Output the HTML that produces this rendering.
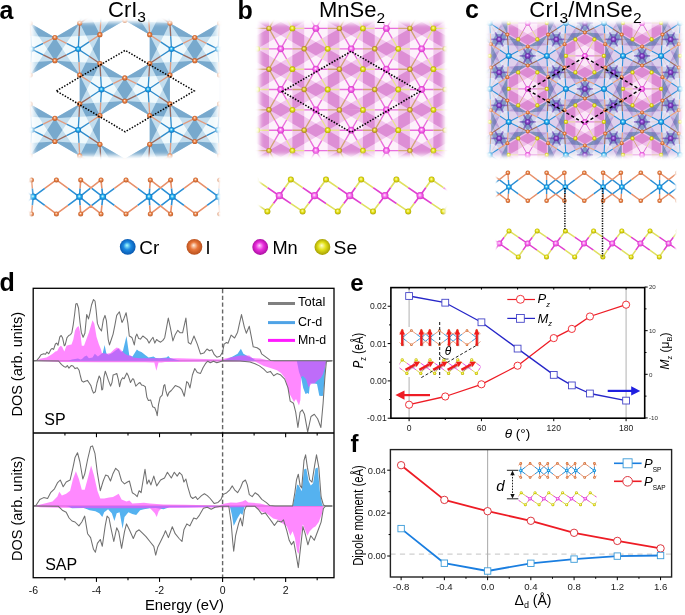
<!DOCTYPE html>
<html><head><meta charset="utf-8"><style>
html,body{margin:0;padding:0;background:#fff;}
svg{display:block;font-family:"Liberation Sans", sans-serif;will-change:transform;}
</style></head><body>
<svg width="685" height="615" viewBox="0 0 685 615">
<defs><radialGradient id="gCr" cx="50%" cy="50%" r="55%" fx="45%" fy="40%"><stop offset="0" stop-color="#e8ffff"/><stop offset="0.45" stop-color="#22b0f0"/><stop offset="1" stop-color="#0a68b8"/></radialGradient><radialGradient id="gI" cx="50%" cy="50%" r="55%" fx="45%" fy="40%"><stop offset="0" stop-color="#fff2e0"/><stop offset="0.45" stop-color="#e9824a"/><stop offset="1" stop-color="#b8561f"/></radialGradient><radialGradient id="gMn" cx="50%" cy="50%" r="55%" fx="45%" fy="40%"><stop offset="0" stop-color="#fff0ff"/><stop offset="0.45" stop-color="#f86cec"/><stop offset="1" stop-color="#d02ac4"/></radialGradient><radialGradient id="gSe" cx="50%" cy="50%" r="55%" fx="45%" fy="40%"><stop offset="0" stop-color="#ffffc0"/><stop offset="0.45" stop-color="#e6e21a"/><stop offset="1" stop-color="#a8a000"/></radialGradient><radialGradient id="gSe2" cx="50%" cy="50%" r="55%" fx="45%" fy="40%"><stop offset="0" stop-color="#ffffa0"/><stop offset="0.45" stop-color="#dcc434"/><stop offset="1" stop-color="#a07018"/></radialGradient><radialGradient id="gCrL" cx="50%" cy="50%" r="55%" fx="45%" fy="40%"><stop offset="0" stop-color="#a8ffff"/><stop offset="0.45" stop-color="#1a88e0"/><stop offset="1" stop-color="#0650a8"/></radialGradient><radialGradient id="gIL" cx="50%" cy="50%" r="55%" fx="45%" fy="40%"><stop offset="0" stop-color="#fff0e0"/><stop offset="0.45" stop-color="#e8763a"/><stop offset="1" stop-color="#b04a18"/></radialGradient><radialGradient id="gMnL" cx="50%" cy="50%" r="55%" fx="45%" fy="40%"><stop offset="0" stop-color="#ffd0ff"/><stop offset="0.45" stop-color="#ea30dc"/><stop offset="1" stop-color="#a00898"/></radialGradient><radialGradient id="gSeL" cx="50%" cy="50%" r="55%" fx="45%" fy="40%"><stop offset="0" stop-color="#ffffd0"/><stop offset="0.45" stop-color="#e2e018"/><stop offset="1" stop-color="#9a9400"/></radialGradient><radialGradient id="gMnP" cx="50%" cy="50%" r="55%" fx="45%" fy="40%"><stop offset="0" stop-color="#e0c0ff"/><stop offset="0.45" stop-color="#8a48d0"/><stop offset="1" stop-color="#5a2090"/></radialGradient><filter id="mAf" x="-20%" y="-20%" width="140%" height="140%"><feGaussianBlur stdDeviation="1.9"/></filter><mask id="mA" maskUnits="userSpaceOnUse" x="0" y="0" width="685" height="615"><rect x="33.6" y="22.6" width="182.9" height="132.6" fill="#fff" filter="url(#mAf)"/></mask><filter id="mAsf" x="-20%" y="-20%" width="140%" height="140%"><feGaussianBlur stdDeviation="1.5"/></filter><mask id="mAs" maskUnits="userSpaceOnUse" x="0" y="0" width="685" height="615"><rect x="31" y="172" width="187" height="46" fill="#fff" filter="url(#mAsf)"/></mask><filter id="mBf" x="-20%" y="-20%" width="140%" height="140%"><feGaussianBlur stdDeviation="2.0"/></filter><mask id="mB" maskUnits="userSpaceOnUse" x="0" y="0" width="685" height="615"><rect x="259.8" y="23.8" width="183.5" height="131" fill="#fff" filter="url(#mBf)"/></mask><filter id="mBsf" x="-20%" y="-20%" width="140%" height="140%"><feGaussianBlur stdDeviation="1.5"/></filter><mask id="mBs" maskUnits="userSpaceOnUse" x="0" y="0" width="685" height="615"><rect x="260.5" y="172" width="184" height="45" fill="#fff" filter="url(#mBsf)"/></mask><filter id="mCf" x="-20%" y="-20%" width="140%" height="140%"><feGaussianBlur stdDeviation="2.0"/></filter><mask id="mC" maskUnits="userSpaceOnUse" x="0" y="0" width="685" height="615"><rect x="490" y="24" width="189.5" height="131.5" fill="#fff" filter="url(#mCf)"/></mask><filter id="mCsf" x="-20%" y="-20%" width="140%" height="140%"><feGaussianBlur stdDeviation="1.2"/></filter><mask id="mCs" maskUnits="userSpaceOnUse" x="0" y="0" width="685" height="615"><rect x="497" y="168" width="178" height="37" fill="#fff" filter="url(#mCsf)"/></mask><filter id="mCs2f" x="-20%" y="-20%" width="140%" height="140%"><feGaussianBlur stdDeviation="1.2"/></filter><mask id="mCs2" maskUnits="userSpaceOnUse" x="0" y="0" width="685" height="615"><rect x="497" y="226" width="178" height="35" fill="#fff" filter="url(#mCs2f)"/></mask></defs>
<rect width="685" height="615" fill="#fff"/>
<line x1="34" y1="360.8" x2="333" y2="360.8" stroke="#9a9a9a" stroke-width="1"/>
<polygon points="68,360.8 68,360.8 72,359.5 75,359 78,358.5 80.4,359.5 82,359 84.5,356.5 86.7,355.6 88.9,358.3 92.5,357.4 94.8,353.8 97.9,356.5 101.5,353.8 102.8,353 104.6,344.9 106.4,353.5 108.6,354.7 112.2,352.9 115.8,350.2 118.5,348.5 121.1,352 122.9,351.1 126.5,336 128,346.7 129.3,355.6 132.5,356.5 134.7,352.9 136.9,349.4 138.7,351.1 141.4,352 143.7,353.8 145.9,355.6 148.6,357.4 151.3,357 153.5,356.5 155.7,357.9 159.3,358.3 166.5,357.4 168.3,356.1 170,357.9 172.7,358.7 180,360.8 222,360.8 225.9,359.5 232.7,356.6 237.6,353.7 240.9,348.8 243.4,353.7 248.3,356.6 252.2,358.1 256,360.8 256,360.8" fill="#55b2f0" fill-opacity="1.0"/>
<polygon points="296.8,360.8 296.8,360.8 299,372 301.2,378 303.2,388 305.5,393.9 307.7,393 308.9,393.9 310,383.5 314.3,383.5 317,384 319.3,395.8 321.5,396 323.1,395.8 324.5,380 325.3,365.9 326.4,360.8 326.4,360.8" fill="#55b2f0" fill-opacity="1.0"/>
<polygon points="34,360.8 34,360.8 36.6,360.5 40.2,358.7 46.4,357.4 50,355.6 52.7,353.8 55.4,351.6 57.2,351.1 59,347.6 60.7,345.8 62.1,346.7 64.3,351.6 66.5,345.8 68.8,344.9 71.5,344.4 73.3,339.5 75,330.6 76.8,327.4 78.6,326.1 80.4,333.3 81.8,345.8 84,345.8 86.3,339.5 88.9,332.4 92.5,320.3 94.3,323.4 96.5,336.8 98.8,344 101,349.4 101.9,352.9 106.8,353.8 110.4,352.9 114,349.4 116.7,347.6 119.4,348.5 122,351.1 124.7,353.8 128,355.5 130.7,355.6 133,357.5 140,358.3 178,358.3 222,359.5 224.9,358.5 232.7,357 240.5,355.6 249.3,355.6 252.2,358.1 260,358.5 270,360.8 270,360.8" fill="#ff40ff" fill-opacity="0.62"/>
<polygon points="34,360.8 34,360.8 60,362 100,362.3 145,362.3 152,362.4 154.3,362.6 156.4,370.8 158.5,362.6 161.6,362.4 165,362 222,361.5 255,361.5 259.4,363.7 263.8,365.9 270.4,368.1 277,370.3 281,373 285,378 289,393 291.8,398 294,402 296,399 299,405.5 300.4,400 301.2,377 303,376 306,379 308.5,387.3 311.7,383.5 314.6,383.5 317.4,380.6 320.9,378 323.1,374 326.4,361.5 327,360.8 327,360.8" fill="#ff40ff" fill-opacity="0.62"/>
<polyline points="34,360.8 36.6,360.5 39.3,357.4 41,354.7 43.7,353.8 45.5,354.3 46.9,352 48.7,353.8 50.9,349.4 52.2,348.5 53.6,349.4 55.4,344 56.7,343.1 58,345.3 59.8,336.8 61.2,335.5 62.5,337.7 64.3,345.8 65.2,344.9 67,337.7 68.8,335.5 70.6,334.6 71.9,332.4 73.3,324.3 74.6,314.5 75.8,304 77,303.5 78.5,308 80,322.5 81.3,332.4 83.1,337.3 84.9,333.3 86.7,314.5 88.5,318.9 89.8,313.6 91.5,305 93.5,299.5 95,301 96.1,310 97.4,323.4 99.2,327.9 101.5,331 103.3,319.8 105,315.4 106.4,320.7 108.2,339.5 109.5,344.9 111.3,339.5 113.1,334.1 114.9,325.2 116.7,315.4 119.4,311.8 122,322.5 123.8,318.9 126.1,312.7 127.9,323.4 129.3,336 130.7,336.8 132,337.7 134.3,344.9 135.6,336.8 136.9,334.1 138.7,338.6 140.5,339.1 142.8,336 145,337.7 147.2,339.5 149,343.1 151.3,339.5 153,337.3 154.8,343.1 156.6,339.5 158.9,341.3 160.6,342.2 162.9,340.4 164.7,337.7 166.5,327.9 168.3,318 170.4,327.9 172.9,340.9 175.3,334.4 177.8,330.3 180.2,332.8 182.6,332.8 185.9,318.1 188.3,342.5 190.8,344.1 194,336 197.3,344.1 200.5,353.9 203.8,353.1 207,349 209.5,350.7 211.9,349.8 214.3,354.7 216.8,357.2 220,356.3 222.5,352.3 224.1,344.1 226.5,342.5 228,343.3 231.1,335.1 234.6,338 237.6,332.2 239.5,323.4 241.5,314.6 244.4,327.3 246.3,333.2 249.3,326.3 251.2,336.1 253.2,346.8 257.1,347.8 260,349.8 261.6,353.8 266,357.1 270.4,360.4 275,360.8 332,360.8" fill="none" stroke="#707070" stroke-width="1.05" stroke-linejoin="round" />
<polyline points="34,360.8 58.5,361 61.6,364.6 63.8,366.4 65.9,367.3 67.3,365.5 69,368.1 71.2,365.5 73,366 75.1,368.6 77.3,367.7 79.1,370.3 80.4,376 81.7,380.8 83.5,382.1 85.2,381.3 87.4,380.4 89.2,383 90.9,385.6 92.2,390 93.5,393.1 95.3,391.8 97,383 99.2,376 100.5,378.6 101.8,390 102.7,389.2 104,376.9 105.3,371.2 106.7,375.1 108.4,380.4 110.6,386.1 112,382.5 113.1,375.1 114.6,374.5 116.8,373.5 118.3,379.3 119.6,386.7 121,380.4 122.6,377.7 124.1,378.8 126.8,373 128.4,376.1 130.5,382.5 132.6,378.8 133.7,379.3 135.8,386.2 138.4,383.5 140,382.5 141.6,385.1 143.7,385.6 145.3,386.7 146.9,397.3 148.4,400.4 150.6,399.9 152.7,406.8 154.8,407.8 156.4,412 157.2,415.7 158.5,404.6 160.1,397.3 162.2,395.1 163.8,385.6 164.8,384.6 165.9,390.9 167.5,396.2 169,392.5 171.3,390.5 175.3,385.6 179.4,387.2 181.8,389.7 184.3,396.2 186.7,381.5 188.3,383.2 190,388 192.4,375 194.8,368.5 197.3,372.6 200.5,373.4 203,367.7 205.4,363.7 207.8,361.2 210.3,362.8 213.5,361.2 216.8,362.8 220,361.7 223.3,360.7 240,361 250,362 255,363.7 259.4,365.9 263.8,369.2 267.1,372.5 270.4,371.4 273.7,375.8 277,373.6 280.3,374.7 284.7,379.1 288,387.9 290.2,401.1 293.5,403.3 295.7,412.1 297.9,427.5 300.1,412.1 302.3,409.9 304.5,414.3 307.7,431.9 311,416.5 314.3,414.3 317.6,418.7 320.9,427.5 323.1,403.3 324.9,376.9 326.4,361.5 332,360.8" fill="none" stroke="#707070" stroke-width="1.05" stroke-linejoin="round" />
<line x1="34" y1="506.0" x2="333" y2="506.0" stroke="#9a9a9a" stroke-width="1"/>
<polygon points="292.8,506 292.8,506 295.6,492.4 297.2,484.4 298.8,485.6 301.7,491.3 304,469.6 306.3,468.5 308.6,481 310.8,485.6 313.1,483.3 315.4,468.5 317.7,467.4 320,492.4 322.2,505 323,506 323,506" fill="#55b2f0" fill-opacity="1.0"/>
<polygon points="66,506 66,506 68.1,506.5 72,508.3 83.7,507.9 89.6,510.2 95.4,511.2 99.3,513.2 102.3,517.1 104.2,512.2 108.1,509.3 108.9,510.2 111.8,513.2 114.4,521 116.7,513.2 119.6,512.2 122.6,528.8 124.5,517.1 128.4,512.2 132.3,514.1 136.2,515.1 140.1,510.2 144,509.3 149.9,508.3 155.7,507.9 163.5,509.3 169.4,507.3 185,507.3 200,507 220,506.5 229.8,506.4 231.7,514.1 233.7,525.9 235.6,522 237.6,518 240.5,513.2 242.4,515.1 244.4,507.3 246,506 246,506" fill="#55b2f0" fill-opacity="1.0"/>
<polygon points="34,506 34,506 44.7,503.4 52.5,501.5 57.4,496.6 59.3,491.7 61.9,495.6 66.2,493.7 70.1,490.7 73,479 75.9,471.2 78.9,479 81.8,489.8 84.7,489.8 87.6,479 91.1,465.4 93.9,475.1 97.4,490.7 100.3,498.5 104.2,498.5 109.1,497.6 113,497 115.7,495.6 118.7,493.7 121.6,499.5 126.5,501.5 129.4,500.5 132.3,503.4 144,502.8 149.9,503.4 163.5,504.4 185,504.8 219,505.4 224.9,503.4 230.7,502.4 236.6,502.8 242.4,501.5 245.4,500.1 248.3,502.4 260,503.4 266,505 270,506 270,506" fill="#ff40ff" fill-opacity="0.62"/>
<polygon points="34,506 34,506 40,507.2 60,507.8 100,508.2 145,508.2 149.9,508 154.8,513.2 156.7,517.1 158.7,511.2 161.6,508.3 165,508 222,507.5 255,507 257.3,508.4 261.8,511.8 267.5,514.1 273.2,518.6 277.8,519.8 282.4,523.2 286.9,526.6 290.3,535.7 292.6,531.2 294.9,538 297.2,551.7 298.8,554 300.6,535.7 302.9,524.3 305.1,530 307.4,535.7 309.7,531.2 313.1,527.7 315.4,526.6 318.8,522.1 322.2,512.9 323.4,506.1 324,506 324,506" fill="#ff40ff" fill-opacity="0.62"/>
<polyline points="34,506 35.9,505.5 39.8,499.5 43.7,497.6 47.6,498.5 50.6,492.7 54.5,488.8 57.4,482.9 60.3,480 63.2,486.8 66.2,482 70.1,480 73,467.3 75,457.6 77.5,452.7 79.8,461.5 82.8,479 84.7,474.1 87.6,459.5 90.6,446.8 92.5,445.9 95,453.7 97.4,473.2 100.3,490.7 103.2,481 105.6,475.1 108.1,476.1 110.5,481 112.8,474.1 115.7,468.3 118.7,471.2 121.6,481 124.5,483.9 127.4,482 129.4,481 132.3,492.7 135.2,494.6 137.2,496.6 139.1,490.7 141.1,492.7 143,481 145,469.3 147,483.9 148.9,480 150.9,484.9 153.8,476.1 156.7,485.9 160.6,480 164.5,478 167.4,472.2 171.3,478 174.3,472.2 177.2,476.1 179.5,472.5 182,475.1 183.9,482 185.9,479 187.8,486.8 190.7,496.6 192.7,498.5 195.6,496.6 197.6,499.5 201.5,495.6 204.4,493.7 207.3,495.6 210.2,498.5 214.1,503.4 218,502.4 221,499.5 222.9,494.6 226.8,492.7 229.8,489.8 232.3,485.9 234.6,489.8 237.6,492.7 240.5,487.8 242.8,482 245.4,480 247.3,484.9 249.3,494.6 252.2,496.6 255.1,492.7 258,494.7 261.8,499.3 266.4,502.7 269.8,505.6 275,506 292.6,506 294.9,492.4 296.5,479.9 298.3,474.2 300.1,485.6 301.7,487.9 304,460.5 305.6,454.8 307.4,467.4 309.7,479.9 312,482.2 314.7,465.1 316.5,454.8 318.8,467.4 321.1,497 323.4,505 325.7,506 332,506" fill="none" stroke="#707070" stroke-width="1.05" stroke-linejoin="round" />
<polyline points="34,506 58.4,506.3 62.3,510.2 66.2,512.2 69.1,518 72,521 75,522 78.9,525.9 81.8,522 84.7,516.1 87.6,533.7 90.6,537.6 93.5,549.3 95.4,552.2 97.4,543.4 100.3,539.5 102.3,546.3 105.2,525.9 107.1,516.1 109,518 110.9,527.8 113.8,541.5 116.7,527.8 118.7,531.7 121.6,548.3 124.5,531.7 126.5,523.9 129.4,529.8 133.3,538.5 136.2,531.7 139.1,529.8 143,533.7 146,536.6 149.9,541.5 153.8,546.3 155.7,555.1 157.7,547.3 160.6,541.5 163.5,535.6 165.5,530.7 168.4,537.6 172.3,526.8 175.2,533.7 179.1,538.5 182,541.5 183.9,529.8 186.8,523.9 189.8,525.9 193.7,518 196.6,519 199.5,515.1 203.4,508.3 207.3,507.3 211.2,509.3 215.1,507.3 221,506.3 228.8,506.3 231.1,522 232.7,541.5 233.7,551.2 235.6,535.6 238.5,523.9 240.5,518 242.4,525.9 244.4,510.2 246.3,506.3 255,506.3 258.4,509.5 261.8,514.1 265.3,512.9 268.7,517.5 272.1,522.1 274.4,525.5 277.8,520.9 281.2,522.1 283.5,519.8 286.9,531.2 289.2,540.3 291.5,544.8 293.7,541.4 296,554 298.3,567.6 300.6,547.1 302.9,526.6 305.1,533.4 307.9,544.8 310.8,535.7 314.3,540.3 317.7,531.2 321.1,522.1 323.4,508.4 325.7,506 332,506" fill="none" stroke="#707070" stroke-width="1.05" stroke-linejoin="round" />
<line x1="222.6" y1="289" x2="222.6" y2="577" stroke="#666" stroke-width="1.4" stroke-dasharray="4.2,2.6"/>
<rect x="33.2" y="288.3" width="300.8" height="289.4" fill="none" stroke="#000" stroke-width="1.3"/>
<line x1="33.2" y1="433" x2="334" y2="433" stroke="#000" stroke-width="1.3"/>
<line x1="64.93" y1="433" x2="64.93" y2="435.6" stroke="#000" stroke-width="1.1"/>
<line x1="64.93" y1="577.7" x2="64.93" y2="580.3" stroke="#000" stroke-width="1.1"/>
<line x1="96.46" y1="433" x2="96.46" y2="437.2" stroke="#000" stroke-width="1.1"/>
<line x1="96.46" y1="577.7" x2="96.46" y2="581.9" stroke="#000" stroke-width="1.1"/>
<line x1="127.99" y1="433" x2="127.99" y2="435.6" stroke="#000" stroke-width="1.1"/>
<line x1="127.99" y1="577.7" x2="127.99" y2="580.3" stroke="#000" stroke-width="1.1"/>
<line x1="159.52" y1="433" x2="159.52" y2="437.2" stroke="#000" stroke-width="1.1"/>
<line x1="159.52" y1="577.7" x2="159.52" y2="581.9" stroke="#000" stroke-width="1.1"/>
<line x1="191.05" y1="433" x2="191.05" y2="435.6" stroke="#000" stroke-width="1.1"/>
<line x1="191.05" y1="577.7" x2="191.05" y2="580.3" stroke="#000" stroke-width="1.1"/>
<line x1="222.58" y1="433" x2="222.58" y2="437.2" stroke="#000" stroke-width="1.1"/>
<line x1="222.58" y1="577.7" x2="222.58" y2="581.9" stroke="#000" stroke-width="1.1"/>
<line x1="254.11" y1="433" x2="254.11" y2="435.6" stroke="#000" stroke-width="1.1"/>
<line x1="254.11" y1="577.7" x2="254.11" y2="580.3" stroke="#000" stroke-width="1.1"/>
<line x1="285.64" y1="433" x2="285.64" y2="437.2" stroke="#000" stroke-width="1.1"/>
<line x1="285.64" y1="577.7" x2="285.64" y2="581.9" stroke="#000" stroke-width="1.1"/>
<line x1="317.17" y1="433" x2="317.17" y2="435.6" stroke="#000" stroke-width="1.1"/>
<line x1="317.17" y1="577.7" x2="317.17" y2="580.3" stroke="#000" stroke-width="1.1"/>
<text x="33.4" y="593.8" font-size="10.5" text-anchor="middle" font-weight="normal" font-style="normal" fill="#111" >-6</text>
<text x="96.46" y="593.8" font-size="10.5" text-anchor="middle" font-weight="normal" font-style="normal" fill="#111" >-4</text>
<text x="159.52" y="593.8" font-size="10.5" text-anchor="middle" font-weight="normal" font-style="normal" fill="#111" >-2</text>
<text x="222.58" y="593.8" font-size="10.5" text-anchor="middle" font-weight="normal" font-style="normal" fill="#111" >0</text>
<text x="285.64" y="593.8" font-size="10.5" text-anchor="middle" font-weight="normal" font-style="normal" fill="#111" >2</text>
<text x="184.4" y="609.7" font-size="14.3" text-anchor="middle" font-weight="normal" font-style="normal" fill="#000" textLength="79" lengthAdjust="spacingAndGlyphs">Energy (eV)</text>
<line x1="268" y1="303.5" x2="295" y2="303.5" stroke="#808080" stroke-width="3"/>
<line x1="268" y1="322.6" x2="295" y2="322.6" stroke="#4fa3e6" stroke-width="3"/>
<line x1="268" y1="340.4" x2="295" y2="340.4" stroke="#ff1aff" stroke-width="3"/>
<text x="298" y="305.6" font-size="12.2" text-anchor="start" font-weight="normal" font-style="normal" fill="#000" textLength="27.3" lengthAdjust="spacingAndGlyphs">Total</text>
<text x="298" y="326.2" font-size="12.2" text-anchor="start" font-weight="normal" font-style="normal" fill="#000" textLength="24.3" lengthAdjust="spacingAndGlyphs">Cr-d</text>
<text x="298" y="344.4" font-size="12.2" text-anchor="start" font-weight="normal" font-style="normal" fill="#000" textLength="28.2" lengthAdjust="spacingAndGlyphs">Mn-d</text>
<text x="44.3" y="425.2" font-size="16" text-anchor="start" font-weight="normal" font-style="normal" fill="#000" >SP</text>
<text x="45.2" y="569.5" font-size="16" text-anchor="start" font-weight="normal" font-style="normal" fill="#000" >SAP</text>
<text x="-0.5" y="290.5" font-size="25" text-anchor="start" font-weight="bold" font-style="normal" fill="#000" >d</text>
<text transform="translate(21.6,364.2) rotate(-90)" font-size="14.5" text-anchor="middle">DOS (arb. units)</text>
<text transform="translate(21.6,508.6) rotate(-90)" font-size="14.5" text-anchor="middle">DOS (arb. units)</text>
<line x1="409.1" y1="287.6" x2="409.1" y2="418.2" stroke="#b8b8b8" stroke-width="1.1"/>
<line x1="626.09" y1="287.6" x2="626.09" y2="418.2" stroke="#b8b8b8" stroke-width="1.1"/>
<polyline points="409.1,404.7 445.27,396.5 481.43,384.3 517.6,365.7 553.76,338.1 571.84,328.9 589.92,316.5 626.09,304.7" fill="none" stroke="#ee1c25" stroke-width="1.3" stroke-linejoin="round" />
<polyline points="409.1,296 445.27,302.7 481.43,322.3 517.6,348.6 553.76,374.9 571.84,385.4 589.92,393.5 626.09,400.6" fill="none" stroke="#2626c8" stroke-width="1.3" stroke-linejoin="round" />
<circle cx="409.1" cy="404.7" r="3.6" fill="#fff" stroke="#ee1c25" stroke-width="0.9"/>
<circle cx="445.27" cy="396.5" r="3.6" fill="#fff" stroke="#ee1c25" stroke-width="0.9"/>
<circle cx="481.43" cy="384.3" r="3.6" fill="#fff" stroke="#ee1c25" stroke-width="0.9"/>
<circle cx="517.6" cy="365.7" r="3.6" fill="#fff" stroke="#ee1c25" stroke-width="0.9"/>
<circle cx="553.76" cy="338.1" r="3.6" fill="#fff" stroke="#ee1c25" stroke-width="0.9"/>
<circle cx="571.84" cy="328.9" r="3.6" fill="#fff" stroke="#ee1c25" stroke-width="0.9"/>
<circle cx="589.92" cy="316.5" r="3.6" fill="#fff" stroke="#ee1c25" stroke-width="0.9"/>
<circle cx="626.09" cy="304.7" r="3.6" fill="#fff" stroke="#ee1c25" stroke-width="0.9"/>
<rect x="405.7" y="292.6" width="6.8" height="6.8" fill="#fff" stroke="#4545c8" stroke-width="0.9"/>
<rect x="441.87" y="299.3" width="6.8" height="6.8" fill="#fff" stroke="#4545c8" stroke-width="0.9"/>
<rect x="478.03" y="318.9" width="6.8" height="6.8" fill="#fff" stroke="#4545c8" stroke-width="0.9"/>
<rect x="514.2" y="345.2" width="6.8" height="6.8" fill="#fff" stroke="#4545c8" stroke-width="0.9"/>
<rect x="550.36" y="371.5" width="6.8" height="6.8" fill="#fff" stroke="#4545c8" stroke-width="0.9"/>
<rect x="568.44" y="382" width="6.8" height="6.8" fill="#fff" stroke="#4545c8" stroke-width="0.9"/>
<rect x="586.52" y="390.1" width="6.8" height="6.8" fill="#fff" stroke="#4545c8" stroke-width="0.9"/>
<rect x="622.69" y="397.2" width="6.8" height="6.8" fill="#fff" stroke="#4545c8" stroke-width="0.9"/>
<rect x="390.9" y="287.6" width="253.8" height="130.6" fill="none" stroke="#000" stroke-width="1.6"/>
<line x1="387.7" y1="306.24" x2="390.9" y2="306.24" stroke="#000" stroke-width="1"/>
<text x="386.7" y="309.24" font-size="8.6" text-anchor="end" font-weight="normal" font-style="normal" fill="#222" >0.02</text>
<line x1="387.7" y1="343.57" x2="390.9" y2="343.57" stroke="#000" stroke-width="1"/>
<text x="386.7" y="346.57" font-size="8.6" text-anchor="end" font-weight="normal" font-style="normal" fill="#222" >0.01</text>
<line x1="387.7" y1="380.9" x2="390.9" y2="380.9" stroke="#000" stroke-width="1"/>
<text x="386.7" y="383.9" font-size="8.6" text-anchor="end" font-weight="normal" font-style="normal" fill="#222" >0.00</text>
<line x1="387.7" y1="418.23" x2="390.9" y2="418.23" stroke="#000" stroke-width="1"/>
<text x="386.7" y="421.23" font-size="8.6" text-anchor="end" font-weight="normal" font-style="normal" fill="#222" >-0.01</text>
<line x1="389.09999999999997" y1="324.9" x2="390.9" y2="324.9" stroke="#000" stroke-width="1"/>
<line x1="389.09999999999997" y1="362.23" x2="390.9" y2="362.23" stroke="#000" stroke-width="1"/>
<line x1="389.09999999999997" y1="399.56" x2="390.9" y2="399.56" stroke="#000" stroke-width="1"/>
<line x1="644.7" y1="287.04" x2="647.7" y2="287.04" stroke="#000" stroke-width="1"/>
<text x="648.9" y="289.24" font-size="6.2" text-anchor="start" font-weight="normal" font-style="normal" fill="#333" >20</text>
<line x1="644.7" y1="330.67" x2="647.7" y2="330.67" stroke="#000" stroke-width="1"/>
<text x="648.9" y="332.87" font-size="6.2" text-anchor="start" font-weight="normal" font-style="normal" fill="#333" >10</text>
<line x1="644.7" y1="374.3" x2="647.7" y2="374.3" stroke="#000" stroke-width="1"/>
<text x="648.9" y="376.5" font-size="6.2" text-anchor="start" font-weight="normal" font-style="normal" fill="#333" >0</text>
<line x1="644.7" y1="417.93" x2="647.7" y2="417.93" stroke="#000" stroke-width="1"/>
<text x="648.9" y="420.13" font-size="6.2" text-anchor="start" font-weight="normal" font-style="normal" fill="#333" >-10</text>
<line x1="644.7" y1="308.86" x2="646.5" y2="308.86" stroke="#000" stroke-width="1"/>
<line x1="644.7" y1="352.49" x2="646.5" y2="352.49" stroke="#000" stroke-width="1"/>
<line x1="644.7" y1="396.12" x2="646.5" y2="396.12" stroke="#000" stroke-width="1"/>
<line x1="409.1" y1="418.2" x2="409.1" y2="421.2" stroke="#000" stroke-width="1"/>
<line x1="409.1" y1="287.6" x2="409.1" y2="289.6" stroke="#000" stroke-width="1"/>
<line x1="445.27" y1="418.2" x2="445.27" y2="420.0" stroke="#000" stroke-width="1"/>
<line x1="445.27" y1="287.6" x2="445.27" y2="289.6" stroke="#000" stroke-width="1"/>
<line x1="481.43" y1="418.2" x2="481.43" y2="421.2" stroke="#000" stroke-width="1"/>
<line x1="481.43" y1="287.6" x2="481.43" y2="289.6" stroke="#000" stroke-width="1"/>
<line x1="517.6" y1="418.2" x2="517.6" y2="420.0" stroke="#000" stroke-width="1"/>
<line x1="517.6" y1="287.6" x2="517.6" y2="289.6" stroke="#000" stroke-width="1"/>
<line x1="553.76" y1="418.2" x2="553.76" y2="421.2" stroke="#000" stroke-width="1"/>
<line x1="553.76" y1="287.6" x2="553.76" y2="289.6" stroke="#000" stroke-width="1"/>
<line x1="589.92" y1="418.2" x2="589.92" y2="420.0" stroke="#000" stroke-width="1"/>
<line x1="589.92" y1="287.6" x2="589.92" y2="289.6" stroke="#000" stroke-width="1"/>
<line x1="626.09" y1="418.2" x2="626.09" y2="421.2" stroke="#000" stroke-width="1"/>
<line x1="626.09" y1="287.6" x2="626.09" y2="289.6" stroke="#000" stroke-width="1"/>
<text x="409.1" y="430.8" font-size="8.6" text-anchor="middle" font-weight="normal" font-style="normal" fill="#222" >0</text>
<text x="481.43" y="430.8" font-size="8.6" text-anchor="middle" font-weight="normal" font-style="normal" fill="#222" >60</text>
<text x="553.76" y="430.8" font-size="8.6" text-anchor="middle" font-weight="normal" font-style="normal" fill="#222" >120</text>
<text x="626.09" y="430.8" font-size="8.6" text-anchor="middle" font-weight="normal" font-style="normal" fill="#222" >180</text>
<text x="517.5" y="438.3" font-size="13.5" text-anchor="middle" font-weight="normal" font-style="normal" fill="#000" ><tspan font-style="italic">θ</tspan> (°)</text>
<text transform="translate(363.3,350.5) rotate(-90) scale(0.8,1)" font-size="14" text-anchor="middle"><tspan font-style="italic">P</tspan><tspan font-size="9" dy="3">z</tspan><tspan dy="-3"> (eÅ)</tspan></text>
<text transform="translate(669,351) rotate(-90)" font-size="12" text-anchor="middle"><tspan font-style="italic">M</tspan><tspan font-size="7.5" dy="2.5">z</tspan><tspan dy="-2.5"> (μ</tspan><tspan font-size="7.5" dy="2.5">B</tspan><tspan dy="-2.5">)</tspan></text>
<line x1="507.3" y1="299.5" x2="535" y2="299.5" stroke="#ee1c25" stroke-width="1.2"/>
<circle cx="520.4" cy="299.3" r="4" fill="#fff" stroke="#ee1c25" stroke-width="0.9"/>
<line x1="507.3" y1="318.4" x2="535" y2="318.4" stroke="#2626c8" stroke-width="1.2"/>
<rect x="516.5" y="314.5" width="7.8" height="7.8" fill="#fff" stroke="#4545c8" stroke-width="0.9"/>
<text x="537.5" y="303" font-size="13" font-style="italic">P<tspan font-size="7.5" dy="3.6">z</tspan></text>
<text x="537.5" y="322.8" font-size="13" font-style="italic">M<tspan font-size="7.5" dy="3.2">z</tspan></text>
<line x1="430" y1="395.1" x2="402" y2="395.1" stroke="#ee1c25" stroke-width="2.2"/>
<polygon points="395.4,395.1 404.5,390.4 404.5,399.8" fill="#ee1c25"/>
<line x1="607.7" y1="390.9" x2="633" y2="390.9" stroke="#1f1fe0" stroke-width="2.2"/>
<polygon points="640.3,390.9 631.2,386.2 631.2,395.6" fill="#1f1fe0"/>
<text x="350.2" y="291.3" font-size="24" text-anchor="start" font-weight="bold" font-style="normal" fill="#000" >e</text>
<line x1="390.4" y1="554.1" x2="671.6" y2="554.1" stroke="#d0d0d0" stroke-width="1.3" stroke-dasharray="5.2,4.3"/>
<line x1="487.6" y1="449.6" x2="487.6" y2="577.0" stroke="#b0b0b0" stroke-width="1.1"/>
<polyline points="401.12,465.2 444.36,499.9 487.6,511.2 530.84,520.8 574.08,532.8 617.32,540.9 660.56,548.4" fill="none" stroke="#ee1c25" stroke-width="1.8" stroke-linejoin="round" />
<polyline points="401.12,528.6 444.36,563.2 487.6,571 530.84,563.3 574.08,559.1 617.32,556.1 660.56,555.5" fill="none" stroke="#1a7ee0" stroke-width="1.8" stroke-linejoin="round" />
<circle cx="401.12" cy="465.2" r="3.7" fill="#fff" stroke="#d8202a" stroke-width="0.9"/>
<circle cx="444.36" cy="499.9" r="3.7" fill="#fff" stroke="#d8202a" stroke-width="0.9"/>
<circle cx="487.6" cy="511.2" r="3.7" fill="#fff" stroke="#d8202a" stroke-width="0.9"/>
<circle cx="530.84" cy="520.8" r="3.7" fill="#fff" stroke="#d8202a" stroke-width="0.9"/>
<circle cx="574.08" cy="532.8" r="3.7" fill="#fff" stroke="#d8202a" stroke-width="0.9"/>
<circle cx="617.32" cy="540.9" r="3.7" fill="#fff" stroke="#d8202a" stroke-width="0.9"/>
<circle cx="660.56" cy="548.4" r="3.7" fill="#fff" stroke="#d8202a" stroke-width="0.9"/>
<rect x="397.92" y="525.4" width="6.4" height="6.4" fill="#fff" stroke="#3a9ad8" stroke-width="0.9"/>
<rect x="441.16" y="560" width="6.4" height="6.4" fill="#fff" stroke="#3a9ad8" stroke-width="0.9"/>
<rect x="484.4" y="567.8" width="6.4" height="6.4" fill="#fff" stroke="#3a9ad8" stroke-width="0.9"/>
<rect x="527.64" y="560.1" width="6.4" height="6.4" fill="#fff" stroke="#3a9ad8" stroke-width="0.9"/>
<rect x="570.88" y="555.9" width="6.4" height="6.4" fill="#fff" stroke="#3a9ad8" stroke-width="0.9"/>
<rect x="614.12" y="552.9" width="6.4" height="6.4" fill="#fff" stroke="#3a9ad8" stroke-width="0.9"/>
<rect x="657.36" y="552.3" width="6.4" height="6.4" fill="#fff" stroke="#3a9ad8" stroke-width="0.9"/>
<rect x="390.4" y="449.6" width="281.2" height="127.4" fill="none" stroke="#222" stroke-width="1.4"/>
<line x1="387.2" y1="470.2" x2="390.4" y2="470.2" stroke="#000" stroke-width="1"/>
<text x="385.9" y="473.5" font-size="9.3" text-anchor="end" font-weight="normal" font-style="normal" fill="#222" >0.04</text>
<line x1="387.2" y1="513.1" x2="390.4" y2="513.1" stroke="#000" stroke-width="1"/>
<text x="385.9" y="516.4" font-size="9.3" text-anchor="end" font-weight="normal" font-style="normal" fill="#222" >0.02</text>
<line x1="387.2" y1="556" x2="390.4" y2="556" stroke="#000" stroke-width="1"/>
<text x="385.9" y="559.3" font-size="9.3" text-anchor="end" font-weight="normal" font-style="normal" fill="#222" >0.00</text>
<line x1="388.59999999999997" y1="491.65" x2="390.4" y2="491.65" stroke="#000" stroke-width="1"/>
<line x1="388.59999999999997" y1="534.55" x2="390.4" y2="534.55" stroke="#000" stroke-width="1"/>
<line x1="401.12" y1="577.0" x2="401.12" y2="580.2" stroke="#000" stroke-width="1"/>
<line x1="422.74" y1="577.0" x2="422.74" y2="578.8" stroke="#000" stroke-width="1"/>
<line x1="444.36" y1="577.0" x2="444.36" y2="580.2" stroke="#000" stroke-width="1"/>
<line x1="465.98" y1="577.0" x2="465.98" y2="578.8" stroke="#000" stroke-width="1"/>
<line x1="487.6" y1="577.0" x2="487.6" y2="580.2" stroke="#000" stroke-width="1"/>
<line x1="509.22" y1="577.0" x2="509.22" y2="578.8" stroke="#000" stroke-width="1"/>
<line x1="530.84" y1="577.0" x2="530.84" y2="580.2" stroke="#000" stroke-width="1"/>
<line x1="552.46" y1="577.0" x2="552.46" y2="578.8" stroke="#000" stroke-width="1"/>
<line x1="574.08" y1="577.0" x2="574.08" y2="580.2" stroke="#000" stroke-width="1"/>
<line x1="595.7" y1="577.0" x2="595.7" y2="578.8" stroke="#000" stroke-width="1"/>
<line x1="617.32" y1="577.0" x2="617.32" y2="580.2" stroke="#000" stroke-width="1"/>
<line x1="638.94" y1="577.0" x2="638.94" y2="578.8" stroke="#000" stroke-width="1"/>
<line x1="660.56" y1="577.0" x2="660.56" y2="580.2" stroke="#000" stroke-width="1"/>
<text x="401.12" y="590.3" font-size="9.6" text-anchor="middle" font-weight="normal" font-style="normal" fill="#222" >-0.8</text>
<text x="444.36" y="590.3" font-size="9.6" text-anchor="middle" font-weight="normal" font-style="normal" fill="#222" >-0.4</text>
<text x="487.6" y="590.3" font-size="9.6" text-anchor="middle" font-weight="normal" font-style="normal" fill="#222" >0.0</text>
<text x="530.84" y="590.3" font-size="9.6" text-anchor="middle" font-weight="normal" font-style="normal" fill="#222" >0.4</text>
<text x="574.08" y="590.3" font-size="9.6" text-anchor="middle" font-weight="normal" font-style="normal" fill="#222" >0.8</text>
<text x="617.32" y="590.3" font-size="9.6" text-anchor="middle" font-weight="normal" font-style="normal" fill="#222" >1.2</text>
<text x="660.56" y="590.3" font-size="9.6" text-anchor="middle" font-weight="normal" font-style="normal" fill="#222" >1.6</text>
<text x="533" y="604.5" font-size="14" text-anchor="middle">Δ<tspan font-size="9" dy="3">d</tspan><tspan dy="-3"> (Å)</tspan></text>
<text transform="translate(363.4,515.5) rotate(-90) scale(0.755,1)" font-size="15" text-anchor="middle">Dipole moment (eÅ)</text>
<line x1="614" y1="463.3" x2="641.6" y2="463.3" stroke="#1a7ee0" stroke-width="1.6"/>
<rect x="623.1" y="458.8" width="9" height="9" fill="#fff" stroke="#3a9ad8" stroke-width="0.9"/>
<line x1="614" y1="481.3" x2="641.6" y2="481.3" stroke="#ee1c25" stroke-width="1.6"/>
<circle cx="627.6" cy="481.3" r="4.8" fill="#fff" stroke="#d8202a" stroke-width="0.9"/>
<text x="644" y="467.5" font-size="13" font-style="italic">P<tspan font-size="6.5" font-style="normal" dy="4">SP</tspan></text>
<text x="644" y="485.5" font-size="13" font-style="italic">P<tspan font-size="6.5" font-style="normal" dy="4">SAP</tspan></text>
<text x="350.5" y="451.5" font-size="24" text-anchor="start" font-weight="bold" font-style="normal" fill="#000" >f</text>
<g mask="url(#mA)">
<path d="M-15.1 158.7 9.8 144.3 30 155.9 30 184.7 9.8 196.3 -15.1 181.9ZM-15.1 77.9 9.8 63.5 30 75.1 30 103.9 9.8 115.5 -15.1 101.1ZM9.8 115.5 30 103.9 54.9 118.3 54.9 141.5 30 155.9 9.8 144.3ZM54.9 118.3 79.7 103.9 99.9 115.5 99.9 144.3 79.7 155.9 54.9 141.5ZM79.7 155.9 99.9 144.3 124.8 158.7 124.8 181.9 99.9 196.3 79.7 184.7ZM124.8 158.7 149.7 144.3 169.9 155.9 169.9 184.7 149.7 196.3 124.8 181.9ZM-15.1 -2.9 9.8 -17.3 30 -5.7 30 23.1 9.8 34.7 -15.1 20.3ZM9.8 34.7 30 23.1 54.9 37.5 54.9 60.7 30 75.1 9.8 63.5ZM54.9 37.5 79.7 23.1 99.9 34.7 99.9 63.5 79.7 75.1 54.9 60.7ZM79.7 75.1 99.9 63.5 124.8 77.9 124.8 101.1 99.9 115.5 79.7 103.9ZM124.8 77.9 149.7 63.5 169.9 75.1 169.9 103.9 149.7 115.5 124.8 101.1ZM149.7 115.5 169.9 103.9 194.8 118.3 194.8 141.5 169.9 155.9 149.7 144.3ZM194.8 118.3 219.7 103.9 239.9 115.5 239.9 144.3 219.7 155.9 194.8 141.5ZM219.7 155.9 239.9 144.3 264.8 158.7 264.8 181.9 239.9 196.3 219.7 184.7ZM79.7 -5.7 99.9 -17.3 124.8 -2.9 124.8 20.3 99.9 34.7 79.7 23.1ZM124.8 -2.9 149.7 -17.3 169.9 -5.7 169.9 23.1 149.7 34.7 124.8 20.3ZM149.7 34.7 169.9 23.1 194.8 37.5 194.8 60.7 169.9 75.1 149.7 63.5ZM194.8 37.5 219.7 23.1 239.9 34.7 239.9 63.5 219.7 75.1 194.8 60.7ZM219.7 75.1 239.9 63.5 264.8 77.9 264.8 101.1 239.9 115.5 219.7 103.9ZM219.7 -5.7 239.9 -17.3 264.8 -2.9 264.8 20.3 239.9 34.7 219.7 23.1Z" fill="#c2ddee"/>
<path d="M0.9 157.7 16 156.8 22.8 170.3 16 183.8 0.9 182.9 -7.4 170.3ZM0.9 76.9 16 76 22.8 89.5 16 103 0.9 102.1 -7.4 89.5ZM23.7 116.4 38.8 117.3 47.2 129.9 38.8 142.5 23.7 143.4 17 129.9ZM70.9 117.3 86 116.4 92.7 129.9 86 143.4 70.9 142.5 62.5 129.9ZM93.7 156.8 108.8 157.7 117.1 170.3 108.8 182.9 93.7 183.8 86.9 170.3ZM140.9 157.7 156 156.8 162.7 170.3 156 183.8 140.9 182.9 132.5 170.3ZM0.9 -3.9 16 -4.8 22.8 8.7 16 22.2 0.9 21.3 -7.4 8.7ZM23.7 35.6 38.8 36.5 47.2 49.1 38.8 61.7 23.7 62.6 17 49.1ZM70.9 36.5 86 35.6 92.7 49.1 86 62.6 70.9 61.7 62.5 49.1ZM93.7 76 108.8 76.9 117.1 89.5 108.8 102.1 93.7 103 86.9 89.5ZM140.9 76.9 156 76 162.7 89.5 156 103 140.9 102.1 132.5 89.5ZM163.7 116.4 178.8 117.3 187.1 129.9 178.8 142.5 163.7 143.4 156.9 129.9ZM210.8 117.3 225.9 116.4 232.7 129.9 225.9 143.4 210.8 142.5 202.5 129.9ZM233.6 156.8 248.7 157.7 257.1 170.3 248.7 182.9 233.6 183.8 226.9 170.3ZM93.7 -4.8 108.8 -3.9 117.1 8.7 108.8 21.3 93.7 22.2 86.9 8.7ZM140.9 -3.9 156 -4.8 162.7 8.7 156 22.2 140.9 21.3 132.5 8.7ZM163.7 35.6 178.8 36.5 187.1 49.1 178.8 61.7 163.7 62.6 156.9 49.1ZM210.8 36.5 225.9 35.6 232.7 49.1 225.9 62.6 210.8 61.7 202.5 49.1ZM233.6 76 248.7 76.9 257.1 89.5 248.7 102.1 233.6 103 226.9 89.5ZM233.6 -4.8 248.7 -3.9 257.1 8.7 248.7 21.3 233.6 22.2 226.9 8.7Z" fill="#f0f9fc"/>
<path d="M-15.1 158.7 9.8 144.3 0.9 157.7ZM9.8 144.3 30 155.9 16 156.8ZM30 155.9 30 184.7 22.8 170.3ZM30 184.7 9.8 196.3 16 183.8ZM9.8 196.3 -15.1 181.9 0.9 182.9ZM-15.1 181.9 -15.1 158.7 -7.4 170.3ZM-15.1 77.9 9.8 63.5 0.9 76.9ZM9.8 63.5 30 75.1 16 76ZM30 75.1 30 103.9 22.8 89.5ZM30 103.9 9.8 115.5 16 103ZM9.8 115.5 -15.1 101.1 0.9 102.1ZM-15.1 101.1 -15.1 77.9 -7.4 89.5ZM9.8 115.5 30 103.9 23.7 116.4ZM30 103.9 54.9 118.3 38.8 117.3ZM54.9 118.3 54.9 141.5 47.2 129.9ZM54.9 141.5 30 155.9 38.8 142.5ZM30 155.9 9.8 144.3 23.7 143.4ZM9.8 144.3 9.8 115.5 17 129.9ZM54.9 118.3 79.7 103.9 70.9 117.3ZM79.7 103.9 99.9 115.5 86 116.4ZM99.9 115.5 99.9 144.3 92.7 129.9ZM99.9 144.3 79.7 155.9 86 143.4ZM79.7 155.9 54.9 141.5 70.9 142.5ZM54.9 141.5 54.9 118.3 62.5 129.9ZM79.7 155.9 99.9 144.3 93.7 156.8ZM99.9 144.3 124.8 158.7 108.8 157.7ZM124.8 158.7 124.8 181.9 117.1 170.3ZM124.8 181.9 99.9 196.3 108.8 182.9ZM99.9 196.3 79.7 184.7 93.7 183.8ZM79.7 184.7 79.7 155.9 86.9 170.3ZM124.8 158.7 149.7 144.3 140.9 157.7ZM149.7 144.3 169.9 155.9 156 156.8ZM169.9 155.9 169.9 184.7 162.7 170.3ZM169.9 184.7 149.7 196.3 156 183.8ZM149.7 196.3 124.8 181.9 140.9 182.9ZM124.8 181.9 124.8 158.7 132.5 170.3ZM-15.1 -2.9 9.8 -17.3 0.9 -3.9ZM9.8 -17.3 30 -5.7 16 -4.8ZM30 -5.7 30 23.1 22.8 8.7ZM30 23.1 9.8 34.7 16 22.2ZM9.8 34.7 -15.1 20.3 0.9 21.3ZM-15.1 20.3 -15.1 -2.9 -7.4 8.7ZM9.8 34.7 30 23.1 23.7 35.6ZM30 23.1 54.9 37.5 38.8 36.5ZM54.9 37.5 54.9 60.7 47.2 49.1ZM54.9 60.7 30 75.1 38.8 61.7ZM30 75.1 9.8 63.5 23.7 62.6ZM9.8 63.5 9.8 34.7 17 49.1ZM54.9 37.5 79.7 23.1 70.9 36.5ZM79.7 23.1 99.9 34.7 86 35.6ZM99.9 34.7 99.9 63.5 92.7 49.1ZM99.9 63.5 79.7 75.1 86 62.6ZM79.7 75.1 54.9 60.7 70.9 61.7ZM54.9 60.7 54.9 37.5 62.5 49.1ZM79.7 75.1 99.9 63.5 93.7 76ZM99.9 63.5 124.8 77.9 108.8 76.9ZM124.8 77.9 124.8 101.1 117.1 89.5ZM124.8 101.1 99.9 115.5 108.8 102.1ZM99.9 115.5 79.7 103.9 93.7 103ZM79.7 103.9 79.7 75.1 86.9 89.5ZM124.8 77.9 149.7 63.5 140.9 76.9ZM149.7 63.5 169.9 75.1 156 76ZM169.9 75.1 169.9 103.9 162.7 89.5ZM169.9 103.9 149.7 115.5 156 103ZM149.7 115.5 124.8 101.1 140.9 102.1ZM124.8 101.1 124.8 77.9 132.5 89.5ZM149.7 115.5 169.9 103.9 163.7 116.4ZM169.9 103.9 194.8 118.3 178.8 117.3ZM194.8 118.3 194.8 141.5 187.1 129.9ZM194.8 141.5 169.9 155.9 178.8 142.5ZM169.9 155.9 149.7 144.3 163.7 143.4ZM149.7 144.3 149.7 115.5 156.9 129.9ZM194.8 118.3 219.7 103.9 210.8 117.3ZM219.7 103.9 239.9 115.5 225.9 116.4ZM239.9 115.5 239.9 144.3 232.7 129.9ZM239.9 144.3 219.7 155.9 225.9 143.4ZM219.7 155.9 194.8 141.5 210.8 142.5ZM194.8 141.5 194.8 118.3 202.5 129.9ZM219.7 155.9 239.9 144.3 233.6 156.8ZM239.9 144.3 264.8 158.7 248.7 157.7ZM264.8 158.7 264.8 181.9 257.1 170.3ZM264.8 181.9 239.9 196.3 248.7 182.9ZM239.9 196.3 219.7 184.7 233.6 183.8ZM219.7 184.7 219.7 155.9 226.9 170.3ZM79.7 -5.7 99.9 -17.3 93.7 -4.8ZM99.9 -17.3 124.8 -2.9 108.8 -3.9ZM124.8 -2.9 124.8 20.3 117.1 8.7ZM124.8 20.3 99.9 34.7 108.8 21.3ZM99.9 34.7 79.7 23.1 93.7 22.2ZM79.7 23.1 79.7 -5.7 86.9 8.7ZM124.8 -2.9 149.7 -17.3 140.9 -3.9ZM149.7 -17.3 169.9 -5.7 156 -4.8ZM169.9 -5.7 169.9 23.1 162.7 8.7ZM169.9 23.1 149.7 34.7 156 22.2ZM149.7 34.7 124.8 20.3 140.9 21.3ZM124.8 20.3 124.8 -2.9 132.5 8.7ZM149.7 34.7 169.9 23.1 163.7 35.6ZM169.9 23.1 194.8 37.5 178.8 36.5ZM194.8 37.5 194.8 60.7 187.1 49.1ZM194.8 60.7 169.9 75.1 178.8 61.7ZM169.9 75.1 149.7 63.5 163.7 62.6ZM149.7 63.5 149.7 34.7 156.9 49.1ZM194.8 37.5 219.7 23.1 210.8 36.5ZM219.7 23.1 239.9 34.7 225.9 35.6ZM239.9 34.7 239.9 63.5 232.7 49.1ZM239.9 63.5 219.7 75.1 225.9 62.6ZM219.7 75.1 194.8 60.7 210.8 61.7ZM194.8 60.7 194.8 37.5 202.5 49.1ZM219.7 75.1 239.9 63.5 233.6 76ZM239.9 63.5 264.8 77.9 248.7 76.9ZM264.8 77.9 264.8 101.1 257.1 89.5ZM264.8 101.1 239.9 115.5 248.7 102.1ZM239.9 115.5 219.7 103.9 233.6 103ZM219.7 103.9 219.7 75.1 226.9 89.5ZM219.7 -5.7 239.9 -17.3 233.6 -4.8ZM239.9 -17.3 264.8 -2.9 248.7 -3.9ZM264.8 -2.9 264.8 20.3 257.1 8.7ZM264.8 20.3 239.9 34.7 248.7 21.3ZM239.9 34.7 219.7 23.1 233.6 22.2ZM219.7 23.1 219.7 -5.7 226.9 8.7Z" fill="#78a9cd"/>
<path d="M8.2 170.3L9 157.3M8.2 170.3L19.1 177.5M8.2 170.3L-3.5 176.1M8.2 89.5L9 76.5M8.2 89.5L19.1 96.7M8.2 89.5L-3.5 95.3M31.5 129.9L30.7 116.9M31.5 129.9L43.2 135.7M31.5 129.9L20.6 137.1M78.2 129.9L79 116.9M78.2 129.9L89.1 137.1M78.2 129.9L66.5 135.7M101.5 170.3L100.7 157.3M101.5 170.3L113.2 176.1M101.5 170.3L90.6 177.5M148.1 170.3L148.9 157.3M148.1 170.3L159 177.5M148.1 170.3L136.5 176.1M8.2 8.7L9 -4.3M8.2 8.7L19.1 15.9M8.2 8.7L-3.5 14.5M31.5 49.1L30.7 36.1M31.5 49.1L43.2 54.9M31.5 49.1L20.6 56.3M78.2 49.1L79 36.1M78.2 49.1L89.1 56.3M78.2 49.1L66.5 54.9M101.5 89.5L100.7 76.5M101.5 89.5L113.2 95.3M101.5 89.5L90.6 96.7M148.1 89.5L148.9 76.5M148.1 89.5L159 96.7M148.1 89.5L136.5 95.3M171.5 129.9L170.7 116.9M171.5 129.9L183.1 135.7M171.5 129.9L160.6 137.1M218.1 129.9L218.9 116.9M218.1 129.9L229 137.1M218.1 129.9L206.5 135.7M241.4 170.3L240.7 157.3M241.4 170.3L253.1 176.1M241.4 170.3L230.6 177.5M101.5 8.7L100.7 -4.3M101.5 8.7L113.2 14.5M101.5 8.7L90.6 15.9M148.1 8.7L148.9 -4.3M148.1 8.7L159 15.9M148.1 8.7L136.5 14.5M171.5 49.1L170.7 36.1M171.5 49.1L183.1 54.9M171.5 49.1L160.6 56.3M218.1 49.1L218.9 36.1M218.1 49.1L229 56.3M218.1 49.1L206.5 54.9M241.4 89.5L240.7 76.5M241.4 89.5L253.1 95.3M241.4 89.5L230.6 96.7M241.4 8.7L240.7 -4.3M241.4 8.7L253.1 14.5M241.4 8.7L230.6 15.9" stroke="#2e8ccc" stroke-width="1.3" fill="none"/>
<path d="M9 157.3L9.8 144.3M19.1 177.5L30 184.7M-3.5 176.1L-15.1 181.9M9 76.5L9.8 63.5M19.1 96.7L30 103.9M-3.5 95.3L-15.1 101.1M30.7 116.9L30 103.9M43.2 135.7L54.9 141.5M20.6 137.1L9.8 144.3M79 116.9L79.7 103.9M89.1 137.1L99.9 144.3M66.5 135.7L54.9 141.5M100.7 157.3L99.9 144.3M113.2 176.1L124.8 181.9M90.6 177.5L79.7 184.7M148.9 157.3L149.7 144.3M159 177.5L169.9 184.7M136.5 176.1L124.8 181.9M9 -4.3L9.8 -17.3M19.1 15.9L30 23.1M-3.5 14.5L-15.1 20.3M30.7 36.1L30 23.1M43.2 54.9L54.9 60.7M20.6 56.3L9.8 63.5M79 36.1L79.7 23.1M89.1 56.3L99.9 63.5M66.5 54.9L54.9 60.7M100.7 76.5L99.9 63.5M113.2 95.3L124.8 101.1M90.6 96.7L79.7 103.9M148.9 76.5L149.7 63.5M159 96.7L169.9 103.9M136.5 95.3L124.8 101.1M170.7 116.9L169.9 103.9M183.1 135.7L194.8 141.5M160.6 137.1L149.7 144.3M218.9 116.9L219.7 103.9M229 137.1L239.9 144.3M206.5 135.7L194.8 141.5M240.7 157.3L239.9 144.3M253.1 176.1L264.8 181.9M230.6 177.5L219.7 184.7M100.7 -4.3L99.9 -17.3M113.2 14.5L124.8 20.3M90.6 15.9L79.7 23.1M148.9 -4.3L149.7 -17.3M159 15.9L169.9 23.1M136.5 14.5L124.8 20.3M170.7 36.1L169.9 23.1M183.1 54.9L194.8 60.7M160.6 56.3L149.7 63.5M218.9 36.1L219.7 23.1M229 56.3L239.9 63.5M206.5 54.9L194.8 60.7M240.7 76.5L239.9 63.5M253.1 95.3L264.8 101.1M230.6 96.7L219.7 103.9M240.7 -4.3L239.9 -17.3M253.1 14.5L264.8 20.3M230.6 15.9L219.7 23.1" stroke="#9a6a60" stroke-width="1.3" fill="none"/>
<path d="M8.2 170.3L-3.5 164.5M8.2 170.3L19.1 163.1M8.2 170.3L9 183.3M8.2 89.5L-3.5 83.7M8.2 89.5L19.1 82.3M8.2 89.5L9 102.5M31.5 129.9L20.6 122.7M31.5 129.9L43.2 124.1M31.5 129.9L30.7 142.9M78.2 129.9L66.5 124.1M78.2 129.9L89.1 122.7M78.2 129.9L79 142.9M101.5 170.3L90.6 163.1M101.5 170.3L113.2 164.5M101.5 170.3L100.7 183.3M148.1 170.3L136.5 164.5M148.1 170.3L159 163.1M148.1 170.3L148.9 183.3M8.2 8.7L-3.5 2.9M8.2 8.7L19.1 1.5M8.2 8.7L9 21.7M31.5 49.1L20.6 41.9M31.5 49.1L43.2 43.3M31.5 49.1L30.7 62.1M78.2 49.1L66.5 43.3M78.2 49.1L89.1 41.9M78.2 49.1L79 62.1M101.5 89.5L90.6 82.3M101.5 89.5L113.2 83.7M101.5 89.5L100.7 102.5M148.1 89.5L136.5 83.7M148.1 89.5L159 82.3M148.1 89.5L148.9 102.5M171.5 129.9L160.6 122.7M171.5 129.9L183.1 124.1M171.5 129.9L170.7 142.9M218.1 129.9L206.5 124.1M218.1 129.9L229 122.7M218.1 129.9L218.9 142.9M241.4 170.3L230.6 163.1M241.4 170.3L253.1 164.5M241.4 170.3L240.7 183.3M101.5 8.7L90.6 1.5M101.5 8.7L113.2 2.9M101.5 8.7L100.7 21.7M148.1 8.7L136.5 2.9M148.1 8.7L159 1.5M148.1 8.7L148.9 21.7M171.5 49.1L160.6 41.9M171.5 49.1L183.1 43.3M171.5 49.1L170.7 62.1M218.1 49.1L206.5 43.3M218.1 49.1L229 41.9M218.1 49.1L218.9 62.1M241.4 89.5L230.6 82.3M241.4 89.5L253.1 83.7M241.4 89.5L240.7 102.5M241.4 8.7L230.6 1.5M241.4 8.7L253.1 2.9M241.4 8.7L240.7 21.7" stroke="#2e8ccc" stroke-width="1.3" fill="none"/>
<path d="M-3.5 164.5L-15.1 158.7M19.1 163.1L30 155.9M9 183.3L9.8 196.3M-3.5 83.7L-15.1 77.9M19.1 82.3L30 75.1M9 102.5L9.8 115.5M20.6 122.7L9.8 115.5M43.2 124.1L54.9 118.3M30.7 142.9L30 155.9M66.5 124.1L54.9 118.3M89.1 122.7L99.9 115.5M79 142.9L79.7 155.9M90.6 163.1L79.7 155.9M113.2 164.5L124.8 158.7M100.7 183.3L99.9 196.3M136.5 164.5L124.8 158.7M159 163.1L169.9 155.9M148.9 183.3L149.7 196.3M-3.5 2.9L-15.1 -2.9M19.1 1.5L30 -5.7M9 21.7L9.8 34.7M20.6 41.9L9.8 34.7M43.2 43.3L54.9 37.5M30.7 62.1L30 75.1M66.5 43.3L54.9 37.5M89.1 41.9L99.9 34.7M79 62.1L79.7 75.1M90.6 82.3L79.7 75.1M113.2 83.7L124.8 77.9M100.7 102.5L99.9 115.5M136.5 83.7L124.8 77.9M159 82.3L169.9 75.1M148.9 102.5L149.7 115.5M160.6 122.7L149.7 115.5M183.1 124.1L194.8 118.3M170.7 142.9L169.9 155.9M206.5 124.1L194.8 118.3M229 122.7L239.9 115.5M218.9 142.9L219.7 155.9M230.6 163.1L219.7 155.9M253.1 164.5L264.8 158.7M240.7 183.3L239.9 196.3M90.6 1.5L79.7 -5.7M113.2 2.9L124.8 -2.9M100.7 21.7L99.9 34.7M136.5 2.9L124.8 -2.9M159 1.5L169.9 -5.7M148.9 21.7L149.7 34.7M160.6 41.9L149.7 34.7M183.1 43.3L194.8 37.5M170.7 62.1L169.9 75.1M206.5 43.3L194.8 37.5M229 41.9L239.9 34.7M218.9 62.1L219.7 75.1M230.6 82.3L219.7 75.1M253.1 83.7L264.8 77.9M240.7 102.5L239.9 115.5M230.6 1.5L219.7 -5.7M253.1 2.9L264.8 -2.9M240.7 21.7L239.9 34.7" stroke="#e09c80" stroke-width="1.3" fill="none"/>
<circle cx="30" cy="155.9" r="2.6" fill="url(#gI)"/>
<circle cx="30" cy="75.1" r="2.6" fill="url(#gI)"/>
<circle cx="30" cy="103.9" r="2.6" fill="url(#gI)"/>
<circle cx="54.9" cy="118.3" r="2.6" fill="url(#gI)"/>
<circle cx="54.9" cy="141.5" r="2.6" fill="url(#gI)"/>
<circle cx="79.7" cy="103.9" r="2.6" fill="url(#gI)"/>
<circle cx="99.9" cy="115.5" r="2.6" fill="url(#gI)"/>
<circle cx="99.9" cy="144.3" r="2.6" fill="url(#gI)"/>
<circle cx="79.7" cy="155.9" r="2.6" fill="url(#gI)"/>
<circle cx="149.7" cy="144.3" r="2.6" fill="url(#gI)"/>
<circle cx="169.9" cy="155.9" r="2.6" fill="url(#gI)"/>
<circle cx="30" cy="23.1" r="2.6" fill="url(#gI)"/>
<circle cx="54.9" cy="37.5" r="2.6" fill="url(#gI)"/>
<circle cx="54.9" cy="60.7" r="2.6" fill="url(#gI)"/>
<circle cx="79.7" cy="23.1" r="2.6" fill="url(#gI)"/>
<circle cx="99.9" cy="34.7" r="2.6" fill="url(#gI)"/>
<circle cx="99.9" cy="63.5" r="2.6" fill="url(#gI)"/>
<circle cx="79.7" cy="75.1" r="2.6" fill="url(#gI)"/>
<circle cx="124.8" cy="77.9" r="2.6" fill="url(#gI)"/>
<circle cx="124.8" cy="101.1" r="2.6" fill="url(#gI)"/>
<circle cx="149.7" cy="63.5" r="2.6" fill="url(#gI)"/>
<circle cx="169.9" cy="75.1" r="2.6" fill="url(#gI)"/>
<circle cx="169.9" cy="103.9" r="2.6" fill="url(#gI)"/>
<circle cx="149.7" cy="115.5" r="2.6" fill="url(#gI)"/>
<circle cx="194.8" cy="118.3" r="2.6" fill="url(#gI)"/>
<circle cx="194.8" cy="141.5" r="2.6" fill="url(#gI)"/>
<circle cx="219.7" cy="103.9" r="2.6" fill="url(#gI)"/>
<circle cx="219.7" cy="155.9" r="2.6" fill="url(#gI)"/>
<circle cx="124.8" cy="20.3" r="2.6" fill="url(#gI)"/>
<circle cx="169.9" cy="23.1" r="2.6" fill="url(#gI)"/>
<circle cx="149.7" cy="34.7" r="2.6" fill="url(#gI)"/>
<circle cx="194.8" cy="37.5" r="2.6" fill="url(#gI)"/>
<circle cx="194.8" cy="60.7" r="2.6" fill="url(#gI)"/>
<circle cx="219.7" cy="23.1" r="2.6" fill="url(#gI)"/>
<circle cx="219.7" cy="75.1" r="2.6" fill="url(#gI)"/>
<circle cx="31.5" cy="129.9" r="2.9" fill="url(#gCr)"/>
<circle cx="78.2" cy="129.9" r="2.9" fill="url(#gCr)"/>
<circle cx="31.5" cy="49.1" r="2.9" fill="url(#gCr)"/>
<circle cx="78.2" cy="49.1" r="2.9" fill="url(#gCr)"/>
<circle cx="101.5" cy="89.5" r="2.9" fill="url(#gCr)"/>
<circle cx="148.1" cy="89.5" r="2.9" fill="url(#gCr)"/>
<circle cx="171.5" cy="129.9" r="2.9" fill="url(#gCr)"/>
<circle cx="218.1" cy="129.9" r="2.9" fill="url(#gCr)"/>
<circle cx="171.5" cy="49.1" r="2.9" fill="url(#gCr)"/>
<circle cx="218.1" cy="49.1" r="2.9" fill="url(#gCr)"/>
</g>
<polygon points="56.4,90.9 125.2,50.3 194.2,90.9 125.2,131.8" fill="none" stroke="#000" stroke-width="1.5" stroke-dasharray="1.5,1.5"/>
<text x="108" y="17" font-size="22" text-anchor="start" font-weight="normal" font-style="normal" fill="#000" >CrI<tspan font-size="15.5" dy="5.3">3</tspan></text>
<text x="-0.6" y="19.2" font-size="25" text-anchor="start" font-weight="bold" font-style="normal" fill="#000" >a</text>
<g mask="url(#mAs)">
<path d="M9.9 196.8L10.5 188.4M9.9 196.8L10.5 205.4M9.9 196.8L20.7 188.4M9.9 196.8L20.7 205.4M33.2 196.8L22.2 188.4M33.2 196.8L22.2 205.4M33.2 196.8L32.3 188.4M33.2 196.8L32.3 205.4M33.2 196.8L44.8 188.4M33.2 196.8L44.8 205.4M79.5 196.8L68 188.4M79.5 196.8L68 205.4M79.5 196.8L80.1 188.4M79.5 196.8L80.1 205.4M79.5 196.8L90.2 188.4M79.5 196.8L90.2 205.4M102.8 196.8L91.8 188.4M102.8 196.8L91.8 205.4M102.8 196.8L101.9 188.4M102.8 196.8L101.9 205.4M102.8 196.8L114.4 188.4M102.8 196.8L114.4 205.4M149.1 196.8L137.6 188.4M149.1 196.8L137.6 205.4M149.1 196.8L149.7 188.4M149.1 196.8L149.7 205.4M149.1 196.8L159.8 188.4M149.1 196.8L159.8 205.4M172.4 196.8L161.3 188.4M172.4 196.8L161.3 205.4M172.4 196.8L171.5 188.4M172.4 196.8L171.5 205.4M172.4 196.8L184 188.4M172.4 196.8L184 205.4M218.7 196.8L207.1 188.4M218.7 196.8L207.1 205.4M218.7 196.8L219.3 188.4M218.7 196.8L219.3 205.4M218.7 196.8L229.4 188.4M218.7 196.8L229.4 205.4M242 196.8L230.9 188.4M242 196.8L230.9 205.4M242 196.8L241.1 188.4M242 196.8L241.1 205.4" stroke="#2a8fd6" stroke-width="1.6" fill="none"/>
<path d="M10.5 188.4L11.1 179.9M10.5 205.4L11.1 213.9M20.7 188.4L31.4 179.9M20.7 205.4L31.4 213.9M22.2 188.4L11.1 179.9M22.2 205.4L11.1 213.9M32.3 188.4L31.4 179.9M32.3 205.4L31.4 213.9M44.8 188.4L56.4 179.9M44.8 205.4L56.4 213.9M68 188.4L56.4 179.9M68 205.4L56.4 213.9M80.1 188.4L80.7 179.9M80.1 205.4L80.7 213.9M90.2 188.4L101 179.9M90.2 205.4L101 213.9M91.8 188.4L80.7 179.9M91.8 205.4L80.7 213.9M101.9 188.4L101 179.9M101.9 205.4L101 213.9M114.4 188.4L126 179.9M114.4 205.4L126 213.9M137.6 188.4L126 179.9M137.6 205.4L126 213.9M149.7 188.4L150.3 179.9M149.7 205.4L150.3 213.9M159.8 188.4L170.6 179.9M159.8 205.4L170.6 213.9M161.3 188.4L150.3 179.9M161.3 205.4L150.3 213.9M171.5 188.4L170.6 179.9M171.5 205.4L170.6 213.9M184 188.4L195.6 179.9M184 205.4L195.6 213.9M207.1 188.4L195.6 179.9M207.1 205.4L195.6 213.9M219.3 188.4L219.9 179.9M219.3 205.4L219.9 213.9M229.4 188.4L240.2 179.9M229.4 205.4L240.2 213.9M230.9 188.4L219.9 179.9M230.9 205.4L219.9 213.9M241.1 188.4L240.2 179.9M241.1 205.4L240.2 213.9" stroke="#e8906a" stroke-width="1.6" fill="none"/>
<circle cx="11.1" cy="179.9" r="2.5" fill="url(#gI)"/>
<circle cx="31.4" cy="179.9" r="2.5" fill="url(#gI)"/>
<circle cx="56.4" cy="179.9" r="2.5" fill="url(#gI)"/>
<circle cx="80.7" cy="179.9" r="2.5" fill="url(#gI)"/>
<circle cx="101" cy="179.9" r="2.5" fill="url(#gI)"/>
<circle cx="126" cy="179.9" r="2.5" fill="url(#gI)"/>
<circle cx="150.3" cy="179.9" r="2.5" fill="url(#gI)"/>
<circle cx="170.6" cy="179.9" r="2.5" fill="url(#gI)"/>
<circle cx="195.6" cy="179.9" r="2.5" fill="url(#gI)"/>
<circle cx="219.9" cy="179.9" r="2.5" fill="url(#gI)"/>
<circle cx="240.2" cy="179.9" r="2.5" fill="url(#gI)"/>
<circle cx="11.1" cy="213.9" r="2.5" fill="url(#gI)"/>
<circle cx="31.4" cy="213.9" r="2.5" fill="url(#gI)"/>
<circle cx="56.4" cy="213.9" r="2.5" fill="url(#gI)"/>
<circle cx="80.7" cy="213.9" r="2.5" fill="url(#gI)"/>
<circle cx="101" cy="213.9" r="2.5" fill="url(#gI)"/>
<circle cx="126" cy="213.9" r="2.5" fill="url(#gI)"/>
<circle cx="150.3" cy="213.9" r="2.5" fill="url(#gI)"/>
<circle cx="170.6" cy="213.9" r="2.5" fill="url(#gI)"/>
<circle cx="195.6" cy="213.9" r="2.5" fill="url(#gI)"/>
<circle cx="219.9" cy="213.9" r="2.5" fill="url(#gI)"/>
<circle cx="240.2" cy="213.9" r="2.5" fill="url(#gI)"/>
<circle cx="9.9" cy="196.8" r="3.3" fill="url(#gCr)"/>
<circle cx="33.2" cy="196.8" r="3.3" fill="url(#gCr)"/>
<circle cx="79.5" cy="196.8" r="3.3" fill="url(#gCr)"/>
<circle cx="102.8" cy="196.8" r="3.3" fill="url(#gCr)"/>
<circle cx="149.1" cy="196.8" r="3.3" fill="url(#gCr)"/>
<circle cx="172.4" cy="196.8" r="3.3" fill="url(#gCr)"/>
<circle cx="218.7" cy="196.8" r="3.3" fill="url(#gCr)"/>
<circle cx="242" cy="196.8" r="3.3" fill="url(#gCr)"/>
</g>
<circle cx="127.7" cy="246.8" r="7.9" fill="url(#gCrL)"/>
<text x="139.3" y="253.9" font-size="18" text-anchor="start" font-weight="normal" font-style="normal" fill="#000" textLength="20" lengthAdjust="spacingAndGlyphs">Cr</text>
<circle cx="194.4" cy="246.8" r="7.9" fill="url(#gIL)"/>
<text x="205.6" y="253.9" font-size="18" text-anchor="start" font-weight="normal" font-style="normal" fill="#000" >I</text>
<circle cx="260.2" cy="247" r="7.9" fill="url(#gMnL)"/>
<text x="272.4" y="254.1" font-size="18" text-anchor="start" font-weight="normal" font-style="normal" fill="#000" textLength="25.3" lengthAdjust="spacingAndGlyphs">Mn</text>
<circle cx="322.4" cy="247" r="7.9" fill="url(#gSeL)"/>
<text x="333.6" y="254.1" font-size="18" text-anchor="start" font-weight="normal" font-style="normal" fill="#000" textLength="23.6" lengthAdjust="spacingAndGlyphs">Se</text>
<g mask="url(#mB)">
<path d="M269 150.6 257.2 170.9 233.7 170.9 222 150.6 233.7 130.2 257.2 130.2ZM304.2 170.9 292.4 191.2 269 191.2 257.2 170.9 269 150.6 292.4 150.6ZM269 109.8 257.2 130.2 233.7 130.2 222 109.8 233.7 89.5 257.2 89.5ZM304.2 130.2 292.4 150.5 269 150.5 257.2 130.2 269 109.8 292.4 109.8ZM339.4 150.6 327.7 170.9 304.2 170.9 292.4 150.6 304.2 130.2 327.7 130.2ZM374.7 170.9 362.9 191.2 339.4 191.2 327.7 170.9 339.4 150.6 362.9 150.6ZM269 69.2 257.2 89.5 233.7 89.5 222 69.2 233.7 48.8 257.2 48.8ZM304.2 89.5 292.4 109.8 269 109.9 257.2 89.5 269 69.2 292.4 69.2ZM339.4 109.9 327.7 130.2 304.2 130.2 292.4 109.9 304.2 89.5 327.7 89.5ZM374.7 130.2 362.9 150.6 339.4 150.6 327.7 130.2 339.4 109.9 362.9 109.9ZM409.9 150.6 398.2 170.9 374.7 170.9 362.9 150.6 374.7 130.2 398.2 130.2ZM445.2 170.9 433.4 191.2 409.9 191.2 398.2 170.9 409.9 150.6 433.4 150.6ZM269 28.4 257.2 48.8 233.7 48.8 222 28.4 233.7 8.1 257.2 8.1ZM304.2 48.8 292.4 69.2 269 69.2 257.2 48.8 269 28.4 292.4 28.4ZM339.4 69.2 327.7 89.5 304.2 89.5 292.4 69.2 304.2 48.8 327.7 48.8ZM374.7 89.5 362.9 109.8 339.4 109.9 327.7 89.5 339.4 69.2 362.9 69.2ZM409.9 109.8 398.2 130.2 374.7 130.2 362.9 109.8 374.7 89.5 398.2 89.5ZM445.2 130.2 433.4 150.5 409.9 150.5 398.2 130.2 409.9 109.8 433.4 109.8ZM480.4 150.6 468.7 170.9 445.2 170.9 433.4 150.6 445.2 130.2 468.7 130.2ZM304.2 8.1 292.4 28.4 269 28.4 257.2 8.1 269 -12.3 292.4 -12.3ZM339.4 28.4 327.7 48.8 304.2 48.8 292.4 28.4 304.2 8.1 327.7 8.1ZM374.7 48.8 362.9 69.2 339.4 69.2 327.7 48.8 339.4 28.4 362.9 28.4ZM409.9 69.2 398.2 89.5 374.7 89.5 362.9 69.2 374.7 48.8 398.2 48.8ZM445.2 89.5 433.4 109.8 409.9 109.9 398.2 89.5 409.9 69.2 433.4 69.2ZM480.4 109.8 468.7 130.2 445.2 130.2 433.4 109.8 445.2 89.5 468.7 89.5ZM374.7 8.1 362.9 28.4 339.4 28.4 327.7 8.1 339.4 -12.3 362.9 -12.3ZM409.9 28.4 398.2 48.8 374.7 48.8 362.9 28.4 374.7 8.1 398.2 8.1ZM445.2 48.8 433.4 69.2 409.9 69.2 398.2 48.8 409.9 28.4 433.4 28.4ZM480.4 69.2 468.7 89.5 445.2 89.5 433.4 69.2 445.2 48.8 468.7 48.8ZM445.2 8.1 433.4 28.4 409.9 28.4 398.2 8.1 409.9 -12.3 433.4 -12.3ZM480.4 28.4 468.7 48.8 445.2 48.8 433.4 28.4 445.2 8.1 468.7 8.1Z" fill="#f2c6ee"/>
<path d="M257.2 157.3 245.5 164.1 233.7 157.3 233.7 143.8 245.5 137 257.2 143.8ZM292.4 177.7 280.7 184.5 269 177.7 269 164.1 280.7 157.3 292.4 164.1ZM257.2 116.6 245.5 123.4 233.7 116.6 233.7 103.1 245.5 96.3 257.2 103.1ZM292.4 137 280.7 143.8 269 137 269 123.4 280.7 116.6 292.4 123.4ZM327.7 157.3 315.9 164.1 304.2 157.3 304.2 143.8 315.9 137 327.7 143.8ZM362.9 177.7 351.2 184.5 339.4 177.7 339.4 164.1 351.2 157.3 362.9 164.1ZM257.2 75.9 245.5 82.7 233.7 75.9 233.7 62.4 245.5 55.6 257.2 62.4ZM292.4 96.3 280.7 103.1 269 96.3 269 82.7 280.7 75.9 292.4 82.7ZM327.7 116.6 315.9 123.4 304.2 116.6 304.2 103.1 315.9 96.3 327.7 103.1ZM362.9 137 351.2 143.8 339.4 137 339.4 123.4 351.2 116.6 362.9 123.4ZM398.2 157.3 386.4 164.1 374.7 157.3 374.7 143.8 386.4 137 398.2 143.8ZM433.4 177.7 421.7 184.5 409.9 177.7 409.9 164.1 421.7 157.3 433.4 164.1ZM257.2 35.2 245.5 42 233.7 35.2 233.7 21.7 245.5 14.9 257.2 21.7ZM292.4 55.6 280.7 62.4 269 55.6 269 42 280.7 35.2 292.4 42ZM327.7 75.9 315.9 82.7 304.2 75.9 304.2 62.4 315.9 55.6 327.7 62.4ZM362.9 96.3 351.2 103.1 339.4 96.3 339.4 82.7 351.2 75.9 362.9 82.7ZM398.2 116.6 386.4 123.4 374.7 116.6 374.7 103.1 386.4 96.3 398.2 103.1ZM433.4 137 421.7 143.8 409.9 137 409.9 123.4 421.7 116.6 433.4 123.4ZM468.7 157.3 456.9 164.1 445.2 157.3 445.2 143.8 456.9 137 468.7 143.8ZM292.4 14.9 280.7 21.7 269 14.9 269 1.3 280.7 -5.5 292.4 1.3ZM327.7 35.2 315.9 42 304.2 35.2 304.2 21.7 315.9 14.9 327.7 21.7ZM362.9 55.6 351.2 62.4 339.4 55.6 339.4 42 351.2 35.2 362.9 42ZM398.2 75.9 386.4 82.7 374.7 75.9 374.7 62.4 386.4 55.6 398.2 62.4ZM433.4 96.3 421.7 103.1 409.9 96.3 409.9 82.7 421.7 75.9 433.4 82.7ZM468.7 116.6 456.9 123.4 445.2 116.6 445.2 103.1 456.9 96.3 468.7 103.1ZM362.9 14.9 351.2 21.7 339.4 14.9 339.4 1.3 351.2 -5.5 362.9 1.3ZM398.2 35.2 386.4 42 374.7 35.2 374.7 21.7 386.4 14.9 398.2 21.7ZM433.4 55.6 421.7 62.4 409.9 55.6 409.9 42 421.7 35.2 433.4 42ZM468.7 75.9 456.9 82.7 445.2 75.9 445.2 62.4 456.9 55.6 468.7 62.4ZM433.4 14.9 421.7 21.7 409.9 14.9 409.9 1.3 421.7 -5.5 433.4 1.3ZM468.7 35.2 456.9 42 445.2 35.2 445.2 21.7 456.9 14.9 468.7 21.7Z" fill="#fdf1fb"/>
<path d="M269 150.6 257.2 170.9 257.2 157.3ZM257.2 170.9 233.7 170.9 245.5 164.1ZM233.7 170.9 222 150.6 233.7 157.3ZM222 150.6 233.7 130.2 233.7 143.8ZM233.7 130.2 257.2 130.2 245.5 137ZM257.2 130.2 269 150.6 257.2 143.8ZM304.2 170.9 292.4 191.2 292.4 177.7ZM292.4 191.2 269 191.2 280.7 184.5ZM269 191.2 257.2 170.9 269 177.7ZM257.2 170.9 269 150.6 269 164.1ZM269 150.6 292.4 150.6 280.7 157.3ZM292.4 150.6 304.2 170.9 292.4 164.1ZM269 109.8 257.2 130.2 257.2 116.6ZM257.2 130.2 233.7 130.2 245.5 123.4ZM233.7 130.2 222 109.8 233.7 116.6ZM222 109.8 233.7 89.5 233.7 103.1ZM233.7 89.5 257.2 89.5 245.5 96.3ZM257.2 89.5 269 109.8 257.2 103.1ZM304.2 130.2 292.4 150.5 292.4 137ZM292.4 150.5 269 150.5 280.7 143.8ZM269 150.5 257.2 130.2 269 137ZM257.2 130.2 269 109.8 269 123.4ZM269 109.8 292.4 109.8 280.7 116.6ZM292.4 109.8 304.2 130.2 292.4 123.4ZM339.4 150.6 327.7 170.9 327.7 157.3ZM327.7 170.9 304.2 170.9 315.9 164.1ZM304.2 170.9 292.4 150.6 304.2 157.3ZM292.4 150.6 304.2 130.2 304.2 143.8ZM304.2 130.2 327.7 130.2 315.9 137ZM327.7 130.2 339.4 150.6 327.7 143.8ZM374.7 170.9 362.9 191.2 362.9 177.7ZM362.9 191.2 339.4 191.2 351.2 184.5ZM339.4 191.2 327.7 170.9 339.4 177.7ZM327.7 170.9 339.4 150.6 339.4 164.1ZM339.4 150.6 362.9 150.6 351.2 157.3ZM362.9 150.6 374.7 170.9 362.9 164.1ZM269 69.2 257.2 89.5 257.2 75.9ZM257.2 89.5 233.7 89.5 245.5 82.7ZM233.7 89.5 222 69.2 233.7 75.9ZM222 69.2 233.7 48.8 233.7 62.4ZM233.7 48.8 257.2 48.8 245.5 55.6ZM257.2 48.8 269 69.2 257.2 62.4ZM304.2 89.5 292.4 109.8 292.4 96.3ZM292.4 109.8 269 109.9 280.7 103.1ZM269 109.9 257.2 89.5 269 96.3ZM257.2 89.5 269 69.2 269 82.7ZM269 69.2 292.4 69.2 280.7 75.9ZM292.4 69.2 304.2 89.5 292.4 82.7ZM339.4 109.9 327.7 130.2 327.7 116.6ZM327.7 130.2 304.2 130.2 315.9 123.4ZM304.2 130.2 292.4 109.9 304.2 116.6ZM292.4 109.9 304.2 89.5 304.2 103.1ZM304.2 89.5 327.7 89.5 315.9 96.3ZM327.7 89.5 339.4 109.9 327.7 103.1ZM374.7 130.2 362.9 150.6 362.9 137ZM362.9 150.6 339.4 150.6 351.2 143.8ZM339.4 150.6 327.7 130.2 339.4 137ZM327.7 130.2 339.4 109.9 339.4 123.4ZM339.4 109.9 362.9 109.9 351.2 116.6ZM362.9 109.9 374.7 130.2 362.9 123.4ZM409.9 150.6 398.2 170.9 398.2 157.3ZM398.2 170.9 374.7 170.9 386.4 164.1ZM374.7 170.9 362.9 150.6 374.7 157.3ZM362.9 150.6 374.7 130.2 374.7 143.8ZM374.7 130.2 398.2 130.2 386.4 137ZM398.2 130.2 409.9 150.6 398.2 143.8ZM445.2 170.9 433.4 191.2 433.4 177.7ZM433.4 191.2 409.9 191.2 421.7 184.5ZM409.9 191.2 398.2 170.9 409.9 177.7ZM398.2 170.9 409.9 150.6 409.9 164.1ZM409.9 150.6 433.4 150.6 421.7 157.3ZM433.4 150.6 445.2 170.9 433.4 164.1ZM269 28.4 257.2 48.8 257.2 35.2ZM257.2 48.8 233.7 48.8 245.5 42ZM233.7 48.8 222 28.4 233.7 35.2ZM222 28.4 233.7 8.1 233.7 21.7ZM233.7 8.1 257.2 8.1 245.5 14.9ZM257.2 8.1 269 28.4 257.2 21.7ZM304.2 48.8 292.4 69.2 292.4 55.6ZM292.4 69.2 269 69.2 280.7 62.4ZM269 69.2 257.2 48.8 269 55.6ZM257.2 48.8 269 28.4 269 42ZM269 28.4 292.4 28.4 280.7 35.2ZM292.4 28.4 304.2 48.8 292.4 42ZM339.4 69.2 327.7 89.5 327.7 75.9ZM327.7 89.5 304.2 89.5 315.9 82.7ZM304.2 89.5 292.4 69.2 304.2 75.9ZM292.4 69.2 304.2 48.8 304.2 62.4ZM304.2 48.8 327.7 48.8 315.9 55.6ZM327.7 48.8 339.4 69.2 327.7 62.4ZM374.7 89.5 362.9 109.8 362.9 96.3ZM362.9 109.8 339.4 109.9 351.2 103.1ZM339.4 109.9 327.7 89.5 339.4 96.3ZM327.7 89.5 339.4 69.2 339.4 82.7ZM339.4 69.2 362.9 69.2 351.2 75.9ZM362.9 69.2 374.7 89.5 362.9 82.7ZM409.9 109.8 398.2 130.2 398.2 116.6ZM398.2 130.2 374.7 130.2 386.4 123.4ZM374.7 130.2 362.9 109.8 374.7 116.6ZM362.9 109.8 374.7 89.5 374.7 103.1ZM374.7 89.5 398.2 89.5 386.4 96.3ZM398.2 89.5 409.9 109.8 398.2 103.1ZM445.2 130.2 433.4 150.5 433.4 137ZM433.4 150.5 409.9 150.5 421.7 143.8ZM409.9 150.5 398.2 130.2 409.9 137ZM398.2 130.2 409.9 109.8 409.9 123.4ZM409.9 109.8 433.4 109.8 421.7 116.6ZM433.4 109.8 445.2 130.2 433.4 123.4ZM480.4 150.6 468.7 170.9 468.7 157.3ZM468.7 170.9 445.2 170.9 456.9 164.1ZM445.2 170.9 433.4 150.6 445.2 157.3ZM433.4 150.6 445.2 130.2 445.2 143.8ZM445.2 130.2 468.7 130.2 456.9 137ZM468.7 130.2 480.4 150.6 468.7 143.8ZM304.2 8.1 292.4 28.4 292.4 14.9ZM292.4 28.4 269 28.4 280.7 21.7ZM269 28.4 257.2 8.1 269 14.9ZM257.2 8.1 269 -12.3 269 1.3ZM269 -12.3 292.4 -12.3 280.7 -5.5ZM292.4 -12.3 304.2 8.1 292.4 1.3ZM339.4 28.4 327.7 48.8 327.7 35.2ZM327.7 48.8 304.2 48.8 315.9 42ZM304.2 48.8 292.4 28.4 304.2 35.2ZM292.4 28.4 304.2 8.1 304.2 21.7ZM304.2 8.1 327.7 8.1 315.9 14.9ZM327.7 8.1 339.4 28.4 327.7 21.7ZM374.7 48.8 362.9 69.2 362.9 55.6ZM362.9 69.2 339.4 69.2 351.2 62.4ZM339.4 69.2 327.7 48.8 339.4 55.6ZM327.7 48.8 339.4 28.4 339.4 42ZM339.4 28.4 362.9 28.4 351.2 35.2ZM362.9 28.4 374.7 48.8 362.9 42ZM409.9 69.2 398.2 89.5 398.2 75.9ZM398.2 89.5 374.7 89.5 386.4 82.7ZM374.7 89.5 362.9 69.2 374.7 75.9ZM362.9 69.2 374.7 48.8 374.7 62.4ZM374.7 48.8 398.2 48.8 386.4 55.6ZM398.2 48.8 409.9 69.2 398.2 62.4ZM445.2 89.5 433.4 109.8 433.4 96.3ZM433.4 109.8 409.9 109.9 421.7 103.1ZM409.9 109.9 398.2 89.5 409.9 96.3ZM398.2 89.5 409.9 69.2 409.9 82.7ZM409.9 69.2 433.4 69.2 421.7 75.9ZM433.4 69.2 445.2 89.5 433.4 82.7ZM480.4 109.8 468.7 130.2 468.7 116.6ZM468.7 130.2 445.2 130.2 456.9 123.4ZM445.2 130.2 433.4 109.8 445.2 116.6ZM433.4 109.8 445.2 89.5 445.2 103.1ZM445.2 89.5 468.7 89.5 456.9 96.3ZM468.7 89.5 480.4 109.8 468.7 103.1ZM374.7 8.1 362.9 28.4 362.9 14.9ZM362.9 28.4 339.4 28.4 351.2 21.7ZM339.4 28.4 327.7 8.1 339.4 14.9ZM327.7 8.1 339.4 -12.3 339.4 1.3ZM339.4 -12.3 362.9 -12.3 351.2 -5.5ZM362.9 -12.3 374.7 8.1 362.9 1.3ZM409.9 28.4 398.2 48.8 398.2 35.2ZM398.2 48.8 374.7 48.8 386.4 42ZM374.7 48.8 362.9 28.4 374.7 35.2ZM362.9 28.4 374.7 8.1 374.7 21.7ZM374.7 8.1 398.2 8.1 386.4 14.9ZM398.2 8.1 409.9 28.4 398.2 21.7ZM445.2 48.8 433.4 69.2 433.4 55.6ZM433.4 69.2 409.9 69.2 421.7 62.4ZM409.9 69.2 398.2 48.8 409.9 55.6ZM398.2 48.8 409.9 28.4 409.9 42ZM409.9 28.4 433.4 28.4 421.7 35.2ZM433.4 28.4 445.2 48.8 433.4 42ZM480.4 69.2 468.7 89.5 468.7 75.9ZM468.7 89.5 445.2 89.5 456.9 82.7ZM445.2 89.5 433.4 69.2 445.2 75.9ZM433.4 69.2 445.2 48.8 445.2 62.4ZM445.2 48.8 468.7 48.8 456.9 55.6ZM468.7 48.8 480.4 69.2 468.7 62.4ZM445.2 8.1 433.4 28.4 433.4 14.9ZM433.4 28.4 409.9 28.4 421.7 21.7ZM409.9 28.4 398.2 8.1 409.9 14.9ZM398.2 8.1 409.9 -12.3 409.9 1.3ZM409.9 -12.3 433.4 -12.3 421.7 -5.5ZM433.4 -12.3 445.2 8.1 433.4 1.3ZM480.4 28.4 468.7 48.8 468.7 35.2ZM468.7 48.8 445.2 48.8 456.9 42ZM445.2 48.8 433.4 28.4 445.2 35.2ZM433.4 28.4 445.2 8.1 445.2 21.7ZM445.2 8.1 468.7 8.1 456.9 14.9ZM468.7 8.1 480.4 28.4 468.7 21.7Z" fill="#dd8ed5"/>
<path d="M245.5 150.6L257.2 150.6M245.5 150.6L239.6 160.7M245.5 150.6L239.6 140.4M280.7 170.9L292.4 170.9M280.7 170.9L274.8 181.1M280.7 170.9L274.8 160.7M245.5 109.8L257.2 109.8M245.5 109.8L239.6 120M245.5 109.8L239.6 99.7M280.7 130.2L292.4 130.2M280.7 130.2L274.8 140.4M280.7 130.2L274.8 120M315.9 150.6L327.7 150.6M315.9 150.6L310.1 160.7M315.9 150.6L310.1 140.4M351.2 170.9L362.9 170.9M351.2 170.9L345.3 181.1M351.2 170.9L345.3 160.7M245.5 69.2L257.2 69.2M245.5 69.2L239.6 79.3M245.5 69.2L239.6 59M280.7 89.5L292.4 89.5M280.7 89.5L274.8 99.7M280.7 89.5L274.8 79.3M315.9 109.9L327.7 109.9M315.9 109.9L310.1 120M315.9 109.9L310.1 99.7M351.2 130.2L362.9 130.2M351.2 130.2L345.3 140.4M351.2 130.2L345.3 120M386.4 150.6L398.2 150.6M386.4 150.6L380.6 160.7M386.4 150.6L380.6 140.4M421.7 170.9L433.4 170.9M421.7 170.9L415.8 181.1M421.7 170.9L415.8 160.7M245.5 28.4L257.2 28.4M245.5 28.4L239.6 38.6M245.5 28.4L239.6 18.3M280.7 48.8L292.4 48.8M280.7 48.8L274.8 59M280.7 48.8L274.8 38.6M315.9 69.2L327.7 69.2M315.9 69.2L310.1 79.3M315.9 69.2L310.1 59M351.2 89.5L362.9 89.5M351.2 89.5L345.3 99.7M351.2 89.5L345.3 79.3M386.4 109.8L398.2 109.8M386.4 109.8L380.6 120M386.4 109.8L380.6 99.7M421.7 130.2L433.4 130.2M421.7 130.2L415.8 140.4M421.7 130.2L415.8 120M456.9 150.6L468.7 150.6M456.9 150.6L451.1 160.7M456.9 150.6L451.1 140.4M280.7 8.1L292.4 8.1M280.7 8.1L274.8 18.3M280.7 8.1L274.8 -2.1M315.9 28.4L327.7 28.4M315.9 28.4L310.1 38.6M315.9 28.4L310.1 18.3M351.2 48.8L362.9 48.8M351.2 48.8L345.3 59M351.2 48.8L345.3 38.6M386.4 69.2L398.2 69.2M386.4 69.2L380.6 79.3M386.4 69.2L380.6 59M421.7 89.5L433.4 89.5M421.7 89.5L415.8 99.7M421.7 89.5L415.8 79.3M456.9 109.8L468.7 109.8M456.9 109.8L451.1 120M456.9 109.8L451.1 99.7M351.2 8.1L362.9 8.1M351.2 8.1L345.3 18.3M351.2 8.1L345.3 -2.1M386.4 28.4L398.2 28.4M386.4 28.4L380.6 38.6M386.4 28.4L380.6 18.3M421.7 48.8L433.4 48.8M421.7 48.8L415.8 59M421.7 48.8L415.8 38.6M456.9 69.2L468.7 69.2M456.9 69.2L451.1 79.3M456.9 69.2L451.1 59M421.7 8.1L433.4 8.1M421.7 8.1L415.8 18.3M421.7 8.1L415.8 -2.1M456.9 28.4L468.7 28.4M456.9 28.4L451.1 38.6M456.9 28.4L451.1 18.3" stroke="#ea6cdc" stroke-width="1.35" fill="none"/>
<path d="M257.2 150.6L269 150.6M239.6 160.7L233.7 170.9M239.6 140.4L233.7 130.2M292.4 170.9L304.2 170.9M274.8 181.1L269 191.2M274.8 160.7L269 150.6M257.2 109.8L269 109.8M239.6 120L233.7 130.2M239.6 99.7L233.7 89.5M292.4 130.2L304.2 130.2M274.8 140.4L269 150.5M274.8 120L269 109.8M327.7 150.6L339.4 150.6M310.1 160.7L304.2 170.9M310.1 140.4L304.2 130.2M362.9 170.9L374.7 170.9M345.3 181.1L339.4 191.2M345.3 160.7L339.4 150.6M257.2 69.2L269 69.2M239.6 79.3L233.7 89.5M239.6 59L233.7 48.8M292.4 89.5L304.2 89.5M274.8 99.7L269 109.9M274.8 79.3L269 69.2M327.7 109.9L339.4 109.9M310.1 120L304.2 130.2M310.1 99.7L304.2 89.5M362.9 130.2L374.7 130.2M345.3 140.4L339.4 150.6M345.3 120L339.4 109.9M398.2 150.6L409.9 150.6M380.6 160.7L374.7 170.9M380.6 140.4L374.7 130.2M433.4 170.9L445.2 170.9M415.8 181.1L409.9 191.2M415.8 160.7L409.9 150.6M257.2 28.4L269 28.4M239.6 38.6L233.7 48.8M239.6 18.3L233.7 8.1M292.4 48.8L304.2 48.8M274.8 59L269 69.2M274.8 38.6L269 28.4M327.7 69.2L339.4 69.2M310.1 79.3L304.2 89.5M310.1 59L304.2 48.8M362.9 89.5L374.7 89.5M345.3 99.7L339.4 109.9M345.3 79.3L339.4 69.2M398.2 109.8L409.9 109.8M380.6 120L374.7 130.2M380.6 99.7L374.7 89.5M433.4 130.2L445.2 130.2M415.8 140.4L409.9 150.5M415.8 120L409.9 109.8M468.7 150.6L480.4 150.6M451.1 160.7L445.2 170.9M451.1 140.4L445.2 130.2M292.4 8.1L304.2 8.1M274.8 18.3L269 28.4M274.8 -2.1L269 -12.3M327.7 28.4L339.4 28.4M310.1 38.6L304.2 48.8M310.1 18.3L304.2 8.1M362.9 48.8L374.7 48.8M345.3 59L339.4 69.2M345.3 38.6L339.4 28.4M398.2 69.2L409.9 69.2M380.6 79.3L374.7 89.5M380.6 59L374.7 48.8M433.4 89.5L445.2 89.5M415.8 99.7L409.9 109.9M415.8 79.3L409.9 69.2M468.7 109.8L480.4 109.8M451.1 120L445.2 130.2M451.1 99.7L445.2 89.5M362.9 8.1L374.7 8.1M345.3 18.3L339.4 28.4M345.3 -2.1L339.4 -12.3M398.2 28.4L409.9 28.4M380.6 38.6L374.7 48.8M380.6 18.3L374.7 8.1M433.4 48.8L445.2 48.8M415.8 59L409.9 69.2M415.8 38.6L409.9 28.4M468.7 69.2L480.4 69.2M451.1 79.3L445.2 89.5M451.1 59L445.2 48.8M433.4 8.1L445.2 8.1M415.8 18.3L409.9 28.4M415.8 -2.1L409.9 -12.3M468.7 28.4L480.4 28.4M451.1 38.6L445.2 48.8M451.1 18.3L445.2 8.1" stroke="#d0a474" stroke-width="1.35" fill="none"/>
<path d="M245.5 150.6L251.3 160.7M245.5 150.6L233.7 150.6M245.5 150.6L251.3 140.4M280.7 170.9L286.6 181.1M280.7 170.9L269 170.9M280.7 170.9L286.6 160.7M245.5 109.8L251.3 120M245.5 109.8L233.7 109.8M245.5 109.8L251.3 99.7M280.7 130.2L286.6 140.4M280.7 130.2L269 130.2M280.7 130.2L286.6 120M315.9 150.6L321.8 160.7M315.9 150.6L304.2 150.6M315.9 150.6L321.8 140.4M351.2 170.9L357.1 181.1M351.2 170.9L339.4 170.9M351.2 170.9L357.1 160.7M245.5 69.2L251.3 79.3M245.5 69.2L233.7 69.2M245.5 69.2L251.3 59M280.7 89.5L286.6 99.7M280.7 89.5L269 89.5M280.7 89.5L286.6 79.3M315.9 109.9L321.8 120M315.9 109.9L304.2 109.9M315.9 109.9L321.8 99.7M351.2 130.2L357.1 140.4M351.2 130.2L339.4 130.2M351.2 130.2L357.1 120M386.4 150.6L392.3 160.7M386.4 150.6L374.7 150.6M386.4 150.6L392.3 140.4M421.7 170.9L427.6 181.1M421.7 170.9L409.9 170.9M421.7 170.9L427.6 160.7M245.5 28.4L251.3 38.6M245.5 28.4L233.7 28.4M245.5 28.4L251.3 18.3M280.7 48.8L286.6 59M280.7 48.8L269 48.8M280.7 48.8L286.6 38.6M315.9 69.2L321.8 79.3M315.9 69.2L304.2 69.2M315.9 69.2L321.8 59M351.2 89.5L357.1 99.7M351.2 89.5L339.4 89.5M351.2 89.5L357.1 79.3M386.4 109.8L392.3 120M386.4 109.8L374.7 109.8M386.4 109.8L392.3 99.7M421.7 130.2L427.6 140.4M421.7 130.2L409.9 130.2M421.7 130.2L427.6 120M456.9 150.6L462.8 160.7M456.9 150.6L445.2 150.6M456.9 150.6L462.8 140.4M280.7 8.1L286.6 18.3M280.7 8.1L269 8.1M280.7 8.1L286.6 -2.1M315.9 28.4L321.8 38.6M315.9 28.4L304.2 28.4M315.9 28.4L321.8 18.3M351.2 48.8L357.1 59M351.2 48.8L339.4 48.8M351.2 48.8L357.1 38.6M386.4 69.2L392.3 79.3M386.4 69.2L374.7 69.2M386.4 69.2L392.3 59M421.7 89.5L427.6 99.7M421.7 89.5L409.9 89.5M421.7 89.5L427.6 79.3M456.9 109.8L462.8 120M456.9 109.8L445.2 109.8M456.9 109.8L462.8 99.7M351.2 8.1L357.1 18.3M351.2 8.1L339.4 8.1M351.2 8.1L357.1 -2.1M386.4 28.4L392.3 38.6M386.4 28.4L374.7 28.4M386.4 28.4L392.3 18.3M421.7 48.8L427.6 59M421.7 48.8L409.9 48.8M421.7 48.8L427.6 38.6M456.9 69.2L462.8 79.3M456.9 69.2L445.2 69.2M456.9 69.2L462.8 59M421.7 8.1L427.6 18.3M421.7 8.1L409.9 8.1M421.7 8.1L427.6 -2.1M456.9 28.4L462.8 38.6M456.9 28.4L445.2 28.4M456.9 28.4L462.8 18.3" stroke="#ea6cdc" stroke-width="1.35" fill="none"/>
<path d="M251.3 160.7L257.2 170.9M233.7 150.6L222 150.6M251.3 140.4L257.2 130.2M286.6 181.1L292.4 191.2M269 170.9L257.2 170.9M286.6 160.7L292.4 150.6M251.3 120L257.2 130.2M233.7 109.8L222 109.8M251.3 99.7L257.2 89.5M286.6 140.4L292.4 150.5M269 130.2L257.2 130.2M286.6 120L292.4 109.8M321.8 160.7L327.7 170.9M304.2 150.6L292.4 150.6M321.8 140.4L327.7 130.2M357.1 181.1L362.9 191.2M339.4 170.9L327.7 170.9M357.1 160.7L362.9 150.6M251.3 79.3L257.2 89.5M233.7 69.2L222 69.2M251.3 59L257.2 48.8M286.6 99.7L292.4 109.8M269 89.5L257.2 89.5M286.6 79.3L292.4 69.2M321.8 120L327.7 130.2M304.2 109.9L292.4 109.9M321.8 99.7L327.7 89.5M357.1 140.4L362.9 150.6M339.4 130.2L327.7 130.2M357.1 120L362.9 109.9M392.3 160.7L398.2 170.9M374.7 150.6L362.9 150.6M392.3 140.4L398.2 130.2M427.6 181.1L433.4 191.2M409.9 170.9L398.2 170.9M427.6 160.7L433.4 150.6M251.3 38.6L257.2 48.8M233.7 28.4L222 28.4M251.3 18.3L257.2 8.1M286.6 59L292.4 69.2M269 48.8L257.2 48.8M286.6 38.6L292.4 28.4M321.8 79.3L327.7 89.5M304.2 69.2L292.4 69.2M321.8 59L327.7 48.8M357.1 99.7L362.9 109.8M339.4 89.5L327.7 89.5M357.1 79.3L362.9 69.2M392.3 120L398.2 130.2M374.7 109.8L362.9 109.8M392.3 99.7L398.2 89.5M427.6 140.4L433.4 150.5M409.9 130.2L398.2 130.2M427.6 120L433.4 109.8M462.8 160.7L468.7 170.9M445.2 150.6L433.4 150.6M462.8 140.4L468.7 130.2M286.6 18.3L292.4 28.4M269 8.1L257.2 8.1M286.6 -2.1L292.4 -12.3M321.8 38.6L327.7 48.8M304.2 28.4L292.4 28.4M321.8 18.3L327.7 8.1M357.1 59L362.9 69.2M339.4 48.8L327.7 48.8M357.1 38.6L362.9 28.4M392.3 79.3L398.2 89.5M374.7 69.2L362.9 69.2M392.3 59L398.2 48.8M427.6 99.7L433.4 109.8M409.9 89.5L398.2 89.5M427.6 79.3L433.4 69.2M462.8 120L468.7 130.2M445.2 109.8L433.4 109.8M462.8 99.7L468.7 89.5M357.1 18.3L362.9 28.4M339.4 8.1L327.7 8.1M357.1 -2.1L362.9 -12.3M392.3 38.6L398.2 48.8M374.7 28.4L362.9 28.4M392.3 18.3L398.2 8.1M427.6 59L433.4 69.2M409.9 48.8L398.2 48.8M427.6 38.6L433.4 28.4M462.8 79.3L468.7 89.5M445.2 69.2L433.4 69.2M462.8 59L468.7 48.8M427.6 18.3L433.4 28.4M409.9 8.1L398.2 8.1M427.6 -2.1L433.4 -12.3M462.8 38.6L468.7 48.8M445.2 28.4L433.4 28.4M462.8 18.3L468.7 8.1" stroke="#e8e290" stroke-width="1.35" fill="none"/>
<circle cx="269" cy="150.6" r="2.697" fill="url(#gSe2)"/>
<circle cx="269" cy="109.8" r="2.697" fill="url(#gSe2)"/>
<circle cx="304.2" cy="130.2" r="2.697" fill="url(#gSe2)"/>
<circle cx="339.4" cy="150.6" r="2.697" fill="url(#gSe2)"/>
<circle cx="269" cy="69.2" r="2.697" fill="url(#gSe2)"/>
<circle cx="304.2" cy="89.5" r="2.697" fill="url(#gSe2)"/>
<circle cx="339.4" cy="109.9" r="2.697" fill="url(#gSe2)"/>
<circle cx="374.7" cy="130.2" r="2.697" fill="url(#gSe2)"/>
<circle cx="409.9" cy="150.6" r="2.697" fill="url(#gSe2)"/>
<circle cx="269" cy="28.4" r="2.697" fill="url(#gSe2)"/>
<circle cx="304.2" cy="48.8" r="2.697" fill="url(#gSe2)"/>
<circle cx="339.4" cy="69.2" r="2.697" fill="url(#gSe2)"/>
<circle cx="374.7" cy="89.5" r="2.697" fill="url(#gSe2)"/>
<circle cx="409.9" cy="109.8" r="2.697" fill="url(#gSe2)"/>
<circle cx="445.2" cy="130.2" r="2.697" fill="url(#gSe2)"/>
<circle cx="339.4" cy="28.4" r="2.697" fill="url(#gSe2)"/>
<circle cx="374.7" cy="48.8" r="2.697" fill="url(#gSe2)"/>
<circle cx="409.9" cy="69.2" r="2.697" fill="url(#gSe2)"/>
<circle cx="445.2" cy="89.5" r="2.697" fill="url(#gSe2)"/>
<circle cx="409.9" cy="28.4" r="2.697" fill="url(#gSe2)"/>
<circle cx="445.2" cy="48.8" r="2.697" fill="url(#gSe2)"/>
<circle cx="257.2" cy="130.2" r="2.9" fill="url(#gSe)"/>
<circle cx="292.4" cy="150.6" r="2.9" fill="url(#gSe)"/>
<circle cx="257.2" cy="89.5" r="2.9" fill="url(#gSe)"/>
<circle cx="292.4" cy="109.8" r="2.9" fill="url(#gSe)"/>
<circle cx="327.7" cy="130.2" r="2.9" fill="url(#gSe)"/>
<circle cx="362.9" cy="150.6" r="2.9" fill="url(#gSe)"/>
<circle cx="257.2" cy="48.8" r="2.9" fill="url(#gSe)"/>
<circle cx="292.4" cy="69.2" r="2.9" fill="url(#gSe)"/>
<circle cx="327.7" cy="89.5" r="2.9" fill="url(#gSe)"/>
<circle cx="362.9" cy="109.9" r="2.9" fill="url(#gSe)"/>
<circle cx="398.2" cy="130.2" r="2.9" fill="url(#gSe)"/>
<circle cx="433.4" cy="150.6" r="2.9" fill="url(#gSe)"/>
<circle cx="292.4" cy="28.4" r="2.9" fill="url(#gSe)"/>
<circle cx="327.7" cy="48.8" r="2.9" fill="url(#gSe)"/>
<circle cx="362.9" cy="69.2" r="2.9" fill="url(#gSe)"/>
<circle cx="398.2" cy="89.5" r="2.9" fill="url(#gSe)"/>
<circle cx="433.4" cy="109.8" r="2.9" fill="url(#gSe)"/>
<circle cx="362.9" cy="28.4" r="2.9" fill="url(#gSe)"/>
<circle cx="398.2" cy="48.8" r="2.9" fill="url(#gSe)"/>
<circle cx="433.4" cy="69.2" r="2.9" fill="url(#gSe)"/>
<circle cx="433.4" cy="28.4" r="2.9" fill="url(#gSe)"/>
<circle cx="280.7" cy="130.2" r="3.4" fill="url(#gMn)"/>
<circle cx="315.9" cy="150.6" r="3.4" fill="url(#gMn)"/>
<circle cx="280.7" cy="89.5" r="3.4" fill="url(#gMn)"/>
<circle cx="315.9" cy="109.9" r="3.4" fill="url(#gMn)"/>
<circle cx="351.2" cy="130.2" r="3.4" fill="url(#gMn)"/>
<circle cx="386.4" cy="150.6" r="3.4" fill="url(#gMn)"/>
<circle cx="280.7" cy="48.8" r="3.4" fill="url(#gMn)"/>
<circle cx="315.9" cy="69.2" r="3.4" fill="url(#gMn)"/>
<circle cx="351.2" cy="89.5" r="3.4" fill="url(#gMn)"/>
<circle cx="386.4" cy="109.8" r="3.4" fill="url(#gMn)"/>
<circle cx="421.7" cy="130.2" r="3.4" fill="url(#gMn)"/>
<circle cx="315.9" cy="28.4" r="3.4" fill="url(#gMn)"/>
<circle cx="351.2" cy="48.8" r="3.4" fill="url(#gMn)"/>
<circle cx="386.4" cy="69.2" r="3.4" fill="url(#gMn)"/>
<circle cx="421.7" cy="89.5" r="3.4" fill="url(#gMn)"/>
<circle cx="386.4" cy="28.4" r="3.4" fill="url(#gMn)"/>
<circle cx="421.7" cy="48.8" r="3.4" fill="url(#gMn)"/>
</g>
<polygon points="282.3,91.5 351,51.4 419.9,91.5 351,132.3" fill="none" stroke="#000" stroke-width="1.6" stroke-dasharray="1.5,1.5"/>
<text x="319" y="17.2" font-size="22" text-anchor="start" font-weight="normal" font-style="normal" fill="#000" >MnSe<tspan font-size="15.5" dy="5.3">2</tspan></text>
<text x="237.6" y="19.4" font-size="25" text-anchor="start" font-weight="bold" font-style="normal" fill="#000" >b</text>
<g mask="url(#mBs)">
<path d="M244.1 195.7L249.9 187.6M244.1 195.7L232.3 187.6M244.1 195.7L238.2 203.6M244.1 195.7L255.8 203.6M279.3 195.7L285.1 187.6M279.3 195.7L267.5 187.6M279.3 195.7L273.4 203.6M279.3 195.7L291 203.6M314.5 195.7L320.2 187.6M314.5 195.7L302.6 187.6M314.5 195.7L308.6 203.6M314.5 195.7L326.1 203.6M349.7 195.7L355.5 187.6M349.7 195.7L337.9 187.6M349.7 195.7L343.8 203.6M349.7 195.7L361.4 203.6M384.9 195.7L390.7 187.6M384.9 195.7L373.1 187.6M384.9 195.7L379 203.6M384.9 195.7L396.6 203.6M420.1 195.7L425.9 187.6M420.1 195.7L408.2 187.6M420.1 195.7L414.2 203.6M420.1 195.7L431.8 203.6M455.3 195.7L461.1 187.6M455.3 195.7L443.5 187.6M455.3 195.7L449.4 203.6M455.3 195.7L467 203.6M490.5 195.7L496.2 187.6M490.5 195.7L478.6 187.6M490.5 195.7L484.6 203.6M490.5 195.7L502.1 203.6" stroke="#e040d0" stroke-width="1.7" fill="none"/>
<path d="M249.9 187.6L255.6 179.5M232.3 187.6L220.4 179.5M238.2 203.6L232.2 211.4M255.8 203.6L267.4 211.4M285.1 187.6L290.8 179.5M267.5 187.6L255.6 179.5M273.4 203.6L267.4 211.4M291 203.6L302.6 211.4M320.2 187.6L326 179.5M302.6 187.6L290.8 179.5M308.6 203.6L302.6 211.4M326.1 203.6L337.8 211.4M355.5 187.6L361.2 179.5M337.9 187.6L326 179.5M343.8 203.6L337.8 211.4M361.4 203.6L373 211.4M390.7 187.6L396.4 179.5M373.1 187.6L361.2 179.5M379 203.6L373 211.4M396.6 203.6L408.2 211.4M425.9 187.6L431.6 179.5M408.2 187.6L396.4 179.5M414.2 203.6L408.2 211.4M431.8 203.6L443.4 211.4M461.1 187.6L466.8 179.5M443.5 187.6L431.6 179.5M449.4 203.6L443.4 211.4M467 203.6L478.6 211.4M496.2 187.6L502 179.5M478.6 187.6L466.8 179.5M484.6 203.6L478.6 211.4M502.1 203.6L513.8 211.4" stroke="#e0e060" stroke-width="1.7" fill="none"/>
<circle cx="255.6" cy="179.5" r="3.0" fill="url(#gSe)"/>
<circle cx="290.8" cy="179.5" r="3.0" fill="url(#gSe)"/>
<circle cx="326" cy="179.5" r="3.0" fill="url(#gSe)"/>
<circle cx="361.2" cy="179.5" r="3.0" fill="url(#gSe)"/>
<circle cx="396.4" cy="179.5" r="3.0" fill="url(#gSe)"/>
<circle cx="431.6" cy="179.5" r="3.0" fill="url(#gSe)"/>
<circle cx="466.8" cy="179.5" r="3.0" fill="url(#gSe)"/>
<circle cx="502" cy="179.5" r="3.0" fill="url(#gSe)"/>
<circle cx="232.2" cy="211.4" r="3.0" fill="url(#gSe)"/>
<circle cx="267.4" cy="211.4" r="3.0" fill="url(#gSe)"/>
<circle cx="302.6" cy="211.4" r="3.0" fill="url(#gSe)"/>
<circle cx="337.8" cy="211.4" r="3.0" fill="url(#gSe)"/>
<circle cx="373" cy="211.4" r="3.0" fill="url(#gSe)"/>
<circle cx="408.2" cy="211.4" r="3.0" fill="url(#gSe)"/>
<circle cx="443.4" cy="211.4" r="3.0" fill="url(#gSe)"/>
<circle cx="478.6" cy="211.4" r="3.0" fill="url(#gSe)"/>
<circle cx="244.1" cy="195.7" r="3.6" fill="url(#gMn)"/>
<circle cx="279.3" cy="195.7" r="3.6" fill="url(#gMn)"/>
<circle cx="314.5" cy="195.7" r="3.6" fill="url(#gMn)"/>
<circle cx="349.7" cy="195.7" r="3.6" fill="url(#gMn)"/>
<circle cx="384.9" cy="195.7" r="3.6" fill="url(#gMn)"/>
<circle cx="420.1" cy="195.7" r="3.6" fill="url(#gMn)"/>
<circle cx="455.3" cy="195.7" r="3.6" fill="url(#gMn)"/>
<circle cx="490.5" cy="195.7" r="3.6" fill="url(#gMn)"/>
</g>
<g mask="url(#mC)">
<path d="M489.6 154.9 480.1 171.4 461.1 171.4 451.5 154.9 461.1 138.4 480.1 138.4ZM518.2 171.4 508.7 187.9 489.6 187.9 480.1 171.4 489.6 154.9 508.7 154.9ZM489.6 121.9 480.1 138.4 461.1 138.4 451.5 121.9 461.1 105.4 480.1 105.4ZM518.2 138.4 508.7 154.9 489.6 154.9 480.1 138.4 489.6 121.9 508.7 121.9ZM546.8 154.9 537.3 171.4 518.2 171.4 508.7 154.9 518.2 138.4 537.3 138.4ZM575.4 171.4 565.8 187.9 546.8 187.9 537.3 171.4 546.8 154.9 565.8 154.9ZM489.6 88.9 480.1 105.4 461.1 105.4 451.5 88.9 461.1 72.4 480.1 72.4ZM518.2 105.4 508.7 121.9 489.6 121.9 480.1 105.4 489.6 88.9 508.7 88.9ZM546.8 121.9 537.3 138.4 518.2 138.4 508.7 121.9 518.2 105.4 537.3 105.4ZM575.4 138.4 565.8 154.9 546.8 154.9 537.3 138.4 546.8 121.9 565.8 121.9ZM604 154.9 594.4 171.4 575.4 171.4 565.8 154.9 575.4 138.4 594.4 138.4ZM632.5 171.4 623 187.9 604 187.9 594.4 171.4 604 154.9 623 154.9ZM489.6 55.9 480.1 72.4 461.1 72.4 451.5 55.9 461.1 39.4 480.1 39.4ZM518.2 72.4 508.7 88.9 489.6 88.9 480.1 72.4 489.6 55.9 508.7 55.9ZM546.8 88.9 537.3 105.4 518.2 105.4 508.7 88.9 518.2 72.4 537.3 72.4ZM575.4 105.4 565.8 121.9 546.8 121.9 537.3 105.4 546.8 88.9 565.8 88.9ZM604 121.9 594.4 138.4 575.4 138.4 565.8 121.9 575.4 105.4 594.4 105.4ZM632.5 138.4 623 154.9 604 154.9 594.4 138.4 604 121.9 623 121.9ZM661.1 154.9 651.6 171.4 632.5 171.4 623 154.9 632.5 138.4 651.6 138.4ZM689.7 171.4 680.2 187.9 661.1 187.9 651.6 171.4 661.1 154.9 680.2 154.9ZM489.6 22.9 480.1 39.4 461.1 39.4 451.5 22.9 461.1 6.4 480.1 6.4ZM518.2 39.4 508.7 55.9 489.6 55.9 480.1 39.4 489.6 22.9 508.7 22.9ZM546.8 55.9 537.3 72.4 518.2 72.4 508.7 55.9 518.2 39.4 537.3 39.4ZM575.4 72.4 565.8 88.9 546.8 88.9 537.3 72.4 546.8 55.9 565.8 55.9ZM604 88.9 594.4 105.4 575.4 105.4 565.8 88.9 575.4 72.4 594.4 72.4ZM632.5 105.4 623 121.9 604 121.9 594.4 105.4 604 88.9 623 88.9ZM661.1 121.9 651.6 138.4 632.5 138.4 623 121.9 632.5 105.4 651.6 105.4ZM689.7 138.4 680.2 154.9 661.1 154.9 651.6 138.4 661.1 121.9 680.2 121.9ZM518.2 6.4 508.7 22.9 489.6 22.9 480.1 6.4 489.6 -10.1 508.7 -10.1ZM546.8 22.9 537.3 39.4 518.2 39.4 508.7 22.9 518.2 6.4 537.3 6.4ZM575.4 39.4 565.8 55.9 546.8 55.9 537.3 39.4 546.8 22.9 565.8 22.9ZM604 55.9 594.4 72.4 575.4 72.4 565.8 55.9 575.4 39.4 594.4 39.4ZM632.5 72.4 623 88.9 604 88.9 594.4 72.4 604 55.9 623 55.9ZM661.1 88.9 651.6 105.4 632.5 105.4 623 88.9 632.5 72.4 651.6 72.4ZM689.7 105.4 680.2 121.9 661.1 121.9 651.6 105.4 661.1 88.9 680.2 88.9ZM575.4 6.4 565.8 22.9 546.8 22.9 537.3 6.4 546.8 -10.1 565.8 -10.1ZM604 22.9 594.4 39.4 575.4 39.4 565.8 22.9 575.4 6.4 594.4 6.4ZM632.5 39.4 623 55.9 604 55.9 594.4 39.4 604 22.9 623 22.9ZM661.1 55.9 651.6 72.4 632.5 72.4 623 55.9 632.5 39.4 651.6 39.4ZM689.7 72.4 680.2 88.9 661.1 88.9 651.6 72.4 661.1 55.9 680.2 55.9ZM632.5 6.4 623 22.9 604 22.9 594.4 6.4 604 -10.1 623 -10.1ZM661.1 22.9 651.6 39.4 632.5 39.4 623 22.9 632.5 6.4 651.6 6.4ZM689.7 39.4 680.2 55.9 661.1 55.9 651.6 39.4 661.1 22.9 680.2 22.9ZM689.7 6.4 680.2 22.9 661.1 22.9 651.6 6.4 661.1 -10.1 680.2 -10.1Z" fill="#f0c0ea"/>
<path d="M480.1 160.4 470.6 165.9 461.1 160.4 461.1 149.4 470.6 143.9 480.1 149.4ZM508.7 176.9 499.2 182.4 489.6 176.9 489.6 165.9 499.2 160.4 508.7 165.9ZM480.1 127.4 470.6 132.9 461.1 127.4 461.1 116.4 470.6 110.9 480.1 116.4ZM508.7 143.9 499.2 149.4 489.6 143.9 489.6 132.9 499.2 127.4 508.7 132.9ZM537.3 160.4 527.7 165.9 518.2 160.4 518.2 149.4 527.7 143.9 537.3 149.4ZM565.8 176.9 556.3 182.4 546.8 176.9 546.8 165.9 556.3 160.4 565.8 165.9ZM480.1 94.4 470.6 99.9 461.1 94.4 461.1 83.4 470.6 77.9 480.1 83.4ZM508.7 110.9 499.2 116.4 489.6 110.9 489.6 99.9 499.2 94.4 508.7 99.9ZM537.3 127.4 527.7 132.9 518.2 127.4 518.2 116.4 527.7 110.9 537.3 116.4ZM565.8 143.9 556.3 149.4 546.8 143.9 546.8 132.9 556.3 127.4 565.8 132.9ZM594.4 160.4 584.9 165.9 575.4 160.4 575.4 149.4 584.9 143.9 594.4 149.4ZM623 176.9 613.5 182.4 604 176.9 604 165.9 613.5 160.4 623 165.9ZM480.1 61.4 470.6 66.9 461.1 61.4 461.1 50.4 470.6 44.9 480.1 50.4ZM508.7 77.9 499.2 83.4 489.6 77.9 489.6 66.9 499.2 61.4 508.7 66.9ZM537.3 94.4 527.7 99.9 518.2 94.4 518.2 83.4 527.7 77.9 537.3 83.4ZM565.8 110.9 556.3 116.4 546.8 110.9 546.8 99.9 556.3 94.4 565.8 99.9ZM594.4 127.4 584.9 132.9 575.4 127.4 575.4 116.4 584.9 110.9 594.4 116.4ZM623 143.9 613.5 149.4 604 143.9 604 132.9 613.5 127.4 623 132.9ZM651.6 160.4 642.1 165.9 632.5 160.4 632.5 149.4 642.1 143.9 651.6 149.4ZM680.2 176.9 670.6 182.4 661.1 176.9 661.1 165.9 670.6 160.4 680.2 165.9ZM480.1 28.4 470.6 33.9 461.1 28.4 461.1 17.4 470.6 11.9 480.1 17.4ZM508.7 44.9 499.2 50.4 489.6 44.9 489.6 33.9 499.2 28.4 508.7 33.9ZM537.3 61.4 527.7 66.9 518.2 61.4 518.2 50.4 527.7 44.9 537.3 50.4ZM565.8 77.9 556.3 83.4 546.8 77.9 546.8 66.9 556.3 61.4 565.8 66.9ZM594.4 94.4 584.9 99.9 575.4 94.4 575.4 83.4 584.9 77.9 594.4 83.4ZM623 110.9 613.5 116.4 604 110.9 604 99.9 613.5 94.4 623 99.9ZM651.6 127.4 642.1 132.9 632.5 127.4 632.5 116.4 642.1 110.9 651.6 116.4ZM680.2 143.9 670.6 149.4 661.1 143.9 661.1 132.9 670.6 127.4 680.2 132.9ZM508.7 11.9 499.2 17.4 489.6 11.9 489.6 0.9 499.2 -4.6 508.7 0.9ZM537.3 28.4 527.7 33.9 518.2 28.4 518.2 17.4 527.7 11.9 537.3 17.4ZM565.8 44.9 556.3 50.4 546.8 44.9 546.8 33.9 556.3 28.4 565.8 33.9ZM594.4 61.4 584.9 66.9 575.4 61.4 575.4 50.4 584.9 44.9 594.4 50.4ZM623 77.9 613.5 83.4 604 77.9 604 66.9 613.5 61.4 623 66.9ZM651.6 94.4 642.1 99.9 632.5 94.4 632.5 83.4 642.1 77.9 651.6 83.4ZM680.2 110.9 670.6 116.4 661.1 110.9 661.1 99.9 670.6 94.4 680.2 99.9ZM565.8 11.9 556.3 17.4 546.8 11.9 546.8 0.9 556.3 -4.6 565.8 0.9ZM594.4 28.4 584.9 33.9 575.4 28.4 575.4 17.4 584.9 11.9 594.4 17.4ZM623 44.9 613.5 50.4 604 44.9 604 33.9 613.5 28.4 623 33.9ZM651.6 61.4 642.1 66.9 632.5 61.4 632.5 50.4 642.1 44.9 651.6 50.4ZM680.2 77.9 670.6 83.4 661.1 77.9 661.1 66.9 670.6 61.4 680.2 66.9ZM623 11.9 613.5 17.4 604 11.9 604 0.9 613.5 -4.6 623 0.9ZM651.6 28.4 642.1 33.9 632.5 28.4 632.5 17.4 642.1 11.9 651.6 17.4ZM680.2 44.9 670.6 50.4 661.1 44.9 661.1 33.9 670.6 28.4 680.2 33.9ZM680.2 11.9 670.6 17.4 661.1 11.9 661.1 0.9 670.6 -4.6 680.2 0.9Z" fill="#fbe8f8"/>
<path d="M489.6 154.9 480.1 171.4 480.1 160.4ZM480.1 171.4 461.1 171.4 470.6 165.9ZM461.1 171.4 451.5 154.9 461.1 160.4ZM451.5 154.9 461.1 138.4 461.1 149.4ZM461.1 138.4 480.1 138.4 470.6 143.9ZM480.1 138.4 489.6 154.9 480.1 149.4ZM518.2 171.4 508.7 187.9 508.7 176.9ZM508.7 187.9 489.6 187.9 499.2 182.4ZM489.6 187.9 480.1 171.4 489.6 176.9ZM480.1 171.4 489.6 154.9 489.6 165.9ZM489.6 154.9 508.7 154.9 499.2 160.4ZM508.7 154.9 518.2 171.4 508.7 165.9ZM489.6 121.9 480.1 138.4 480.1 127.4ZM480.1 138.4 461.1 138.4 470.6 132.9ZM461.1 138.4 451.5 121.9 461.1 127.4ZM451.5 121.9 461.1 105.4 461.1 116.4ZM461.1 105.4 480.1 105.4 470.6 110.9ZM480.1 105.4 489.6 121.9 480.1 116.4ZM518.2 138.4 508.7 154.9 508.7 143.9ZM508.7 154.9 489.6 154.9 499.2 149.4ZM489.6 154.9 480.1 138.4 489.6 143.9ZM480.1 138.4 489.6 121.9 489.6 132.9ZM489.6 121.9 508.7 121.9 499.2 127.4ZM508.7 121.9 518.2 138.4 508.7 132.9ZM546.8 154.9 537.3 171.4 537.3 160.4ZM537.3 171.4 518.2 171.4 527.7 165.9ZM518.2 171.4 508.7 154.9 518.2 160.4ZM508.7 154.9 518.2 138.4 518.2 149.4ZM518.2 138.4 537.3 138.4 527.7 143.9ZM537.3 138.4 546.8 154.9 537.3 149.4ZM575.4 171.4 565.8 187.9 565.8 176.9ZM565.8 187.9 546.8 187.9 556.3 182.4ZM546.8 187.9 537.3 171.4 546.8 176.9ZM537.3 171.4 546.8 154.9 546.8 165.9ZM546.8 154.9 565.8 154.9 556.3 160.4ZM565.8 154.9 575.4 171.4 565.8 165.9ZM489.6 88.9 480.1 105.4 480.1 94.4ZM480.1 105.4 461.1 105.4 470.6 99.9ZM461.1 105.4 451.5 88.9 461.1 94.4ZM451.5 88.9 461.1 72.4 461.1 83.4ZM461.1 72.4 480.1 72.4 470.6 77.9ZM480.1 72.4 489.6 88.9 480.1 83.4ZM518.2 105.4 508.7 121.9 508.7 110.9ZM508.7 121.9 489.6 121.9 499.2 116.4ZM489.6 121.9 480.1 105.4 489.6 110.9ZM480.1 105.4 489.6 88.9 489.6 99.9ZM489.6 88.9 508.7 88.9 499.2 94.4ZM508.7 88.9 518.2 105.4 508.7 99.9ZM546.8 121.9 537.3 138.4 537.3 127.4ZM537.3 138.4 518.2 138.4 527.7 132.9ZM518.2 138.4 508.7 121.9 518.2 127.4ZM508.7 121.9 518.2 105.4 518.2 116.4ZM518.2 105.4 537.3 105.4 527.7 110.9ZM537.3 105.4 546.8 121.9 537.3 116.4ZM575.4 138.4 565.8 154.9 565.8 143.9ZM565.8 154.9 546.8 154.9 556.3 149.4ZM546.8 154.9 537.3 138.4 546.8 143.9ZM537.3 138.4 546.8 121.9 546.8 132.9ZM546.8 121.9 565.8 121.9 556.3 127.4ZM565.8 121.9 575.4 138.4 565.8 132.9ZM604 154.9 594.4 171.4 594.4 160.4ZM594.4 171.4 575.4 171.4 584.9 165.9ZM575.4 171.4 565.8 154.9 575.4 160.4ZM565.8 154.9 575.4 138.4 575.4 149.4ZM575.4 138.4 594.4 138.4 584.9 143.9ZM594.4 138.4 604 154.9 594.4 149.4ZM632.5 171.4 623 187.9 623 176.9ZM623 187.9 604 187.9 613.5 182.4ZM604 187.9 594.4 171.4 604 176.9ZM594.4 171.4 604 154.9 604 165.9ZM604 154.9 623 154.9 613.5 160.4ZM623 154.9 632.5 171.4 623 165.9ZM489.6 55.9 480.1 72.4 480.1 61.4ZM480.1 72.4 461.1 72.4 470.6 66.9ZM461.1 72.4 451.5 55.9 461.1 61.4ZM451.5 55.9 461.1 39.4 461.1 50.4ZM461.1 39.4 480.1 39.4 470.6 44.9ZM480.1 39.4 489.6 55.9 480.1 50.4ZM518.2 72.4 508.7 88.9 508.7 77.9ZM508.7 88.9 489.6 88.9 499.2 83.4ZM489.6 88.9 480.1 72.4 489.6 77.9ZM480.1 72.4 489.6 55.9 489.6 66.9ZM489.6 55.9 508.7 55.9 499.2 61.4ZM508.7 55.9 518.2 72.4 508.7 66.9ZM546.8 88.9 537.3 105.4 537.3 94.4ZM537.3 105.4 518.2 105.4 527.7 99.9ZM518.2 105.4 508.7 88.9 518.2 94.4ZM508.7 88.9 518.2 72.4 518.2 83.4ZM518.2 72.4 537.3 72.4 527.7 77.9ZM537.3 72.4 546.8 88.9 537.3 83.4ZM575.4 105.4 565.8 121.9 565.8 110.9ZM565.8 121.9 546.8 121.9 556.3 116.4ZM546.8 121.9 537.3 105.4 546.8 110.9ZM537.3 105.4 546.8 88.9 546.8 99.9ZM546.8 88.9 565.8 88.9 556.3 94.4ZM565.8 88.9 575.4 105.4 565.8 99.9ZM604 121.9 594.4 138.4 594.4 127.4ZM594.4 138.4 575.4 138.4 584.9 132.9ZM575.4 138.4 565.8 121.9 575.4 127.4ZM565.8 121.9 575.4 105.4 575.4 116.4ZM575.4 105.4 594.4 105.4 584.9 110.9ZM594.4 105.4 604 121.9 594.4 116.4ZM632.5 138.4 623 154.9 623 143.9ZM623 154.9 604 154.9 613.5 149.4ZM604 154.9 594.4 138.4 604 143.9ZM594.4 138.4 604 121.9 604 132.9ZM604 121.9 623 121.9 613.5 127.4ZM623 121.9 632.5 138.4 623 132.9ZM661.1 154.9 651.6 171.4 651.6 160.4ZM651.6 171.4 632.5 171.4 642.1 165.9ZM632.5 171.4 623 154.9 632.5 160.4ZM623 154.9 632.5 138.4 632.5 149.4ZM632.5 138.4 651.6 138.4 642.1 143.9ZM651.6 138.4 661.1 154.9 651.6 149.4ZM689.7 171.4 680.2 187.9 680.2 176.9ZM680.2 187.9 661.1 187.9 670.6 182.4ZM661.1 187.9 651.6 171.4 661.1 176.9ZM651.6 171.4 661.1 154.9 661.1 165.9ZM661.1 154.9 680.2 154.9 670.6 160.4ZM680.2 154.9 689.7 171.4 680.2 165.9ZM489.6 22.9 480.1 39.4 480.1 28.4ZM480.1 39.4 461.1 39.4 470.6 33.9ZM461.1 39.4 451.5 22.9 461.1 28.4ZM451.5 22.9 461.1 6.4 461.1 17.4ZM461.1 6.4 480.1 6.4 470.6 11.9ZM480.1 6.4 489.6 22.9 480.1 17.4ZM518.2 39.4 508.7 55.9 508.7 44.9ZM508.7 55.9 489.6 55.9 499.2 50.4ZM489.6 55.9 480.1 39.4 489.6 44.9ZM480.1 39.4 489.6 22.9 489.6 33.9ZM489.6 22.9 508.7 22.9 499.2 28.4ZM508.7 22.9 518.2 39.4 508.7 33.9ZM546.8 55.9 537.3 72.4 537.3 61.4ZM537.3 72.4 518.2 72.4 527.7 66.9ZM518.2 72.4 508.7 55.9 518.2 61.4ZM508.7 55.9 518.2 39.4 518.2 50.4ZM518.2 39.4 537.3 39.4 527.7 44.9ZM537.3 39.4 546.8 55.9 537.3 50.4ZM575.4 72.4 565.8 88.9 565.8 77.9ZM565.8 88.9 546.8 88.9 556.3 83.4ZM546.8 88.9 537.3 72.4 546.8 77.9ZM537.3 72.4 546.8 55.9 546.8 66.9ZM546.8 55.9 565.8 55.9 556.3 61.4ZM565.8 55.9 575.4 72.4 565.8 66.9ZM604 88.9 594.4 105.4 594.4 94.4ZM594.4 105.4 575.4 105.4 584.9 99.9ZM575.4 105.4 565.8 88.9 575.4 94.4ZM565.8 88.9 575.4 72.4 575.4 83.4ZM575.4 72.4 594.4 72.4 584.9 77.9ZM594.4 72.4 604 88.9 594.4 83.4ZM632.5 105.4 623 121.9 623 110.9ZM623 121.9 604 121.9 613.5 116.4ZM604 121.9 594.4 105.4 604 110.9ZM594.4 105.4 604 88.9 604 99.9ZM604 88.9 623 88.9 613.5 94.4ZM623 88.9 632.5 105.4 623 99.9ZM661.1 121.9 651.6 138.4 651.6 127.4ZM651.6 138.4 632.5 138.4 642.1 132.9ZM632.5 138.4 623 121.9 632.5 127.4ZM623 121.9 632.5 105.4 632.5 116.4ZM632.5 105.4 651.6 105.4 642.1 110.9ZM651.6 105.4 661.1 121.9 651.6 116.4ZM689.7 138.4 680.2 154.9 680.2 143.9ZM680.2 154.9 661.1 154.9 670.6 149.4ZM661.1 154.9 651.6 138.4 661.1 143.9ZM651.6 138.4 661.1 121.9 661.1 132.9ZM661.1 121.9 680.2 121.9 670.6 127.4ZM680.2 121.9 689.7 138.4 680.2 132.9ZM518.2 6.4 508.7 22.9 508.7 11.9ZM508.7 22.9 489.6 22.9 499.2 17.4ZM489.6 22.9 480.1 6.4 489.6 11.9ZM480.1 6.4 489.6 -10.1 489.6 0.9ZM489.6 -10.1 508.7 -10.1 499.2 -4.6ZM508.7 -10.1 518.2 6.4 508.7 0.9ZM546.8 22.9 537.3 39.4 537.3 28.4ZM537.3 39.4 518.2 39.4 527.7 33.9ZM518.2 39.4 508.7 22.9 518.2 28.4ZM508.7 22.9 518.2 6.4 518.2 17.4ZM518.2 6.4 537.3 6.4 527.7 11.9ZM537.3 6.4 546.8 22.9 537.3 17.4ZM575.4 39.4 565.8 55.9 565.8 44.9ZM565.8 55.9 546.8 55.9 556.3 50.4ZM546.8 55.9 537.3 39.4 546.8 44.9ZM537.3 39.4 546.8 22.9 546.8 33.9ZM546.8 22.9 565.8 22.9 556.3 28.4ZM565.8 22.9 575.4 39.4 565.8 33.9ZM604 55.9 594.4 72.4 594.4 61.4ZM594.4 72.4 575.4 72.4 584.9 66.9ZM575.4 72.4 565.8 55.9 575.4 61.4ZM565.8 55.9 575.4 39.4 575.4 50.4ZM575.4 39.4 594.4 39.4 584.9 44.9ZM594.4 39.4 604 55.9 594.4 50.4ZM632.5 72.4 623 88.9 623 77.9ZM623 88.9 604 88.9 613.5 83.4ZM604 88.9 594.4 72.4 604 77.9ZM594.4 72.4 604 55.9 604 66.9ZM604 55.9 623 55.9 613.5 61.4ZM623 55.9 632.5 72.4 623 66.9ZM661.1 88.9 651.6 105.4 651.6 94.4ZM651.6 105.4 632.5 105.4 642.1 99.9ZM632.5 105.4 623 88.9 632.5 94.4ZM623 88.9 632.5 72.4 632.5 83.4ZM632.5 72.4 651.6 72.4 642.1 77.9ZM651.6 72.4 661.1 88.9 651.6 83.4ZM689.7 105.4 680.2 121.9 680.2 110.9ZM680.2 121.9 661.1 121.9 670.6 116.4ZM661.1 121.9 651.6 105.4 661.1 110.9ZM651.6 105.4 661.1 88.9 661.1 99.9ZM661.1 88.9 680.2 88.9 670.6 94.4ZM680.2 88.9 689.7 105.4 680.2 99.9ZM575.4 6.4 565.8 22.9 565.8 11.9ZM565.8 22.9 546.8 22.9 556.3 17.4ZM546.8 22.9 537.3 6.4 546.8 11.9ZM537.3 6.4 546.8 -10.1 546.8 0.9ZM546.8 -10.1 565.8 -10.1 556.3 -4.6ZM565.8 -10.1 575.4 6.4 565.8 0.9ZM604 22.9 594.4 39.4 594.4 28.4ZM594.4 39.4 575.4 39.4 584.9 33.9ZM575.4 39.4 565.8 22.9 575.4 28.4ZM565.8 22.9 575.4 6.4 575.4 17.4ZM575.4 6.4 594.4 6.4 584.9 11.9ZM594.4 6.4 604 22.9 594.4 17.4ZM632.5 39.4 623 55.9 623 44.9ZM623 55.9 604 55.9 613.5 50.4ZM604 55.9 594.4 39.4 604 44.9ZM594.4 39.4 604 22.9 604 33.9ZM604 22.9 623 22.9 613.5 28.4ZM623 22.9 632.5 39.4 623 33.9ZM661.1 55.9 651.6 72.4 651.6 61.4ZM651.6 72.4 632.5 72.4 642.1 66.9ZM632.5 72.4 623 55.9 632.5 61.4ZM623 55.9 632.5 39.4 632.5 50.4ZM632.5 39.4 651.6 39.4 642.1 44.9ZM651.6 39.4 661.1 55.9 651.6 50.4ZM689.7 72.4 680.2 88.9 680.2 77.9ZM680.2 88.9 661.1 88.9 670.6 83.4ZM661.1 88.9 651.6 72.4 661.1 77.9ZM651.6 72.4 661.1 55.9 661.1 66.9ZM661.1 55.9 680.2 55.9 670.6 61.4ZM680.2 55.9 689.7 72.4 680.2 66.9ZM632.5 6.4 623 22.9 623 11.9ZM623 22.9 604 22.9 613.5 17.4ZM604 22.9 594.4 6.4 604 11.9ZM594.4 6.4 604 -10.1 604 0.9ZM604 -10.1 623 -10.1 613.5 -4.6ZM623 -10.1 632.5 6.4 623 0.9ZM661.1 22.9 651.6 39.4 651.6 28.4ZM651.6 39.4 632.5 39.4 642.1 33.9ZM632.5 39.4 623 22.9 632.5 28.4ZM623 22.9 632.5 6.4 632.5 17.4ZM632.5 6.4 651.6 6.4 642.1 11.9ZM651.6 6.4 661.1 22.9 651.6 17.4ZM689.7 39.4 680.2 55.9 680.2 44.9ZM680.2 55.9 661.1 55.9 670.6 50.4ZM661.1 55.9 651.6 39.4 661.1 44.9ZM651.6 39.4 661.1 22.9 661.1 33.9ZM661.1 22.9 680.2 22.9 670.6 28.4ZM680.2 22.9 689.7 39.4 680.2 33.9ZM689.7 6.4 680.2 22.9 680.2 11.9ZM680.2 22.9 661.1 22.9 670.6 17.4ZM661.1 22.9 651.6 6.4 661.1 11.9ZM651.6 6.4 661.1 -10.1 661.1 0.9ZM661.1 -10.1 680.2 -10.1 670.6 -4.6ZM680.2 -10.1 689.7 6.4 680.2 0.9Z" fill="#dc8ad2"/>
<path d="M470.6 154.9L480.1 154.9M470.6 154.9L465.8 163.2M470.6 154.9L465.8 146.7M499.2 171.4L508.7 171.4M499.2 171.4L494.4 179.7M499.2 171.4L494.4 163.2M470.6 121.9L480.1 121.9M470.6 121.9L465.8 130.2M470.6 121.9L465.8 113.7M499.2 138.4L508.7 138.4M499.2 138.4L494.4 146.7M499.2 138.4L494.4 130.2M527.7 154.9L537.3 154.9M527.7 154.9L523 163.2M527.7 154.9L523 146.7M556.3 171.4L565.8 171.4M556.3 171.4L551.6 179.7M556.3 171.4L551.6 163.2M470.6 88.9L480.1 88.9M470.6 88.9L465.8 97.2M470.6 88.9L465.8 80.7M499.2 105.4L508.7 105.4M499.2 105.4L494.4 113.7M499.2 105.4L494.4 97.2M527.7 121.9L537.3 121.9M527.7 121.9L523 130.2M527.7 121.9L523 113.7M556.3 138.4L565.8 138.4M556.3 138.4L551.6 146.7M556.3 138.4L551.6 130.2M584.9 154.9L594.4 154.9M584.9 154.9L580.1 163.2M584.9 154.9L580.1 146.7M613.5 171.4L623 171.4M613.5 171.4L608.7 179.7M613.5 171.4L608.7 163.2M470.6 55.9L480.1 55.9M470.6 55.9L465.8 64.2M470.6 55.9L465.8 47.7M499.2 72.4L508.7 72.4M499.2 72.4L494.4 80.7M499.2 72.4L494.4 64.2M527.7 88.9L537.3 88.9M527.7 88.9L523 97.2M527.7 88.9L523 80.7M556.3 105.4L565.8 105.4M556.3 105.4L551.6 113.7M556.3 105.4L551.6 97.2M584.9 121.9L594.4 121.9M584.9 121.9L580.1 130.2M584.9 121.9L580.1 113.7M613.5 138.4L623 138.4M613.5 138.4L608.7 146.7M613.5 138.4L608.7 130.2M642.1 154.9L651.6 154.9M642.1 154.9L637.3 163.2M642.1 154.9L637.3 146.7M670.6 171.4L680.2 171.4M670.6 171.4L665.9 179.7M670.6 171.4L665.9 163.2M470.6 22.9L480.1 22.9M470.6 22.9L465.8 31.2M470.6 22.9L465.8 14.7M499.2 39.4L508.7 39.4M499.2 39.4L494.4 47.7M499.2 39.4L494.4 31.2M527.7 55.9L537.3 55.9M527.7 55.9L523 64.2M527.7 55.9L523 47.7M556.3 72.4L565.8 72.4M556.3 72.4L551.6 80.7M556.3 72.4L551.6 64.2M584.9 88.9L594.4 88.9M584.9 88.9L580.1 97.2M584.9 88.9L580.1 80.7M613.5 105.4L623 105.4M613.5 105.4L608.7 113.7M613.5 105.4L608.7 97.2M642.1 121.9L651.6 121.9M642.1 121.9L637.3 130.2M642.1 121.9L637.3 113.7M670.6 138.4L680.2 138.4M670.6 138.4L665.9 146.7M670.6 138.4L665.9 130.2M499.2 6.4L508.7 6.4M499.2 6.4L494.4 14.6M499.2 6.4L494.4 -1.8M527.7 22.9L537.3 22.9M527.7 22.9L523 31.1M527.7 22.9L523 14.7M556.3 39.4L565.8 39.4M556.3 39.4L551.6 47.6M556.3 39.4L551.6 31.2M584.9 55.9L594.4 55.9M584.9 55.9L580.1 64.2M584.9 55.9L580.1 47.7M613.5 72.4L623 72.4M613.5 72.4L608.7 80.7M613.5 72.4L608.7 64.2M642.1 88.9L651.6 88.9M642.1 88.9L637.3 97.2M642.1 88.9L637.3 80.7M670.6 105.4L680.2 105.4M670.6 105.4L665.9 113.7M670.6 105.4L665.9 97.2M556.3 6.4L565.8 6.4M556.3 6.4L551.6 14.6M556.3 6.4L551.6 -1.8M584.9 22.9L594.4 22.9M584.9 22.9L580.1 31.1M584.9 22.9L580.1 14.7M613.5 39.4L623 39.4M613.5 39.4L608.7 47.6M613.5 39.4L608.7 31.2M642.1 55.9L651.6 55.9M642.1 55.9L637.3 64.2M642.1 55.9L637.3 47.7M670.6 72.4L680.2 72.4M670.6 72.4L665.9 80.7M670.6 72.4L665.9 64.2M613.5 6.4L623 6.4M613.5 6.4L608.7 14.6M613.5 6.4L608.7 -1.8M642.1 22.9L651.6 22.9M642.1 22.9L637.3 31.1M642.1 22.9L637.3 14.7M670.6 39.4L680.2 39.4M670.6 39.4L665.9 47.6M670.6 39.4L665.9 31.2M670.6 6.4L680.2 6.4M670.6 6.4L665.9 14.6M670.6 6.4L665.9 -1.8" stroke="#dc6cd4" stroke-width="1.0" fill="none"/>
<path d="M480.1 154.9L489.6 154.9M465.8 163.2L461.1 171.4M465.8 146.7L461.1 138.4M508.7 171.4L518.2 171.4M494.4 179.7L489.6 187.9M494.4 163.2L489.6 154.9M480.1 121.9L489.6 121.9M465.8 130.2L461.1 138.4M465.8 113.7L461.1 105.4M508.7 138.4L518.2 138.4M494.4 146.7L489.6 154.9M494.4 130.2L489.6 121.9M537.3 154.9L546.8 154.9M523 163.2L518.2 171.4M523 146.7L518.2 138.4M565.8 171.4L575.4 171.4M551.6 179.7L546.8 187.9M551.6 163.2L546.8 154.9M480.1 88.9L489.6 88.9M465.8 97.2L461.1 105.4M465.8 80.7L461.1 72.4M508.7 105.4L518.2 105.4M494.4 113.7L489.6 121.9M494.4 97.2L489.6 88.9M537.3 121.9L546.8 121.9M523 130.2L518.2 138.4M523 113.7L518.2 105.4M565.8 138.4L575.4 138.4M551.6 146.7L546.8 154.9M551.6 130.2L546.8 121.9M594.4 154.9L604 154.9M580.1 163.2L575.4 171.4M580.1 146.7L575.4 138.4M623 171.4L632.5 171.4M608.7 179.7L604 187.9M608.7 163.2L604 154.9M480.1 55.9L489.6 55.9M465.8 64.2L461.1 72.4M465.8 47.7L461.1 39.4M508.7 72.4L518.2 72.4M494.4 80.7L489.6 88.9M494.4 64.2L489.6 55.9M537.3 88.9L546.8 88.9M523 97.2L518.2 105.4M523 80.7L518.2 72.4M565.8 105.4L575.4 105.4M551.6 113.7L546.8 121.9M551.6 97.2L546.8 88.9M594.4 121.9L604 121.9M580.1 130.2L575.4 138.4M580.1 113.7L575.4 105.4M623 138.4L632.5 138.4M608.7 146.7L604 154.9M608.7 130.2L604 121.9M651.6 154.9L661.1 154.9M637.3 163.2L632.5 171.4M637.3 146.7L632.5 138.4M680.2 171.4L689.7 171.4M665.9 179.7L661.1 187.9M665.9 163.2L661.1 154.9M480.1 22.9L489.6 22.9M465.8 31.2L461.1 39.4M465.8 14.7L461.1 6.4M508.7 39.4L518.2 39.4M494.4 47.7L489.6 55.9M494.4 31.2L489.6 22.9M537.3 55.9L546.8 55.9M523 64.2L518.2 72.4M523 47.7L518.2 39.4M565.8 72.4L575.4 72.4M551.6 80.7L546.8 88.9M551.6 64.2L546.8 55.9M594.4 88.9L604 88.9M580.1 97.2L575.4 105.4M580.1 80.7L575.4 72.4M623 105.4L632.5 105.4M608.7 113.7L604 121.9M608.7 97.2L604 88.9M651.6 121.9L661.1 121.9M637.3 130.2L632.5 138.4M637.3 113.7L632.5 105.4M680.2 138.4L689.7 138.4M665.9 146.7L661.1 154.9M665.9 130.2L661.1 121.9M508.7 6.4L518.2 6.4M494.4 14.6L489.6 22.9M494.4 -1.8L489.6 -10.1M537.3 22.9L546.8 22.9M523 31.1L518.2 39.4M523 14.7L518.2 6.4M565.8 39.4L575.4 39.4M551.6 47.6L546.8 55.9M551.6 31.2L546.8 22.9M594.4 55.9L604 55.9M580.1 64.2L575.4 72.4M580.1 47.7L575.4 39.4M623 72.4L632.5 72.4M608.7 80.7L604 88.9M608.7 64.2L604 55.9M651.6 88.9L661.1 88.9M637.3 97.2L632.5 105.4M637.3 80.7L632.5 72.4M680.2 105.4L689.7 105.4M665.9 113.7L661.1 121.9M665.9 97.2L661.1 88.9M565.8 6.4L575.4 6.4M551.6 14.6L546.8 22.9M551.6 -1.8L546.8 -10.1M594.4 22.9L604 22.9M580.1 31.1L575.4 39.4M580.1 14.7L575.4 6.4M623 39.4L632.5 39.4M608.7 47.6L604 55.9M608.7 31.2L604 22.9M651.6 55.9L661.1 55.9M637.3 64.2L632.5 72.4M637.3 47.7L632.5 39.4M680.2 72.4L689.7 72.4M665.9 80.7L661.1 88.9M665.9 64.2L661.1 55.9M623 6.4L632.5 6.4M608.7 14.6L604 22.9M608.7 -1.8L604 -10.1M651.6 22.9L661.1 22.9M637.3 31.1L632.5 39.4M637.3 14.7L632.5 6.4M680.2 39.4L689.7 39.4M665.9 47.6L661.1 55.9M665.9 31.2L661.1 22.9M680.2 6.4L689.7 6.4M665.9 14.6L661.1 22.9M665.9 -1.8L661.1 -10.1" stroke="#d0a482" stroke-width="1.0" fill="none"/>
<path d="M470.6 154.9L475.3 163.2M470.6 154.9L461.1 154.9M470.6 154.9L475.3 146.7M499.2 171.4L503.9 179.7M499.2 171.4L489.6 171.4M499.2 171.4L503.9 163.2M470.6 121.9L475.3 130.2M470.6 121.9L461.1 121.9M470.6 121.9L475.3 113.7M499.2 138.4L503.9 146.7M499.2 138.4L489.6 138.4M499.2 138.4L503.9 130.2M527.7 154.9L532.5 163.2M527.7 154.9L518.2 154.9M527.7 154.9L532.5 146.7M556.3 171.4L561.1 179.7M556.3 171.4L546.8 171.4M556.3 171.4L561.1 163.2M470.6 88.9L475.3 97.2M470.6 88.9L461.1 88.9M470.6 88.9L475.3 80.7M499.2 105.4L503.9 113.7M499.2 105.4L489.6 105.4M499.2 105.4L503.9 97.2M527.7 121.9L532.5 130.2M527.7 121.9L518.2 121.9M527.7 121.9L532.5 113.7M556.3 138.4L561.1 146.7M556.3 138.4L546.8 138.4M556.3 138.4L561.1 130.2M584.9 154.9L589.7 163.2M584.9 154.9L575.4 154.9M584.9 154.9L589.7 146.7M613.5 171.4L618.2 179.7M613.5 171.4L604 171.4M613.5 171.4L618.2 163.2M470.6 55.9L475.3 64.2M470.6 55.9L461.1 55.9M470.6 55.9L475.3 47.7M499.2 72.4L503.9 80.7M499.2 72.4L489.6 72.4M499.2 72.4L503.9 64.2M527.7 88.9L532.5 97.2M527.7 88.9L518.2 88.9M527.7 88.9L532.5 80.7M556.3 105.4L561.1 113.7M556.3 105.4L546.8 105.4M556.3 105.4L561.1 97.2M584.9 121.9L589.7 130.2M584.9 121.9L575.4 121.9M584.9 121.9L589.7 113.7M613.5 138.4L618.2 146.7M613.5 138.4L604 138.4M613.5 138.4L618.2 130.2M642.1 154.9L646.8 163.2M642.1 154.9L632.5 154.9M642.1 154.9L646.8 146.7M670.6 171.4L675.4 179.7M670.6 171.4L661.1 171.4M670.6 171.4L675.4 163.2M470.6 22.9L475.3 31.2M470.6 22.9L461.1 22.9M470.6 22.9L475.3 14.7M499.2 39.4L503.9 47.7M499.2 39.4L489.6 39.4M499.2 39.4L503.9 31.2M527.7 55.9L532.5 64.2M527.7 55.9L518.2 55.9M527.7 55.9L532.5 47.7M556.3 72.4L561.1 80.7M556.3 72.4L546.8 72.4M556.3 72.4L561.1 64.2M584.9 88.9L589.7 97.2M584.9 88.9L575.4 88.9M584.9 88.9L589.7 80.7M613.5 105.4L618.2 113.7M613.5 105.4L604 105.4M613.5 105.4L618.2 97.2M642.1 121.9L646.8 130.2M642.1 121.9L632.5 121.9M642.1 121.9L646.8 113.7M670.6 138.4L675.4 146.7M670.6 138.4L661.1 138.4M670.6 138.4L675.4 130.2M499.2 6.4L503.9 14.6M499.2 6.4L489.6 6.4M499.2 6.4L503.9 -1.9M527.7 22.9L532.5 31.1M527.7 22.9L518.2 22.9M527.7 22.9L532.5 14.6M556.3 39.4L561.1 47.6M556.3 39.4L546.8 39.4M556.3 39.4L561.1 31.1M584.9 55.9L589.7 64.2M584.9 55.9L575.4 55.9M584.9 55.9L589.7 47.6M613.5 72.4L618.2 80.7M613.5 72.4L604 72.4M613.5 72.4L618.2 64.2M642.1 88.9L646.8 97.2M642.1 88.9L632.5 88.9M642.1 88.9L646.8 80.7M670.6 105.4L675.4 113.7M670.6 105.4L661.1 105.4M670.6 105.4L675.4 97.2M556.3 6.4L561.1 14.6M556.3 6.4L546.8 6.4M556.3 6.4L561.1 -1.9M584.9 22.9L589.7 31.1M584.9 22.9L575.4 22.9M584.9 22.9L589.7 14.6M613.5 39.4L618.2 47.6M613.5 39.4L604 39.4M613.5 39.4L618.2 31.1M642.1 55.9L646.8 64.2M642.1 55.9L632.5 55.9M642.1 55.9L646.8 47.6M670.6 72.4L675.4 80.7M670.6 72.4L661.1 72.4M670.6 72.4L675.4 64.2M613.5 6.4L618.2 14.6M613.5 6.4L604 6.4M613.5 6.4L618.2 -1.9M642.1 22.9L646.8 31.1M642.1 22.9L632.5 22.9M642.1 22.9L646.8 14.6M670.6 39.4L675.4 47.6M670.6 39.4L661.1 39.4M670.6 39.4L675.4 31.1M670.6 6.4L675.4 14.6M670.6 6.4L661.1 6.4M670.6 6.4L675.4 -1.9" stroke="#dc6cd4" stroke-width="1.0" fill="none"/>
<path d="M475.3 163.2L480.1 171.4M461.1 154.9L451.5 154.9M475.3 146.7L480.1 138.4M503.9 179.7L508.7 187.9M489.6 171.4L480.1 171.4M503.9 163.2L508.7 154.9M475.3 130.2L480.1 138.4M461.1 121.9L451.5 121.9M475.3 113.7L480.1 105.4M503.9 146.7L508.7 154.9M489.6 138.4L480.1 138.4M503.9 130.2L508.7 121.9M532.5 163.2L537.3 171.4M518.2 154.9L508.7 154.9M532.5 146.7L537.3 138.4M561.1 179.7L565.8 187.9M546.8 171.4L537.3 171.4M561.1 163.2L565.8 154.9M475.3 97.2L480.1 105.4M461.1 88.9L451.5 88.9M475.3 80.7L480.1 72.4M503.9 113.7L508.7 121.9M489.6 105.4L480.1 105.4M503.9 97.2L508.7 88.9M532.5 130.2L537.3 138.4M518.2 121.9L508.7 121.9M532.5 113.7L537.3 105.4M561.1 146.7L565.8 154.9M546.8 138.4L537.3 138.4M561.1 130.2L565.8 121.9M589.7 163.2L594.4 171.4M575.4 154.9L565.8 154.9M589.7 146.7L594.4 138.4M618.2 179.7L623 187.9M604 171.4L594.4 171.4M618.2 163.2L623 154.9M475.3 64.2L480.1 72.4M461.1 55.9L451.5 55.9M475.3 47.7L480.1 39.4M503.9 80.7L508.7 88.9M489.6 72.4L480.1 72.4M503.9 64.2L508.7 55.9M532.5 97.2L537.3 105.4M518.2 88.9L508.7 88.9M532.5 80.7L537.3 72.4M561.1 113.7L565.8 121.9M546.8 105.4L537.3 105.4M561.1 97.2L565.8 88.9M589.7 130.2L594.4 138.4M575.4 121.9L565.8 121.9M589.7 113.7L594.4 105.4M618.2 146.7L623 154.9M604 138.4L594.4 138.4M618.2 130.2L623 121.9M646.8 163.2L651.6 171.4M632.5 154.9L623 154.9M646.8 146.7L651.6 138.4M675.4 179.7L680.2 187.9M661.1 171.4L651.6 171.4M675.4 163.2L680.2 154.9M475.3 31.2L480.1 39.4M461.1 22.9L451.5 22.9M475.3 14.7L480.1 6.4M503.9 47.7L508.7 55.9M489.6 39.4L480.1 39.4M503.9 31.2L508.7 22.9M532.5 64.2L537.3 72.4M518.2 55.9L508.7 55.9M532.5 47.7L537.3 39.4M561.1 80.7L565.8 88.9M546.8 72.4L537.3 72.4M561.1 64.2L565.8 55.9M589.7 97.2L594.4 105.4M575.4 88.9L565.8 88.9M589.7 80.7L594.4 72.4M618.2 113.7L623 121.9M604 105.4L594.4 105.4M618.2 97.2L623 88.9M646.8 130.2L651.6 138.4M632.5 121.9L623 121.9M646.8 113.7L651.6 105.4M675.4 146.7L680.2 154.9M661.1 138.4L651.6 138.4M675.4 130.2L680.2 121.9M503.9 14.6L508.7 22.9M489.6 6.4L480.1 6.4M503.9 -1.9L508.7 -10.1M532.5 31.1L537.3 39.4M518.2 22.9L508.7 22.9M532.5 14.6L537.3 6.4M561.1 47.6L565.8 55.9M546.8 39.4L537.3 39.4M561.1 31.1L565.8 22.9M589.7 64.2L594.4 72.4M575.4 55.9L565.8 55.9M589.7 47.6L594.4 39.4M618.2 80.7L623 88.9M604 72.4L594.4 72.4M618.2 64.2L623 55.9M646.8 97.2L651.6 105.4M632.5 88.9L623 88.9M646.8 80.7L651.6 72.4M675.4 113.7L680.2 121.9M661.1 105.4L651.6 105.4M675.4 97.2L680.2 88.9M561.1 14.6L565.8 22.9M546.8 6.4L537.3 6.4M561.1 -1.9L565.8 -10.1M589.7 31.1L594.4 39.4M575.4 22.9L565.8 22.9M589.7 14.6L594.4 6.4M618.2 47.6L623 55.9M604 39.4L594.4 39.4M618.2 31.1L623 22.9M646.8 64.2L651.6 72.4M632.5 55.9L623 55.9M646.8 47.6L651.6 39.4M675.4 80.7L680.2 88.9M661.1 72.4L651.6 72.4M675.4 64.2L680.2 55.9M618.2 14.6L623 22.9M604 6.4L594.4 6.4M618.2 -1.9L623 -10.1M646.8 31.1L651.6 39.4M632.5 22.9L623 22.9M646.8 14.6L651.6 6.4M675.4 47.6L680.2 55.9M661.1 39.4L651.6 39.4M675.4 31.1L680.2 22.9M675.4 14.6L680.2 22.9M661.1 6.4L651.6 6.4M675.4 -1.9L680.2 -10.1" stroke="#e4dc90" stroke-width="1.0" fill="none"/>
<circle cx="499.2" cy="138.4" r="2.9" fill="url(#gMn)"/>
<circle cx="527.7" cy="154.9" r="2.9" fill="url(#gMn)"/>
<circle cx="499.2" cy="105.4" r="2.9" fill="url(#gMn)"/>
<circle cx="527.7" cy="121.9" r="2.9" fill="url(#gMn)"/>
<circle cx="556.3" cy="138.4" r="2.9" fill="url(#gMn)"/>
<circle cx="584.9" cy="154.9" r="2.9" fill="url(#gMn)"/>
<circle cx="499.2" cy="72.4" r="2.9" fill="url(#gMn)"/>
<circle cx="527.7" cy="88.9" r="2.9" fill="url(#gMn)"/>
<circle cx="556.3" cy="105.4" r="2.9" fill="url(#gMn)"/>
<circle cx="584.9" cy="121.9" r="2.9" fill="url(#gMn)"/>
<circle cx="613.5" cy="138.4" r="2.9" fill="url(#gMn)"/>
<circle cx="642.1" cy="154.9" r="2.9" fill="url(#gMn)"/>
<circle cx="499.2" cy="39.4" r="2.9" fill="url(#gMn)"/>
<circle cx="527.7" cy="55.9" r="2.9" fill="url(#gMn)"/>
<circle cx="556.3" cy="72.4" r="2.9" fill="url(#gMn)"/>
<circle cx="584.9" cy="88.9" r="2.9" fill="url(#gMn)"/>
<circle cx="613.5" cy="105.4" r="2.9" fill="url(#gMn)"/>
<circle cx="642.1" cy="121.9" r="2.9" fill="url(#gMn)"/>
<circle cx="670.6" cy="138.4" r="2.9" fill="url(#gMn)"/>
<circle cx="527.7" cy="22.9" r="2.9" fill="url(#gMn)"/>
<circle cx="556.3" cy="39.4" r="2.9" fill="url(#gMn)"/>
<circle cx="584.9" cy="55.9" r="2.9" fill="url(#gMn)"/>
<circle cx="613.5" cy="72.4" r="2.9" fill="url(#gMn)"/>
<circle cx="642.1" cy="88.9" r="2.9" fill="url(#gMn)"/>
<circle cx="670.6" cy="105.4" r="2.9" fill="url(#gMn)"/>
<circle cx="584.9" cy="22.9" r="2.9" fill="url(#gMn)"/>
<circle cx="613.5" cy="39.4" r="2.9" fill="url(#gMn)"/>
<circle cx="642.1" cy="55.9" r="2.9" fill="url(#gMn)"/>
<circle cx="670.6" cy="72.4" r="2.9" fill="url(#gMn)"/>
<circle cx="642.1" cy="22.9" r="2.9" fill="url(#gMn)"/>
<circle cx="670.6" cy="39.4" r="2.9" fill="url(#gMn)"/>
<path d="M470.6 145.4 490.9 133.6 507.4 143.2 507.4 166.6 490.9 176.2 470.6 164.4ZM470.6 79.4 490.9 67.6 507.4 77.2 507.4 100.6 490.9 110.2 470.6 98.4ZM490.9 110.2 507.4 100.6 527.8 112.4 527.8 131.4 507.4 143.2 490.9 133.6ZM527.8 112.4 548.1 100.6 564.6 110.2 564.6 133.6 548.1 143.2 527.8 131.4ZM548.1 143.2 564.6 133.6 584.9 145.4 584.9 164.4 564.6 176.2 548.1 166.6ZM584.9 145.4 605.2 133.6 621.7 143.2 621.7 166.6 605.2 176.2 584.9 164.4ZM470.6 13.4 490.9 1.6 507.4 11.2 507.4 34.6 490.9 44.2 470.6 32.4ZM490.9 44.2 507.4 34.6 527.8 46.4 527.8 65.4 507.4 77.2 490.9 67.6ZM527.8 46.4 548.1 34.6 564.6 44.2 564.6 67.6 548.1 77.2 527.8 65.4ZM548.1 77.2 564.6 67.6 584.9 79.4 584.9 98.4 564.6 110.2 548.1 100.6ZM584.9 79.4 605.2 67.6 621.7 77.2 621.7 100.6 605.2 110.2 584.9 98.4ZM605.2 110.2 621.7 100.6 642.1 112.4 642.1 131.4 621.7 143.2 605.2 133.6ZM642.1 112.4 662.4 100.6 678.9 110.2 678.9 133.6 662.4 143.2 642.1 131.4ZM662.4 143.2 678.9 133.6 699.2 145.4 699.2 164.4 678.9 176.2 662.4 166.6ZM548.1 11.2 564.6 1.6 584.9 13.4 584.9 32.4 564.6 44.2 548.1 34.6ZM584.9 13.4 605.2 1.6 621.7 11.2 621.7 34.6 605.2 44.2 584.9 32.4ZM605.2 44.2 621.7 34.6 642.1 46.4 642.1 65.4 621.7 77.2 605.2 67.6ZM642.1 46.4 662.4 34.6 678.9 44.2 678.9 67.6 662.4 77.2 642.1 65.4ZM662.4 77.2 678.9 67.6 699.2 79.4 699.2 98.4 678.9 110.2 662.4 100.6ZM662.4 11.2 678.9 1.6 699.2 13.4 699.2 32.4 678.9 44.2 662.4 34.6Z" fill="#9cb8e0" fill-opacity="0.5"/>
<path d="M483.7 144.6 496 143.8 501.5 154.9 496 166 483.7 165.2 476.9 154.9ZM483.7 78.6 496 77.8 501.5 88.9 496 100 483.7 99.2 476.9 88.9ZM502.3 110.8 514.7 111.6 521.5 121.9 514.7 132.2 502.3 133 496.8 121.9ZM540.9 111.6 553.2 110.8 558.7 121.9 553.2 133 540.9 132.2 534 121.9ZM559.5 143.8 571.8 144.6 578.6 154.9 571.8 165.2 559.5 166 554 154.9ZM598 144.6 610.3 143.8 615.9 154.9 610.3 166 598 165.2 591.2 154.9ZM483.7 12.6 496 11.8 501.5 22.9 496 34 483.7 33.2 476.9 22.9ZM502.3 44.8 514.7 45.6 521.5 55.9 514.7 66.2 502.3 67 496.8 55.9ZM540.9 45.6 553.2 44.8 558.7 55.9 553.2 67 540.9 66.2 534 55.9ZM559.5 77.8 571.8 78.6 578.6 88.9 571.8 99.2 559.5 100 554 88.9ZM598 78.6 610.3 77.8 615.9 88.9 610.3 100 598 99.2 591.2 88.9ZM616.6 110.8 629 111.6 635.8 121.9 629 132.2 616.6 133 611.1 121.9ZM655.2 111.6 667.5 110.8 673 121.9 667.5 133 655.2 132.2 648.4 121.9ZM673.8 143.8 686.1 144.6 692.9 154.9 686.1 165.2 673.8 166 668.3 154.9ZM559.5 11.8 571.8 12.6 578.6 22.9 571.8 33.2 559.5 34 554 22.9ZM598 12.6 610.3 11.8 615.9 22.9 610.3 34 598 33.2 591.2 22.9ZM616.6 44.8 629 45.6 635.8 55.9 629 66.2 616.6 67 611.1 55.9ZM655.2 45.6 667.5 44.8 673 55.9 667.5 67 655.2 66.2 648.4 55.9ZM673.8 77.8 686.1 78.6 692.9 88.9 686.1 99.2 673.8 100 668.3 88.9ZM673.8 11.8 686.1 12.6 692.9 22.9 686.1 33.2 673.8 34 668.3 22.9Z" fill="#ffffff" fill-opacity="0.5"/>
<path d="M470.6 145.4 490.9 133.6 483.7 144.6ZM490.9 133.6 507.4 143.2 496 143.8ZM507.4 143.2 507.4 166.6 501.5 154.9ZM507.4 166.6 490.9 176.2 496 166ZM490.9 176.2 470.6 164.4 483.7 165.2ZM470.6 164.4 470.6 145.4 476.9 154.9ZM470.6 79.4 490.9 67.6 483.7 78.6ZM490.9 67.6 507.4 77.2 496 77.8ZM507.4 77.2 507.4 100.6 501.5 88.9ZM507.4 100.6 490.9 110.2 496 100ZM490.9 110.2 470.6 98.4 483.7 99.2ZM470.6 98.4 470.6 79.4 476.9 88.9ZM490.9 110.2 507.4 100.6 502.3 110.8ZM507.4 100.6 527.8 112.4 514.7 111.6ZM527.8 112.4 527.8 131.4 521.5 121.9ZM527.8 131.4 507.4 143.2 514.7 132.2ZM507.4 143.2 490.9 133.6 502.3 133ZM490.9 133.6 490.9 110.2 496.8 121.9ZM527.8 112.4 548.1 100.6 540.9 111.6ZM548.1 100.6 564.6 110.2 553.2 110.8ZM564.6 110.2 564.6 133.6 558.7 121.9ZM564.6 133.6 548.1 143.2 553.2 133ZM548.1 143.2 527.8 131.4 540.9 132.2ZM527.8 131.4 527.8 112.4 534 121.9ZM548.1 143.2 564.6 133.6 559.5 143.8ZM564.6 133.6 584.9 145.4 571.8 144.6ZM584.9 145.4 584.9 164.4 578.6 154.9ZM584.9 164.4 564.6 176.2 571.8 165.2ZM564.6 176.2 548.1 166.6 559.5 166ZM548.1 166.6 548.1 143.2 554 154.9ZM584.9 145.4 605.2 133.6 598 144.6ZM605.2 133.6 621.7 143.2 610.3 143.8ZM621.7 143.2 621.7 166.6 615.9 154.9ZM621.7 166.6 605.2 176.2 610.3 166ZM605.2 176.2 584.9 164.4 598 165.2ZM584.9 164.4 584.9 145.4 591.2 154.9ZM470.6 13.4 490.9 1.6 483.7 12.6ZM490.9 1.6 507.4 11.2 496 11.8ZM507.4 11.2 507.4 34.6 501.5 22.9ZM507.4 34.6 490.9 44.2 496 34ZM490.9 44.2 470.6 32.4 483.7 33.2ZM470.6 32.4 470.6 13.4 476.9 22.9ZM490.9 44.2 507.4 34.6 502.3 44.8ZM507.4 34.6 527.8 46.4 514.7 45.6ZM527.8 46.4 527.8 65.4 521.5 55.9ZM527.8 65.4 507.4 77.2 514.7 66.2ZM507.4 77.2 490.9 67.6 502.3 67ZM490.9 67.6 490.9 44.2 496.8 55.9ZM527.8 46.4 548.1 34.6 540.9 45.6ZM548.1 34.6 564.6 44.2 553.2 44.8ZM564.6 44.2 564.6 67.6 558.7 55.9ZM564.6 67.6 548.1 77.2 553.2 67ZM548.1 77.2 527.8 65.4 540.9 66.2ZM527.8 65.4 527.8 46.4 534 55.9ZM548.1 77.2 564.6 67.6 559.5 77.8ZM564.6 67.6 584.9 79.4 571.8 78.6ZM584.9 79.4 584.9 98.4 578.6 88.9ZM584.9 98.4 564.6 110.2 571.8 99.2ZM564.6 110.2 548.1 100.6 559.5 100ZM548.1 100.6 548.1 77.2 554 88.9ZM584.9 79.4 605.2 67.6 598 78.6ZM605.2 67.6 621.7 77.2 610.3 77.8ZM621.7 77.2 621.7 100.6 615.9 88.9ZM621.7 100.6 605.2 110.2 610.3 100ZM605.2 110.2 584.9 98.4 598 99.2ZM584.9 98.4 584.9 79.4 591.2 88.9ZM605.2 110.2 621.7 100.6 616.6 110.8ZM621.7 100.6 642.1 112.4 629 111.6ZM642.1 112.4 642.1 131.4 635.8 121.9ZM642.1 131.4 621.7 143.2 629 132.2ZM621.7 143.2 605.2 133.6 616.6 133ZM605.2 133.6 605.2 110.2 611.1 121.9ZM642.1 112.4 662.4 100.6 655.2 111.6ZM662.4 100.6 678.9 110.2 667.5 110.8ZM678.9 110.2 678.9 133.6 673 121.9ZM678.9 133.6 662.4 143.2 667.5 133ZM662.4 143.2 642.1 131.4 655.2 132.2ZM642.1 131.4 642.1 112.4 648.4 121.9ZM662.4 143.2 678.9 133.6 673.8 143.8ZM678.9 133.6 699.2 145.4 686.1 144.6ZM699.2 145.4 699.2 164.4 692.9 154.9ZM699.2 164.4 678.9 176.2 686.1 165.2ZM678.9 176.2 662.4 166.6 673.8 166ZM662.4 166.6 662.4 143.2 668.3 154.9ZM548.1 11.2 564.6 1.6 559.5 11.8ZM564.6 1.6 584.9 13.4 571.8 12.6ZM584.9 13.4 584.9 32.4 578.6 22.9ZM584.9 32.4 564.6 44.2 571.8 33.2ZM564.6 44.2 548.1 34.6 559.5 34ZM548.1 34.6 548.1 11.2 554 22.9ZM584.9 13.4 605.2 1.6 598 12.6ZM605.2 1.6 621.7 11.2 610.3 11.8ZM621.7 11.2 621.7 34.6 615.9 22.9ZM621.7 34.6 605.2 44.2 610.3 34ZM605.2 44.2 584.9 32.4 598 33.2ZM584.9 32.4 584.9 13.4 591.2 22.9ZM605.2 44.2 621.7 34.6 616.6 44.8ZM621.7 34.6 642.1 46.4 629 45.6ZM642.1 46.4 642.1 65.4 635.8 55.9ZM642.1 65.4 621.7 77.2 629 66.2ZM621.7 77.2 605.2 67.6 616.6 67ZM605.2 67.6 605.2 44.2 611.1 55.9ZM642.1 46.4 662.4 34.6 655.2 45.6ZM662.4 34.6 678.9 44.2 667.5 44.8ZM678.9 44.2 678.9 67.6 673 55.9ZM678.9 67.6 662.4 77.2 667.5 67ZM662.4 77.2 642.1 65.4 655.2 66.2ZM642.1 65.4 642.1 46.4 648.4 55.9ZM662.4 77.2 678.9 67.6 673.8 77.8ZM678.9 67.6 699.2 79.4 686.1 78.6ZM699.2 79.4 699.2 98.4 692.9 88.9ZM699.2 98.4 678.9 110.2 686.1 99.2ZM678.9 110.2 662.4 100.6 673.8 100ZM662.4 100.6 662.4 77.2 668.3 88.9ZM662.4 11.2 678.9 1.6 673.8 11.8ZM678.9 1.6 699.2 13.4 686.1 12.6ZM699.2 13.4 699.2 32.4 692.9 22.9ZM699.2 32.4 678.9 44.2 686.1 33.2ZM678.9 44.2 662.4 34.6 673.8 34ZM662.4 34.6 662.4 11.2 668.3 22.9Z" fill="#3a60a0" fill-opacity="0.5"/>
<path d="M489.6 154.9L490.3 144.3M489.6 154.9L498.5 160.8M489.6 154.9L480.1 159.7M489.6 88.9L490.3 78.3M489.6 88.9L498.5 94.8M489.6 88.9L480.1 93.7M508.7 121.9L508.1 111.3M508.7 121.9L518.2 126.7M508.7 121.9L499.8 127.8M546.8 121.9L547.4 111.3M546.8 121.9L555.7 127.8M546.8 121.9L537.3 126.7M565.9 154.9L565.2 144.3M565.9 154.9L575.4 159.7M565.9 154.9L557 160.8M604 154.9L604.6 144.3M604 154.9L612.8 160.8M604 154.9L594.4 159.7M489.6 22.9L490.3 12.3M489.6 22.9L498.5 28.8M489.6 22.9L480.1 27.7M508.7 55.9L508.1 45.3M508.7 55.9L518.2 60.7M508.7 55.9L499.8 61.8M546.8 55.9L547.4 45.3M546.8 55.9L555.7 61.8M546.8 55.9L537.3 60.7M565.9 88.9L565.2 78.3M565.9 88.9L575.4 93.7M565.9 88.9L557 94.8M604 88.9L604.6 78.3M604 88.9L612.8 94.8M604 88.9L594.4 93.7M623 121.9L622.4 111.3M623 121.9L632.5 126.7M623 121.9L614.1 127.8M661.1 121.9L661.8 111.3M661.1 121.9L670 127.8M661.1 121.9L651.6 126.7M680.2 154.9L679.5 144.3M680.2 154.9L689.7 159.7M680.2 154.9L671.3 160.8M565.9 22.9L565.2 12.3M565.9 22.9L575.4 27.7M565.9 22.9L557 28.8M604 22.9L604.6 12.3M604 22.9L612.8 28.8M604 22.9L594.4 27.7M623 55.9L622.4 45.3M623 55.9L632.5 60.7M623 55.9L614.1 61.8M661.1 55.9L661.8 45.3M661.1 55.9L670 61.8M661.1 55.9L651.6 60.7M680.2 88.9L679.5 78.3M680.2 88.9L689.7 93.7M680.2 88.9L671.3 94.8M680.2 22.9L679.5 12.3M680.2 22.9L689.7 27.7M680.2 22.9L671.3 28.8" stroke="#2d8fd8" stroke-width="1.1" fill="none"/>
<path d="M490.3 144.3L490.9 133.6M498.5 160.8L507.4 166.6M480.1 159.7L470.6 164.4M490.3 78.3L490.9 67.6M498.5 94.8L507.4 100.6M480.1 93.7L470.6 98.4M508.1 111.3L507.4 100.6M518.2 126.7L527.8 131.4M499.8 127.8L490.9 133.6M547.4 111.3L548.1 100.6M555.7 127.8L564.6 133.6M537.3 126.7L527.8 131.4M565.2 144.3L564.6 133.6M575.4 159.7L584.9 164.4M557 160.8L548.1 166.6M604.6 144.3L605.2 133.6M612.8 160.8L621.7 166.6M594.4 159.7L584.9 164.4M490.3 12.3L490.9 1.6M498.5 28.8L507.4 34.6M480.1 27.7L470.6 32.4M508.1 45.3L507.4 34.6M518.2 60.7L527.8 65.4M499.8 61.8L490.9 67.6M547.4 45.3L548.1 34.6M555.7 61.8L564.6 67.6M537.3 60.7L527.8 65.4M565.2 78.3L564.6 67.6M575.4 93.7L584.9 98.4M557 94.8L548.1 100.6M604.6 78.3L605.2 67.6M612.8 94.8L621.7 100.6M594.4 93.7L584.9 98.4M622.4 111.3L621.7 100.6M632.5 126.7L642.1 131.4M614.1 127.8L605.2 133.6M661.8 111.3L662.4 100.6M670 127.8L678.9 133.6M651.6 126.7L642.1 131.4M679.5 144.3L678.9 133.6M689.7 159.7L699.2 164.4M671.3 160.8L662.4 166.6M565.2 12.3L564.6 1.6M575.4 27.7L584.9 32.4M557 28.8L548.1 34.6M604.6 12.3L605.2 1.6M612.8 28.8L621.7 34.6M594.4 27.7L584.9 32.4M622.4 45.3L621.7 34.6M632.5 60.7L642.1 65.4M614.1 61.8L605.2 67.6M661.8 45.3L662.4 34.6M670 61.8L678.9 67.6M651.6 60.7L642.1 65.4M679.5 78.3L678.9 67.6M689.7 93.7L699.2 98.4M671.3 94.8L662.4 100.6M679.5 12.3L678.9 1.6M689.7 27.7L699.2 32.4M671.3 28.8L662.4 34.6" stroke="#a06a58" stroke-width="1.1" fill="none"/>
<path d="M489.6 154.9L480.1 150.1M489.6 154.9L498.5 149M489.6 154.9L490.3 165.5M489.6 88.9L480.1 84.1M489.6 88.9L498.5 83M489.6 88.9L490.3 99.5M508.7 121.9L499.8 116M508.7 121.9L518.2 117.1M508.7 121.9L508.1 132.5M546.8 121.9L537.3 117.1M546.8 121.9L555.7 116M546.8 121.9L547.4 132.5M565.9 154.9L557 149M565.9 154.9L575.4 150.1M565.9 154.9L565.2 165.5M604 154.9L594.4 150.1M604 154.9L612.8 149M604 154.9L604.6 165.5M489.6 22.9L480.1 18.1M489.6 22.9L498.5 17M489.6 22.9L490.3 33.5M508.7 55.9L499.8 50M508.7 55.9L518.2 51.1M508.7 55.9L508.1 66.5M546.8 55.9L537.3 51.1M546.8 55.9L555.7 50M546.8 55.9L547.4 66.5M565.9 88.9L557 83M565.9 88.9L575.4 84.1M565.9 88.9L565.2 99.5M604 88.9L594.4 84.1M604 88.9L612.8 83M604 88.9L604.6 99.5M623 121.9L614.1 116M623 121.9L632.5 117.1M623 121.9L622.4 132.5M661.1 121.9L651.6 117.1M661.1 121.9L670 116M661.1 121.9L661.8 132.5M680.2 154.9L671.3 149M680.2 154.9L689.7 150.1M680.2 154.9L679.5 165.5M565.9 22.9L557 17M565.9 22.9L575.4 18.1M565.9 22.9L565.2 33.5M604 22.9L594.4 18.1M604 22.9L612.8 17M604 22.9L604.6 33.5M623 55.9L614.1 50M623 55.9L632.5 51.1M623 55.9L622.4 66.5M661.1 55.9L651.6 51.1M661.1 55.9L670 50M661.1 55.9L661.8 66.5M680.2 88.9L671.3 83M680.2 88.9L689.7 84.1M680.2 88.9L679.5 99.5M680.2 22.9L671.3 17M680.2 22.9L689.7 18.1M680.2 22.9L679.5 33.5" stroke="#2d8fd8" stroke-width="1.1" fill="none"/>
<path d="M480.1 150.1L470.6 145.4M498.5 149L507.4 143.2M490.3 165.5L490.9 176.2M480.1 84.1L470.6 79.4M498.5 83L507.4 77.2M490.3 99.5L490.9 110.2M499.8 116L490.9 110.2M518.2 117.1L527.8 112.4M508.1 132.5L507.4 143.2M537.3 117.1L527.8 112.4M555.7 116L564.6 110.2M547.4 132.5L548.1 143.2M557 149L548.1 143.2M575.4 150.1L584.9 145.4M565.2 165.5L564.6 176.2M594.4 150.1L584.9 145.4M612.8 149L621.7 143.2M604.6 165.5L605.2 176.2M480.1 18.1L470.6 13.4M498.5 17L507.4 11.2M490.3 33.5L490.9 44.2M499.8 50L490.9 44.2M518.2 51.1L527.8 46.4M508.1 66.5L507.4 77.2M537.3 51.1L527.8 46.4M555.7 50L564.6 44.2M547.4 66.5L548.1 77.2M557 83L548.1 77.2M575.4 84.1L584.9 79.4M565.2 99.5L564.6 110.2M594.4 84.1L584.9 79.4M612.8 83L621.7 77.2M604.6 99.5L605.2 110.2M614.1 116L605.2 110.2M632.5 117.1L642.1 112.4M622.4 132.5L621.7 143.2M651.6 117.1L642.1 112.4M670 116L678.9 110.2M661.8 132.5L662.4 143.2M671.3 149L662.4 143.2M689.7 150.1L699.2 145.4M679.5 165.5L678.9 176.2M557 17L548.1 11.2M575.4 18.1L584.9 13.4M565.2 33.5L564.6 44.2M594.4 18.1L584.9 13.4M612.8 17L621.7 11.2M604.6 33.5L605.2 44.2M614.1 50L605.2 44.2M632.5 51.1L642.1 46.4M622.4 66.5L621.7 77.2M651.6 51.1L642.1 46.4M670 50L678.9 44.2M661.8 66.5L662.4 77.2M671.3 83L662.4 77.2M689.7 84.1L699.2 79.4M679.5 99.5L678.9 110.2M671.3 17L662.4 11.2M689.7 18.1L699.2 13.4M679.5 33.5L678.9 44.2" stroke="#eea07c" stroke-width="1.1" fill="none"/>
<g opacity="0.55">
<path d="M462.6 154.9L478.6 154.9M466.6 148L474.6 161.8M474.6 148L466.6 161.8M478.6 154.9L462.6 154.9M474.6 161.8L466.6 148M466.6 161.8L474.6 148M491.2 171.4L507.2 171.4M495.2 164.5L503.2 178.3M503.2 164.5L495.2 178.3M507.2 171.4L491.2 171.4M503.2 178.3L495.2 164.5M495.2 178.3L503.2 164.5M491.2 138.4L507.2 138.4M495.2 131.5L503.2 145.3M503.2 131.5L495.2 145.3M507.2 138.4L491.2 138.4M503.2 145.3L495.2 131.5M495.2 145.3L503.2 131.5M548.3 171.4L564.3 171.4M552.3 164.5L560.3 178.3M560.3 164.5L552.3 178.3M564.3 171.4L548.3 171.4M560.3 178.3L552.3 164.5M552.3 178.3L560.3 164.5M462.6 88.9L478.6 88.9M466.6 82L474.6 95.8M474.6 82L466.6 95.8M478.6 88.9L462.6 88.9M474.6 95.8L466.6 82M466.6 95.8L474.6 82M491.2 105.4L507.2 105.4M495.2 98.5L503.2 112.3M503.2 98.5L495.2 112.3M507.2 105.4L491.2 105.4M503.2 112.3L495.2 98.5M495.2 112.3L503.2 98.5M519.7 121.9L535.7 121.9M523.7 115L531.7 128.8M531.7 115L523.7 128.8M535.7 121.9L519.7 121.9M531.7 128.8L523.7 115M523.7 128.8L531.7 115M548.3 138.4L564.3 138.4M552.3 131.5L560.3 145.3M560.3 131.5L552.3 145.3M564.3 138.4L548.3 138.4M560.3 145.3L552.3 131.5M552.3 145.3L560.3 131.5M576.9 154.9L592.9 154.9M580.9 148L588.9 161.8M588.9 148L580.9 161.8M592.9 154.9L576.9 154.9M588.9 161.8L580.9 148M580.9 161.8L588.9 148M605.5 171.4L621.5 171.4M609.5 164.5L617.5 178.3M617.5 164.5L609.5 178.3M621.5 171.4L605.5 171.4M617.5 178.3L609.5 164.5M609.5 178.3L617.5 164.5M491.2 72.4L507.2 72.4M495.2 65.5L503.2 79.3M503.2 65.5L495.2 79.3M507.2 72.4L491.2 72.4M503.2 79.3L495.2 65.5M495.2 79.3L503.2 65.5M548.3 105.4L564.3 105.4M552.3 98.5L560.3 112.3M560.3 98.5L552.3 112.3M564.3 105.4L548.3 105.4M560.3 112.3L552.3 98.5M552.3 112.3L560.3 98.5M605.5 138.4L621.5 138.4M609.5 131.5L617.5 145.3M617.5 131.5L609.5 145.3M621.5 138.4L605.5 138.4M617.5 145.3L609.5 131.5M609.5 145.3L617.5 131.5M662.6 171.4L678.6 171.4M666.6 164.5L674.6 178.3M674.6 164.5L666.6 178.3M678.6 171.4L662.6 171.4M674.6 178.3L666.6 164.5M666.6 178.3L674.6 164.5M462.6 22.9L478.6 22.9M466.6 16L474.6 29.8M474.6 16L466.6 29.8M478.6 22.9L462.6 22.9M474.6 29.8L466.6 16M466.6 29.8L474.6 16M491.2 39.4L507.2 39.4M495.2 32.5L503.2 46.3M503.2 32.5L495.2 46.3M507.2 39.4L491.2 39.4M503.2 46.3L495.2 32.5M495.2 46.3L503.2 32.5M519.7 55.9L535.7 55.9M523.7 49L531.7 62.8M531.7 49L523.7 62.8M535.7 55.9L519.7 55.9M531.7 62.8L523.7 49M523.7 62.8L531.7 49M548.3 72.4L564.3 72.4M552.3 65.5L560.3 79.3M560.3 65.5L552.3 79.3M564.3 72.4L548.3 72.4M560.3 79.3L552.3 65.5M552.3 79.3L560.3 65.5M576.9 88.9L592.9 88.9M580.9 82L588.9 95.8M588.9 82L580.9 95.8M592.9 88.9L576.9 88.9M588.9 95.8L580.9 82M580.9 95.8L588.9 82M605.5 105.4L621.5 105.4M609.5 98.5L617.5 112.3M617.5 98.5L609.5 112.3M621.5 105.4L605.5 105.4M617.5 112.3L609.5 98.5M609.5 112.3L617.5 98.5M634.1 121.9L650.1 121.9M638.1 115L646.1 128.8M646.1 115L638.1 128.8M650.1 121.9L634.1 121.9M646.1 128.8L638.1 115M638.1 128.8L646.1 115M662.6 138.4L678.6 138.4M666.6 131.5L674.6 145.3M674.6 131.5L666.6 145.3M678.6 138.4L662.6 138.4M674.6 145.3L666.6 131.5M666.6 145.3L674.6 131.5M491.2 6.4L507.2 6.4M495.2 -0.5L503.2 13.3M503.2 -0.5L495.2 13.3M507.2 6.4L491.2 6.4M503.2 13.3L495.2 -0.5M495.2 13.3L503.2 -0.5M548.3 39.4L564.3 39.4M552.3 32.5L560.3 46.3M560.3 32.5L552.3 46.3M564.3 39.4L548.3 39.4M560.3 46.3L552.3 32.5M552.3 46.3L560.3 32.5M605.5 72.4L621.5 72.4M609.5 65.5L617.5 79.3M617.5 65.5L609.5 79.3M621.5 72.4L605.5 72.4M617.5 79.3L609.5 65.5M609.5 79.3L617.5 65.5M662.6 105.4L678.6 105.4M666.6 98.5L674.6 112.3M674.6 98.5L666.6 112.3M678.6 105.4L662.6 105.4M674.6 112.3L666.6 98.5M666.6 112.3L674.6 98.5M548.3 6.4L564.3 6.4M552.3 -0.5L560.3 13.3M560.3 -0.5L552.3 13.3M564.3 6.4L548.3 6.4M560.3 13.3L552.3 -0.5M552.3 13.3L560.3 -0.5M576.9 22.9L592.9 22.9M580.9 16L588.9 29.8M588.9 16L580.9 29.8M592.9 22.9L576.9 22.9M588.9 29.8L580.9 16M580.9 29.8L588.9 16M605.5 39.4L621.5 39.4M609.5 32.5L617.5 46.3M617.5 32.5L609.5 46.3M621.5 39.4L605.5 39.4M617.5 46.3L609.5 32.5M609.5 46.3L617.5 32.5M634.1 55.9L650.1 55.9M638.1 49L646.1 62.8M646.1 49L638.1 62.8M650.1 55.9L634.1 55.9M646.1 62.8L638.1 49M638.1 62.8L646.1 49M662.6 72.4L678.6 72.4M666.6 65.5L674.6 79.3M674.6 65.5L666.6 79.3M678.6 72.4L662.6 72.4M674.6 79.3L666.6 65.5M666.6 79.3L674.6 65.5M605.5 6.4L621.5 6.4M609.5 -0.5L617.5 13.3M617.5 -0.5L609.5 13.3M621.5 6.4L605.5 6.4M617.5 13.3L609.5 -0.5M609.5 13.3L617.5 -0.5M662.6 39.4L678.6 39.4M666.6 32.5L674.6 46.3M674.6 32.5L666.6 46.3M678.6 39.4L662.6 39.4M674.6 46.3L666.6 32.5M666.6 46.3L674.6 32.5M662.6 6.4L678.6 6.4M666.6 -0.5L674.6 13.3M674.6 -0.5L666.6 13.3M678.6 6.4L662.6 6.4M674.6 13.3L666.6 -0.5M666.6 13.3L674.6 -0.5" stroke="#5c3cb0" stroke-width="1.7" fill="none"/>
</g>
<circle cx="499.2" cy="138.4" r="2.7" fill="url(#gMnP)"/>
<circle cx="499.2" cy="105.4" r="2.7" fill="url(#gMnP)"/>
<circle cx="527.7" cy="121.9" r="2.7" fill="url(#gMnP)"/>
<circle cx="556.3" cy="138.4" r="2.7" fill="url(#gMnP)"/>
<circle cx="584.9" cy="154.9" r="2.7" fill="url(#gMnP)"/>
<circle cx="499.2" cy="72.4" r="2.7" fill="url(#gMnP)"/>
<circle cx="556.3" cy="105.4" r="2.7" fill="url(#gMnP)"/>
<circle cx="613.5" cy="138.4" r="2.7" fill="url(#gMnP)"/>
<circle cx="499.2" cy="39.4" r="2.7" fill="url(#gMnP)"/>
<circle cx="527.7" cy="55.9" r="2.7" fill="url(#gMnP)"/>
<circle cx="556.3" cy="72.4" r="2.7" fill="url(#gMnP)"/>
<circle cx="584.9" cy="88.9" r="2.7" fill="url(#gMnP)"/>
<circle cx="613.5" cy="105.4" r="2.7" fill="url(#gMnP)"/>
<circle cx="642.1" cy="121.9" r="2.7" fill="url(#gMnP)"/>
<circle cx="670.6" cy="138.4" r="2.7" fill="url(#gMnP)"/>
<circle cx="556.3" cy="39.4" r="2.7" fill="url(#gMnP)"/>
<circle cx="613.5" cy="72.4" r="2.7" fill="url(#gMnP)"/>
<circle cx="670.6" cy="105.4" r="2.7" fill="url(#gMnP)"/>
<circle cx="584.9" cy="22.9" r="2.7" fill="url(#gMnP)"/>
<circle cx="613.5" cy="39.4" r="2.7" fill="url(#gMnP)"/>
<circle cx="642.1" cy="55.9" r="2.7" fill="url(#gMnP)"/>
<circle cx="670.6" cy="72.4" r="2.7" fill="url(#gMnP)"/>
<circle cx="670.6" cy="39.4" r="2.7" fill="url(#gMnP)"/>
<circle cx="489.6" cy="121.9" r="2.1" fill="url(#gSe)"/>
<circle cx="546.8" cy="154.9" r="2.1" fill="url(#gSe)"/>
<circle cx="508.7" cy="154.9" r="2.1" fill="url(#gSe)"/>
<circle cx="518.2" cy="138.4" r="2.1" fill="url(#gSe)"/>
<circle cx="537.3" cy="138.4" r="2.1" fill="url(#gSe)"/>
<circle cx="489.6" cy="55.9" r="2.1" fill="url(#gSe)"/>
<circle cx="546.8" cy="88.9" r="2.1" fill="url(#gSe)"/>
<circle cx="537.3" cy="105.4" r="2.1" fill="url(#gSe)"/>
<circle cx="518.2" cy="105.4" r="2.1" fill="url(#gSe)"/>
<circle cx="508.7" cy="88.9" r="2.1" fill="url(#gSe)"/>
<circle cx="518.2" cy="72.4" r="2.1" fill="url(#gSe)"/>
<circle cx="537.3" cy="72.4" r="2.1" fill="url(#gSe)"/>
<circle cx="603.9" cy="121.9" r="2.1" fill="url(#gSe)"/>
<circle cx="594.4" cy="138.4" r="2.1" fill="url(#gSe)"/>
<circle cx="575.4" cy="138.4" r="2.1" fill="url(#gSe)"/>
<circle cx="565.9" cy="121.9" r="2.1" fill="url(#gSe)"/>
<circle cx="575.4" cy="105.4" r="2.1" fill="url(#gSe)"/>
<circle cx="594.4" cy="105.4" r="2.1" fill="url(#gSe)"/>
<circle cx="661.1" cy="154.9" r="2.1" fill="url(#gSe)"/>
<circle cx="623" cy="154.9" r="2.1" fill="url(#gSe)"/>
<circle cx="632.5" cy="138.4" r="2.1" fill="url(#gSe)"/>
<circle cx="651.6" cy="138.4" r="2.1" fill="url(#gSe)"/>
<circle cx="546.8" cy="22.9" r="2.1" fill="url(#gSe)"/>
<circle cx="537.3" cy="39.4" r="2.1" fill="url(#gSe)"/>
<circle cx="518.2" cy="39.4" r="2.1" fill="url(#gSe)"/>
<circle cx="508.7" cy="22.9" r="2.1" fill="url(#gSe)"/>
<circle cx="603.9" cy="55.9" r="2.1" fill="url(#gSe)"/>
<circle cx="594.4" cy="72.4" r="2.1" fill="url(#gSe)"/>
<circle cx="575.4" cy="72.4" r="2.1" fill="url(#gSe)"/>
<circle cx="565.9" cy="55.9" r="2.1" fill="url(#gSe)"/>
<circle cx="575.4" cy="39.4" r="2.1" fill="url(#gSe)"/>
<circle cx="594.4" cy="39.4" r="2.1" fill="url(#gSe)"/>
<circle cx="661.1" cy="88.9" r="2.1" fill="url(#gSe)"/>
<circle cx="651.6" cy="105.4" r="2.1" fill="url(#gSe)"/>
<circle cx="632.5" cy="105.4" r="2.1" fill="url(#gSe)"/>
<circle cx="623" cy="88.9" r="2.1" fill="url(#gSe)"/>
<circle cx="632.5" cy="72.4" r="2.1" fill="url(#gSe)"/>
<circle cx="651.6" cy="72.4" r="2.1" fill="url(#gSe)"/>
<circle cx="680.2" cy="121.9" r="2.1" fill="url(#gSe)"/>
<circle cx="661.1" cy="22.9" r="2.1" fill="url(#gSe)"/>
<circle cx="651.6" cy="39.4" r="2.1" fill="url(#gSe)"/>
<circle cx="632.5" cy="39.4" r="2.1" fill="url(#gSe)"/>
<circle cx="623" cy="22.9" r="2.1" fill="url(#gSe)"/>
<circle cx="680.2" cy="55.9" r="2.1" fill="url(#gSe)"/>
<circle cx="490.9" cy="133.6" r="2.0" fill="url(#gI)"/>
<circle cx="507.4" cy="143.2" r="2.0" fill="url(#gI)"/>
<circle cx="490.9" cy="67.6" r="2.0" fill="url(#gI)"/>
<circle cx="507.4" cy="77.2" r="2.0" fill="url(#gI)"/>
<circle cx="507.4" cy="100.6" r="2.0" fill="url(#gI)"/>
<circle cx="490.9" cy="110.2" r="2.0" fill="url(#gI)"/>
<circle cx="527.8" cy="112.4" r="2.0" fill="url(#gI)"/>
<circle cx="527.8" cy="131.4" r="2.0" fill="url(#gI)"/>
<circle cx="548.1" cy="100.6" r="2.0" fill="url(#gI)"/>
<circle cx="564.6" cy="110.2" r="2.0" fill="url(#gI)"/>
<circle cx="564.6" cy="133.6" r="2.0" fill="url(#gI)"/>
<circle cx="548.1" cy="143.2" r="2.0" fill="url(#gI)"/>
<circle cx="584.9" cy="145.4" r="2.0" fill="url(#gI)"/>
<circle cx="605.2" cy="133.6" r="2.0" fill="url(#gI)"/>
<circle cx="621.7" cy="143.2" r="2.0" fill="url(#gI)"/>
<circle cx="507.4" cy="34.6" r="2.0" fill="url(#gI)"/>
<circle cx="490.9" cy="44.2" r="2.0" fill="url(#gI)"/>
<circle cx="527.8" cy="46.4" r="2.0" fill="url(#gI)"/>
<circle cx="527.8" cy="65.4" r="2.0" fill="url(#gI)"/>
<circle cx="548.1" cy="34.6" r="2.0" fill="url(#gI)"/>
<circle cx="564.6" cy="44.2" r="2.0" fill="url(#gI)"/>
<circle cx="564.6" cy="67.6" r="2.0" fill="url(#gI)"/>
<circle cx="548.1" cy="77.2" r="2.0" fill="url(#gI)"/>
<circle cx="584.9" cy="79.4" r="2.0" fill="url(#gI)"/>
<circle cx="584.9" cy="98.4" r="2.0" fill="url(#gI)"/>
<circle cx="605.2" cy="67.6" r="2.0" fill="url(#gI)"/>
<circle cx="621.7" cy="77.2" r="2.0" fill="url(#gI)"/>
<circle cx="621.7" cy="100.6" r="2.0" fill="url(#gI)"/>
<circle cx="605.2" cy="110.2" r="2.0" fill="url(#gI)"/>
<circle cx="642.1" cy="112.4" r="2.0" fill="url(#gI)"/>
<circle cx="642.1" cy="131.4" r="2.0" fill="url(#gI)"/>
<circle cx="662.4" cy="100.6" r="2.0" fill="url(#gI)"/>
<circle cx="678.9" cy="110.2" r="2.0" fill="url(#gI)"/>
<circle cx="678.9" cy="133.6" r="2.0" fill="url(#gI)"/>
<circle cx="662.4" cy="143.2" r="2.0" fill="url(#gI)"/>
<circle cx="584.9" cy="32.4" r="2.0" fill="url(#gI)"/>
<circle cx="621.7" cy="34.6" r="2.0" fill="url(#gI)"/>
<circle cx="605.2" cy="44.2" r="2.0" fill="url(#gI)"/>
<circle cx="642.1" cy="46.4" r="2.0" fill="url(#gI)"/>
<circle cx="642.1" cy="65.4" r="2.0" fill="url(#gI)"/>
<circle cx="662.4" cy="34.6" r="2.0" fill="url(#gI)"/>
<circle cx="678.9" cy="44.2" r="2.0" fill="url(#gI)"/>
<circle cx="678.9" cy="67.6" r="2.0" fill="url(#gI)"/>
<circle cx="662.4" cy="77.2" r="2.0" fill="url(#gI)"/>
<circle cx="489.6" cy="154.9" r="3.0" fill="url(#gCr)"/>
<circle cx="489.6" cy="88.9" r="3.0" fill="url(#gCr)"/>
<circle cx="508.7" cy="121.9" r="3.0" fill="url(#gCr)"/>
<circle cx="546.8" cy="121.9" r="3.0" fill="url(#gCr)"/>
<circle cx="565.9" cy="154.9" r="3.0" fill="url(#gCr)"/>
<circle cx="604" cy="154.9" r="3.0" fill="url(#gCr)"/>
<circle cx="489.6" cy="22.9" r="3.0" fill="url(#gCr)"/>
<circle cx="508.7" cy="55.9" r="3.0" fill="url(#gCr)"/>
<circle cx="546.8" cy="55.9" r="3.0" fill="url(#gCr)"/>
<circle cx="565.9" cy="88.9" r="3.0" fill="url(#gCr)"/>
<circle cx="604" cy="88.9" r="3.0" fill="url(#gCr)"/>
<circle cx="623" cy="121.9" r="3.0" fill="url(#gCr)"/>
<circle cx="661.1" cy="121.9" r="3.0" fill="url(#gCr)"/>
<circle cx="680.2" cy="154.9" r="3.0" fill="url(#gCr)"/>
<circle cx="565.9" cy="22.9" r="3.0" fill="url(#gCr)"/>
<circle cx="604" cy="22.9" r="3.0" fill="url(#gCr)"/>
<circle cx="623" cy="55.9" r="3.0" fill="url(#gCr)"/>
<circle cx="661.1" cy="55.9" r="3.0" fill="url(#gCr)"/>
<circle cx="680.2" cy="88.9" r="3.0" fill="url(#gCr)"/>
<circle cx="680.2" cy="22.9" r="3.0" fill="url(#gCr)"/>
</g>
<polygon points="528.1,90 584.5,57.1 640.3,89.6 584.2,123.4" fill="none" stroke="#000" stroke-width="1.4" stroke-dasharray="3.2,2.4"/>
<text x="529.3" y="17.2" font-size="22" text-anchor="start" font-weight="normal" font-style="normal" fill="#000" letter-spacing="0.25">CrI<tspan font-size="15.5" dy="5.3">3</tspan><tspan dy="-5.3">/MnSe</tspan><tspan font-size="15.5" dy="5.3">2</tspan></text>
<text x="465" y="18.4" font-size="25" text-anchor="start" font-weight="bold" font-style="normal" fill="#000" >c</text>
<g mask="url(#mCs)">
<path d="M490.1 187L480.7 179.9M490.1 187L480.7 193.9M490.1 187L490.1 179.9M490.1 187L490.1 193.9M490.1 187L499 179.9M490.1 187L499 193.9M508.9 187L499.5 179.9M508.9 187L499.5 193.9M508.9 187L508.4 179.9M508.9 187L508.4 193.9M508.9 187L518.3 179.9M508.9 187L518.3 193.9M546.6 187L537.2 179.9M546.6 187L537.2 193.9M546.6 187L546.6 179.9M546.6 187L546.6 193.9M546.6 187L555.5 179.9M546.6 187L555.5 193.9M565.4 187L556 179.9M565.4 187L556 193.9M565.4 187L564.9 179.9M565.4 187L564.9 193.9M565.4 187L574.8 179.9M565.4 187L574.8 193.9M603.1 187L593.7 179.9M603.1 187L593.7 193.9M603.1 187L603.1 179.9M603.1 187L603.1 193.9M603.1 187L612 179.9M603.1 187L612 193.9M621.9 187L612.5 179.9M621.9 187L612.5 193.9M621.9 187L621.4 179.9M621.9 187L621.4 193.9M621.9 187L631.3 179.9M621.9 187L631.3 193.9M659.6 187L650.2 179.9M659.6 187L650.2 193.9M659.6 187L659.6 179.9M659.6 187L659.6 193.9M659.6 187L668.5 179.9M659.6 187L668.5 193.9M678.4 187L669 179.9M678.4 187L669 193.9M678.4 187L677.9 179.9M678.4 187L677.9 193.9M678.4 187L687.8 179.9M678.4 187L687.8 193.9" stroke="#2a8fd6" stroke-width="1.4" fill="none"/>
<path d="M480.7 179.9L471.3 172.8M480.7 193.9L471.3 200.8M490.1 179.9L490.1 172.8M490.1 193.9L490.1 200.8M499 179.9L507.9 172.8M499 193.9L507.9 200.8M499.5 179.9L490.1 172.8M499.5 193.9L490.1 200.8M508.4 179.9L507.9 172.8M508.4 193.9L507.9 200.8M518.3 179.9L527.8 172.8M518.3 193.9L527.8 200.8M537.2 179.9L527.8 172.8M537.2 193.9L527.8 200.8M546.6 179.9L546.6 172.8M546.6 193.9L546.6 200.8M555.5 179.9L564.4 172.8M555.5 193.9L564.4 200.8M556 179.9L546.6 172.8M556 193.9L546.6 200.8M564.9 179.9L564.4 172.8M564.9 193.9L564.4 200.8M574.8 179.9L584.3 172.8M574.8 193.9L584.3 200.8M593.7 179.9L584.3 172.8M593.7 193.9L584.3 200.8M603.1 179.9L603.1 172.8M603.1 193.9L603.1 200.8M612 179.9L620.9 172.8M612 193.9L620.9 200.8M612.5 179.9L603.1 172.8M612.5 193.9L603.1 200.8M621.4 179.9L620.9 172.8M621.4 193.9L620.9 200.8M631.3 179.9L640.8 172.8M631.3 193.9L640.8 200.8M650.2 179.9L640.8 172.8M650.2 193.9L640.8 200.8M659.6 179.9L659.6 172.8M659.6 193.9L659.6 200.8M668.5 179.9L677.4 172.8M668.5 193.9L677.4 200.8M669 179.9L659.6 172.8M669 193.9L659.6 200.8M677.9 179.9L677.4 172.8M677.9 193.9L677.4 200.8M687.8 179.9L697.3 172.8M687.8 193.9L697.3 200.8" stroke="#e8906a" stroke-width="1.4" fill="none"/>
<circle cx="471.3" cy="172.8" r="2.3" fill="url(#gI)"/>
<circle cx="490.1" cy="172.8" r="2.3" fill="url(#gI)"/>
<circle cx="507.9" cy="172.8" r="2.3" fill="url(#gI)"/>
<circle cx="527.8" cy="172.8" r="2.3" fill="url(#gI)"/>
<circle cx="546.6" cy="172.8" r="2.3" fill="url(#gI)"/>
<circle cx="564.4" cy="172.8" r="2.3" fill="url(#gI)"/>
<circle cx="584.3" cy="172.8" r="2.3" fill="url(#gI)"/>
<circle cx="603.1" cy="172.8" r="2.3" fill="url(#gI)"/>
<circle cx="620.9" cy="172.8" r="2.3" fill="url(#gI)"/>
<circle cx="640.8" cy="172.8" r="2.3" fill="url(#gI)"/>
<circle cx="659.6" cy="172.8" r="2.3" fill="url(#gI)"/>
<circle cx="677.4" cy="172.8" r="2.3" fill="url(#gI)"/>
<circle cx="697.3" cy="172.8" r="2.3" fill="url(#gI)"/>
<circle cx="471.3" cy="200.8" r="2.3" fill="url(#gI)"/>
<circle cx="490.1" cy="200.8" r="2.3" fill="url(#gI)"/>
<circle cx="507.9" cy="200.8" r="2.3" fill="url(#gI)"/>
<circle cx="527.8" cy="200.8" r="2.3" fill="url(#gI)"/>
<circle cx="546.6" cy="200.8" r="2.3" fill="url(#gI)"/>
<circle cx="564.4" cy="200.8" r="2.3" fill="url(#gI)"/>
<circle cx="584.3" cy="200.8" r="2.3" fill="url(#gI)"/>
<circle cx="603.1" cy="200.8" r="2.3" fill="url(#gI)"/>
<circle cx="620.9" cy="200.8" r="2.3" fill="url(#gI)"/>
<circle cx="640.8" cy="200.8" r="2.3" fill="url(#gI)"/>
<circle cx="659.6" cy="200.8" r="2.3" fill="url(#gI)"/>
<circle cx="677.4" cy="200.8" r="2.3" fill="url(#gI)"/>
<circle cx="697.3" cy="200.8" r="2.3" fill="url(#gI)"/>
<circle cx="490.1" cy="187" r="2.8" fill="url(#gCr)"/>
<circle cx="508.9" cy="187" r="2.8" fill="url(#gCr)"/>
<circle cx="546.6" cy="187" r="2.8" fill="url(#gCr)"/>
<circle cx="565.4" cy="187" r="2.8" fill="url(#gCr)"/>
<circle cx="603.1" cy="187" r="2.8" fill="url(#gCr)"/>
<circle cx="621.9" cy="187" r="2.8" fill="url(#gCr)"/>
<circle cx="659.6" cy="187" r="2.8" fill="url(#gCr)"/>
<circle cx="678.4" cy="187" r="2.8" fill="url(#gCr)"/>
</g>
<g mask="url(#mCs2)">
<path d="M471.2 243.5L476 237.2M471.2 243.5L461.9 237.2M471.2 243.5L466.5 250.2M471.2 243.5L480.6 250.2M499.4 243.5L504.2 237.2M499.4 243.5L490.1 237.2M499.4 243.5L494.8 250.2M499.4 243.5L508.8 250.2M527.6 243.5L532.4 237.2M527.6 243.5L518.3 237.2M527.6 243.5L523 250.2M527.6 243.5L537 250.2M555.8 243.5L560.6 237.2M555.8 243.5L546.5 237.2M555.8 243.5L551.1 250.2M555.8 243.5L565.2 250.2M584 243.5L588.8 237.2M584 243.5L574.7 237.2M584 243.5L579.4 250.2M584 243.5L593.5 250.2M612.2 243.5L617 237.2M612.2 243.5L602.9 237.2M612.2 243.5L607.5 250.2M612.2 243.5L621.6 250.2M640.4 243.5L645.2 237.2M640.4 243.5L631.1 237.2M640.4 243.5L635.8 250.2M640.4 243.5L649.8 250.2M668.6 243.5L673.4 237.2M668.6 243.5L659.3 237.2M668.6 243.5L663.9 250.2M668.6 243.5L678 250.2M696.8 243.5L701.6 237.2M696.8 243.5L687.5 237.2M696.8 243.5L692.1 250.2M696.8 243.5L706.2 250.2" stroke="#e040d0" stroke-width="1.5" fill="none"/>
<path d="M476 237.2L480.8 230.9M461.9 237.2L452.6 230.9M466.5 250.2L461.9 256.9M480.6 250.2L490.1 256.9M504.2 237.2L509 230.9M490.1 237.2L480.8 230.9M494.8 250.2L490.1 256.9M508.8 250.2L518.3 256.9M532.4 237.2L537.2 230.9M518.3 237.2L509 230.9M523 250.2L518.3 256.9M537 250.2L546.5 256.9M560.6 237.2L565.4 230.9M546.5 237.2L537.2 230.9M551.1 250.2L546.5 256.9M565.2 250.2L574.7 256.9M588.8 237.2L593.6 230.9M574.7 237.2L565.4 230.9M579.4 250.2L574.7 256.9M593.5 250.2L602.9 256.9M617 237.2L621.8 230.9M602.9 237.2L593.6 230.9M607.5 250.2L602.9 256.9M621.6 250.2L631.1 256.9M645.2 237.2L650 230.9M631.1 237.2L621.8 230.9M635.8 250.2L631.1 256.9M649.8 250.2L659.3 256.9M673.4 237.2L678.2 230.9M659.3 237.2L650 230.9M663.9 250.2L659.3 256.9M678 250.2L687.5 256.9M701.6 237.2L706.4 230.9M687.5 237.2L678.2 230.9M692.1 250.2L687.5 256.9M706.2 250.2L715.7 256.9" stroke="#e0e060" stroke-width="1.5" fill="none"/>
<circle cx="480.8" cy="230.9" r="2.5" fill="url(#gSe)"/>
<circle cx="509" cy="230.9" r="2.5" fill="url(#gSe)"/>
<circle cx="537.2" cy="230.9" r="2.5" fill="url(#gSe)"/>
<circle cx="565.4" cy="230.9" r="2.5" fill="url(#gSe)"/>
<circle cx="593.6" cy="230.9" r="2.5" fill="url(#gSe)"/>
<circle cx="621.8" cy="230.9" r="2.5" fill="url(#gSe)"/>
<circle cx="650" cy="230.9" r="2.5" fill="url(#gSe)"/>
<circle cx="678.2" cy="230.9" r="2.5" fill="url(#gSe)"/>
<circle cx="706.4" cy="230.9" r="2.5" fill="url(#gSe)"/>
<circle cx="461.9" cy="256.9" r="2.5" fill="url(#gSe)"/>
<circle cx="490.1" cy="256.9" r="2.5" fill="url(#gSe)"/>
<circle cx="518.3" cy="256.9" r="2.5" fill="url(#gSe)"/>
<circle cx="546.5" cy="256.9" r="2.5" fill="url(#gSe)"/>
<circle cx="574.7" cy="256.9" r="2.5" fill="url(#gSe)"/>
<circle cx="602.9" cy="256.9" r="2.5" fill="url(#gSe)"/>
<circle cx="631.1" cy="256.9" r="2.5" fill="url(#gSe)"/>
<circle cx="659.3" cy="256.9" r="2.5" fill="url(#gSe)"/>
<circle cx="687.5" cy="256.9" r="2.5" fill="url(#gSe)"/>
<circle cx="471.2" cy="243.5" r="3.0" fill="url(#gMn)"/>
<circle cx="499.4" cy="243.5" r="3.0" fill="url(#gMn)"/>
<circle cx="527.6" cy="243.5" r="3.0" fill="url(#gMn)"/>
<circle cx="555.8" cy="243.5" r="3.0" fill="url(#gMn)"/>
<circle cx="584" cy="243.5" r="3.0" fill="url(#gMn)"/>
<circle cx="612.2" cy="243.5" r="3.0" fill="url(#gMn)"/>
<circle cx="640.4" cy="243.5" r="3.0" fill="url(#gMn)"/>
<circle cx="668.6" cy="243.5" r="3.0" fill="url(#gMn)"/>
<circle cx="696.8" cy="243.5" r="3.0" fill="url(#gMn)"/>
</g>
<line x1="564.9" y1="188" x2="564.9" y2="230" stroke="#000" stroke-width="1.5" stroke-dasharray="1.3,1.2"/>
<line x1="602.5" y1="188" x2="602.5" y2="256.5" stroke="#000" stroke-width="1.5" stroke-dasharray="1.3,1.2"/>
<rect x="398" y="327" width="84" height="50" fill="#fff"/>
<clipPath id="cei2"><rect x="399.5" y="326" width="81" height="52"/></clipPath>
<g clip-path="url(#cei2)">
<path d="M393.7 337.7L397.9 334.1M393.7 337.7L397.9 341.2M402.2 337.7L402.2 334.1M402.2 337.7L402.2 341.2M402.2 337.7L406.8 334.1M402.2 337.7L406.8 341.2M421.3 337.7L416.4 334.1M421.3 337.7L416.4 341.2M421.3 337.7L421.3 334.1M421.3 337.7L421.3 341.2M421.3 337.7L425.6 334.1M421.3 337.7L425.6 341.2M429.8 337.7L425.6 334.1M429.8 337.7L425.6 341.2M429.8 337.7L429.8 334.1M429.8 337.7L429.8 341.2M429.8 337.7L434.6 334.1M429.8 337.7L434.6 341.2M448.9 337.7L444.1 334.1M448.9 337.7L444.1 341.2M448.9 337.7L448.9 334.1M448.9 337.7L448.9 341.2M448.9 337.7L453.1 334.1M448.9 337.7L453.1 341.2M457.4 337.7L453.1 334.1M457.4 337.7L453.1 341.2M457.4 337.7L457.4 334.1M457.4 337.7L457.4 341.2M457.4 337.7L462.2 334.1M457.4 337.7L462.2 341.2M476.7 337.7L471.9 334.1M476.7 337.7L471.9 341.2M476.7 337.7L476.7 334.1M476.7 337.7L476.7 341.2M485.2 337.7L480.9 334.1M485.2 337.7L480.9 341.2" stroke="#2a8fd6" stroke-width="0.9" fill="none"/>
<path d="M397.9 334.1L402.2 330.5M397.9 341.2L402.2 344.7M402.2 334.1L402.2 330.5M402.2 341.2L402.2 344.7M406.8 334.1L411.4 330.5M406.8 341.2L411.4 344.7M416.4 334.1L411.4 330.5M416.4 341.2L411.4 344.7M421.3 334.1L421.3 330.5M421.3 341.2L421.3 344.7M425.6 334.1L429.8 330.5M425.6 341.2L429.8 344.7M425.6 334.1L421.3 330.5M425.6 341.2L421.3 344.7M429.8 334.1L429.8 330.5M429.8 341.2L429.8 344.7M434.6 334.1L439.4 330.5M434.6 341.2L439.4 344.7M444.1 334.1L439.4 330.5M444.1 341.2L439.4 344.7M448.9 334.1L448.9 330.5M448.9 341.2L448.9 344.7M453.1 334.1L457.4 330.5M453.1 341.2L457.4 344.7M453.1 334.1L448.9 330.5M453.1 341.2L448.9 344.7M457.4 334.1L457.4 330.5M457.4 341.2L457.4 344.7M462.2 334.1L467 330.5M462.2 341.2L467 344.7M471.9 334.1L467 330.5M471.9 341.2L467 344.7M476.7 334.1L476.7 330.5M476.7 341.2L476.7 344.7M480.9 334.1L476.7 330.5M480.9 341.2L476.7 344.7" stroke="#e8906a" stroke-width="0.9" fill="none"/>
<circle cx="402.2" cy="330.5" r="1.3" fill="url(#gI)"/>
<circle cx="411.4" cy="330.5" r="1.3" fill="url(#gI)"/>
<circle cx="421.3" cy="330.5" r="1.3" fill="url(#gI)"/>
<circle cx="429.8" cy="330.5" r="1.3" fill="url(#gI)"/>
<circle cx="439.4" cy="330.5" r="1.3" fill="url(#gI)"/>
<circle cx="448.9" cy="330.5" r="1.3" fill="url(#gI)"/>
<circle cx="457.4" cy="330.5" r="1.3" fill="url(#gI)"/>
<circle cx="467" cy="330.5" r="1.3" fill="url(#gI)"/>
<circle cx="476.7" cy="330.5" r="1.3" fill="url(#gI)"/>
<circle cx="402.2" cy="344.7" r="1.3" fill="url(#gI)"/>
<circle cx="411.4" cy="344.7" r="1.3" fill="url(#gI)"/>
<circle cx="421.3" cy="344.7" r="1.3" fill="url(#gI)"/>
<circle cx="429.8" cy="344.7" r="1.3" fill="url(#gI)"/>
<circle cx="439.4" cy="344.7" r="1.3" fill="url(#gI)"/>
<circle cx="448.9" cy="344.7" r="1.3" fill="url(#gI)"/>
<circle cx="457.4" cy="344.7" r="1.3" fill="url(#gI)"/>
<circle cx="467" cy="344.7" r="1.3" fill="url(#gI)"/>
<circle cx="476.7" cy="344.7" r="1.3" fill="url(#gI)"/>
</g>
<clipPath id="cei"><rect x="399.5" y="326" width="81" height="52"/></clipPath>
<g clip-path="url(#cei)">
<path d="M383.8 366.6L386.1 363.2M383.8 366.6L379.1 363.2M383.8 366.6L381.5 370M383.8 366.6L388.4 370M397.7 366.6L399.9 363.2M397.7 366.6L393 363.2M397.7 366.6L395.4 370M397.7 366.6L402.3 370M411.6 366.6L413.8 363.2M411.6 366.6L406.9 363.2M411.6 366.6L409.2 370M411.6 366.6L416.2 370M425.5 366.6L427.8 363.2M425.5 366.6L420.8 363.2M425.5 366.6L423.1 370M425.5 366.6L430.1 370M439.4 366.6L441.6 363.2M439.4 366.6L434.7 363.2M439.4 366.6L437 370M439.4 366.6L444 370M453.3 366.6L455.6 363.2M453.3 366.6L448.6 363.2M453.3 366.6L451 370M453.3 366.6L457.9 370M467.2 366.6L469.4 363.2M467.2 366.6L462.5 363.2M467.2 366.6L464.9 370M467.2 366.6L471.8 370M481.1 366.6L483.4 363.2M481.1 366.6L476.4 363.2M481.1 366.6L478.8 370M481.1 366.6L485.7 370" stroke="#e040e0" stroke-width="0.9" fill="none"/>
<path d="M386.1 363.2L388.3 359.9M379.1 363.2L374.4 359.9M381.5 370L379.1 373.4M388.4 370L393 373.4M399.9 363.2L402.2 359.9M393 363.2L388.3 359.9M395.4 370L393 373.4M402.3 370L406.9 373.4M413.8 363.2L416.1 359.9M406.9 363.2L402.2 359.9M409.2 370L406.9 373.4M416.2 370L420.8 373.4M427.8 363.2L430 359.9M420.8 363.2L416.1 359.9M423.1 370L420.8 373.4M430.1 370L434.7 373.4M441.6 363.2L443.9 359.9M434.7 363.2L430 359.9M437 370L434.7 373.4M444 370L448.6 373.4M455.6 363.2L457.8 359.9M448.6 363.2L443.9 359.9M451 370L448.6 373.4M457.9 370L462.5 373.4M469.4 363.2L471.7 359.9M462.5 363.2L457.8 359.9M464.9 370L462.5 373.4M471.8 370L476.4 373.4M483.4 363.2L485.6 359.9M476.4 363.2L471.7 359.9M478.8 370L476.4 373.4M485.7 370L490.3 373.4" stroke="#d8d840" stroke-width="0.9" fill="none"/>
<circle cx="388.3" cy="359.9" r="1.6" fill="url(#gSe)"/>
<circle cx="402.2" cy="359.9" r="1.6" fill="url(#gSe)"/>
<circle cx="416.1" cy="359.9" r="1.6" fill="url(#gSe)"/>
<circle cx="430" cy="359.9" r="1.6" fill="url(#gSe)"/>
<circle cx="443.9" cy="359.9" r="1.6" fill="url(#gSe)"/>
<circle cx="457.8" cy="359.9" r="1.6" fill="url(#gSe)"/>
<circle cx="471.7" cy="359.9" r="1.6" fill="url(#gSe)"/>
<circle cx="485.6" cy="359.9" r="1.6" fill="url(#gSe)"/>
<circle cx="393" cy="373.4" r="1.6" fill="url(#gSe)"/>
<circle cx="406.9" cy="373.4" r="1.6" fill="url(#gSe)"/>
<circle cx="420.8" cy="373.4" r="1.6" fill="url(#gSe)"/>
<circle cx="434.7" cy="373.4" r="1.6" fill="url(#gSe)"/>
<circle cx="448.6" cy="373.4" r="1.6" fill="url(#gSe)"/>
<circle cx="462.5" cy="373.4" r="1.6" fill="url(#gSe)"/>
<circle cx="476.4" cy="373.4" r="1.6" fill="url(#gSe)"/>
<circle cx="490.3" cy="373.4" r="1.6" fill="url(#gSe)"/>
</g>
<line x1="439.7" y1="322" x2="439.7" y2="378" stroke="#111" stroke-width="1" stroke-dasharray="3,2"/>
<line x1="421.3" y1="377.6" x2="477.5" y2="344.8" stroke="#222" stroke-width="1" stroke-dasharray="3,2"/>
<path d="M439.7,354.8 Q444,360 448.5,359" fill="none" stroke="#222" stroke-width="0.8"/>
<text x="444.8" y="355" font-size="12" font-style="italic">θ</text>
<line x1="403.0" y1="346.2" x2="403.0" y2="334" stroke="#7a2020" stroke-opacity="0.35" stroke-width="2.4"/>
<line x1="402.2" y1="345.6" x2="402.2" y2="333.5" stroke="#f01c1c" stroke-width="2.2"/>
<polygon points="402.2,328.8 399.3,334.6 405.09999999999997,334.6" fill="#f01c1c"/>
<line x1="422.1" y1="346.2" x2="422.1" y2="334" stroke="#7a2020" stroke-opacity="0.35" stroke-width="2.4"/>
<line x1="421.3" y1="345.6" x2="421.3" y2="333.5" stroke="#f01c1c" stroke-width="2.2"/>
<polygon points="421.3,328.8 418.40000000000003,334.6 424.2,334.6" fill="#f01c1c"/>
<line x1="430.6" y1="346.2" x2="430.6" y2="334" stroke="#7a2020" stroke-opacity="0.35" stroke-width="2.4"/>
<line x1="429.8" y1="345.6" x2="429.8" y2="333.5" stroke="#f01c1c" stroke-width="2.2"/>
<polygon points="429.8,328.8 426.90000000000003,334.6 432.7,334.6" fill="#f01c1c"/>
<line x1="449.7" y1="346.2" x2="449.7" y2="334" stroke="#7a2020" stroke-opacity="0.35" stroke-width="2.4"/>
<line x1="448.9" y1="345.6" x2="448.9" y2="333.5" stroke="#f01c1c" stroke-width="2.2"/>
<polygon points="448.9,328.8 446.0,334.6 451.79999999999995,334.6" fill="#f01c1c"/>
<line x1="458.2" y1="346.2" x2="458.2" y2="334" stroke="#7a2020" stroke-opacity="0.35" stroke-width="2.4"/>
<line x1="457.4" y1="345.6" x2="457.4" y2="333.5" stroke="#f01c1c" stroke-width="2.2"/>
<polygon points="457.4,328.8 454.5,334.6 460.29999999999995,334.6" fill="#f01c1c"/>
<line x1="477.5" y1="346.2" x2="477.5" y2="334" stroke="#7a2020" stroke-opacity="0.35" stroke-width="2.4"/>
<line x1="476.7" y1="345.6" x2="476.7" y2="333.5" stroke="#f01c1c" stroke-width="2.2"/>
<polygon points="476.7,328.8 473.8,334.6 479.59999999999997,334.6" fill="#f01c1c"/>
<line x1="406.1" y1="370.6" x2="415.77" y2="365.33" stroke="#7a2020" stroke-opacity="0.35" stroke-width="2.6"/>
<line x1="405.5" y1="369.7" x2="415.17" y2="364.43" stroke="#f01c1c" stroke-width="2.4"/>
<polygon points="420,361.8 416.61,367.07 413.74,361.8" fill="#f01c1c"/>
<line x1="419.90000000000003" y1="370.6" x2="429.57" y2="365.33" stroke="#7a2020" stroke-opacity="0.35" stroke-width="2.6"/>
<line x1="419.3" y1="369.7" x2="428.97" y2="364.43" stroke="#f01c1c" stroke-width="2.4"/>
<polygon points="433.8,361.8 430.41,367.07 427.54,361.8" fill="#f01c1c"/>
<line x1="433.70000000000005" y1="370.6" x2="443.37" y2="365.33" stroke="#7a2020" stroke-opacity="0.35" stroke-width="2.6"/>
<line x1="433.1" y1="369.7" x2="442.77" y2="364.43" stroke="#f01c1c" stroke-width="2.4"/>
<polygon points="447.6,361.8 444.21,367.07 441.34,361.8" fill="#f01c1c"/>
<line x1="448.20000000000005" y1="370.6" x2="457.87" y2="365.33" stroke="#7a2020" stroke-opacity="0.35" stroke-width="2.6"/>
<line x1="447.6" y1="369.7" x2="457.27" y2="364.43" stroke="#f01c1c" stroke-width="2.4"/>
<polygon points="462.1,361.8 458.71,367.07 455.84,361.8" fill="#f01c1c"/>
<line x1="462.0" y1="370.6" x2="471.67" y2="365.33" stroke="#7a2020" stroke-opacity="0.35" stroke-width="2.6"/>
<line x1="461.4" y1="369.7" x2="471.07" y2="364.43" stroke="#f01c1c" stroke-width="2.4"/>
<polygon points="475.9,361.8 472.51,367.07 469.64,361.8" fill="#f01c1c"/>
<g><clipPath id="cfi"><rect x="518.5" y="455" width="78" height="55"/></clipPath></g>
<g clip-path="url(#cfi)">
<path d="M511.7 470.6L516.2 467M511.7 470.6L516.2 474.1M520.8 470.6L520.8 467M520.8 470.6L520.8 474.1M520.8 470.6L525.5 467M520.8 470.6L525.5 474.1M539.5 470.6L534.8 467M539.5 470.6L534.8 474.1M539.5 470.6L539.6 467M539.5 470.6L539.6 474.1M539.5 470.6L543.6 467M539.5 470.6L543.6 474.1M548.6 470.6L544.2 467M548.6 470.6L544.2 474.1M548.6 470.6L548.2 467M548.6 470.6L548.2 474.1M548.6 470.6L553 467M548.6 470.6L553 474.1M566.8 470.6L562.1 467M566.8 470.6L562.1 474.1M566.8 470.6L567 467M566.8 470.6L567 474.1M566.8 470.6L571 467M566.8 470.6L571 474.1M575.9 470.6L571.5 467M575.9 470.6L571.5 474.1M575.9 470.6L575.5 467M575.9 470.6L575.5 474.1M575.9 470.6L580.3 467M575.9 470.6L580.3 474.1M594.4 470.6L589.5 467M594.4 470.6L589.5 474.1M594.4 470.6L594.4 467M594.4 470.6L594.4 474.1M603.5 470.6L599 467M603.5 470.6L599 474.1" stroke="#2a8fd6" stroke-width="1.0" fill="none"/>
<path d="M516.2 467L520.8 463.4M516.2 474.1L520.8 477.5M520.8 467L520.8 463.4M520.8 474.1L520.8 477.5M525.5 467L530.1 463.4M525.5 474.1L530.1 477.5M534.8 467L530.1 463.4M534.8 474.1L530.1 477.5M539.6 467L539.8 463.4M539.6 474.1L539.8 477.5M543.6 467L547.8 463.4M543.6 474.1L547.8 477.5M544.2 467L539.8 463.4M544.2 474.1L539.8 477.5M548.2 467L547.8 463.4M548.2 474.1L547.8 477.5M553 467L557.4 463.4M553 474.1L557.4 477.5M562.1 467L557.4 463.4M562.1 474.1L557.4 477.5M567 467L567.1 463.4M567 474.1L567.1 477.5M571 467L575.1 463.4M571 474.1L575.1 477.5M571.5 467L567.1 463.4M571.5 474.1L567.1 477.5M575.5 467L575.1 463.4M575.5 474.1L575.1 477.5M580.3 467L584.7 463.4M580.3 474.1L584.7 477.5M589.5 467L584.7 463.4M589.5 474.1L584.7 477.5M594.4 467L594.4 463.4M594.4 474.1L594.4 477.5M599 467L594.4 463.4M599 474.1L594.4 477.5" stroke="#e8906a" stroke-width="1.0" fill="none"/>
<circle cx="520.8" cy="463.4" r="1.3" fill="url(#gI)"/>
<circle cx="530.1" cy="463.4" r="1.3" fill="url(#gI)"/>
<circle cx="539.8" cy="463.4" r="1.3" fill="url(#gI)"/>
<circle cx="547.8" cy="463.4" r="1.3" fill="url(#gI)"/>
<circle cx="557.4" cy="463.4" r="1.3" fill="url(#gI)"/>
<circle cx="567.1" cy="463.4" r="1.3" fill="url(#gI)"/>
<circle cx="575.1" cy="463.4" r="1.3" fill="url(#gI)"/>
<circle cx="584.7" cy="463.4" r="1.3" fill="url(#gI)"/>
<circle cx="594.4" cy="463.4" r="1.3" fill="url(#gI)"/>
<circle cx="520.8" cy="477.5" r="1.3" fill="url(#gI)"/>
<circle cx="530.1" cy="477.5" r="1.3" fill="url(#gI)"/>
<circle cx="539.8" cy="477.5" r="1.3" fill="url(#gI)"/>
<circle cx="547.8" cy="477.5" r="1.3" fill="url(#gI)"/>
<circle cx="557.4" cy="477.5" r="1.3" fill="url(#gI)"/>
<circle cx="567.1" cy="477.5" r="1.3" fill="url(#gI)"/>
<circle cx="575.1" cy="477.5" r="1.3" fill="url(#gI)"/>
<circle cx="584.7" cy="477.5" r="1.3" fill="url(#gI)"/>
<circle cx="594.4" cy="477.5" r="1.3" fill="url(#gI)"/>
<circle cx="511.7" cy="470.6" r="1.7" fill="url(#gCr)"/>
<circle cx="520.8" cy="470.6" r="1.7" fill="url(#gCr)"/>
<circle cx="539.5" cy="470.6" r="1.7" fill="url(#gCr)"/>
<circle cx="548.6" cy="470.6" r="1.7" fill="url(#gCr)"/>
<circle cx="566.8" cy="470.6" r="1.7" fill="url(#gCr)"/>
<circle cx="575.9" cy="470.6" r="1.7" fill="url(#gCr)"/>
<circle cx="594.4" cy="470.6" r="1.7" fill="url(#gCr)"/>
<circle cx="603.5" cy="470.6" r="1.7" fill="url(#gCr)"/>
<path d="M516.3 498.7L518.8 495.7M516.3 498.7L511.7 495.7M516.3 498.7L513.9 501.8M516.3 498.7L520.8 501.8M530.1 498.7L532.5 495.7M530.1 498.7L525.5 495.7M530.1 498.7L527.7 501.8M530.1 498.7L534.5 501.8M543.9 498.7L546.3 495.7M543.9 498.7L539.3 495.7M543.9 498.7L541.5 501.8M543.9 498.7L548.3 501.8M557.7 498.7L560.1 495.7M557.7 498.7L553.1 495.7M557.7 498.7L555.3 501.8M557.7 498.7L562.1 501.8M571.5 498.7L574 495.7M571.5 498.7L567 495.7M571.5 498.7L569.1 501.8M571.5 498.7L576 501.8M585.3 498.7L587.8 495.7M585.3 498.7L580.8 495.7M585.3 498.7L582.9 501.8M585.3 498.7L589.8 501.8M599.1 498.7L601.5 495.7M599.1 498.7L594.5 495.7M599.1 498.7L596.7 501.8M599.1 498.7L603.5 501.8" stroke="#e040d0" stroke-width="1.0" fill="none"/>
<path d="M518.8 495.7L521.2 492.7M511.7 495.7L507.2 492.7M513.9 501.8L511.5 504.8M520.8 501.8L525.2 504.8M532.5 495.7L535 492.7M525.5 495.7L521 492.7M527.7 501.8L525.3 504.8M534.5 501.8L539 504.8M546.3 495.7L548.8 492.7M539.3 495.7L534.8 492.7M541.5 501.8L539.1 504.8M548.3 501.8L552.8 504.8M560.1 495.7L562.6 492.7M553.1 495.7L548.6 492.7M555.3 501.8L552.9 504.8M562.1 501.8L566.6 504.8M574 495.7L576.4 492.7M567 495.7L562.4 492.7M569.1 501.8L566.7 504.8M576 501.8L580.4 504.8M587.8 495.7L590.2 492.7M580.8 495.7L576.2 492.7M582.9 501.8L580.5 504.8M589.8 501.8L594.2 504.8M601.5 495.7L604 492.7M594.5 495.7L590 492.7M596.7 501.8L594.3 504.8M603.5 501.8L608 504.8" stroke="#d8d840" stroke-width="1.0" fill="none"/>
<circle cx="521.2" cy="492.7" r="1.5" fill="url(#gSe)"/>
<circle cx="535" cy="492.7" r="1.5" fill="url(#gSe)"/>
<circle cx="548.8" cy="492.7" r="1.5" fill="url(#gSe)"/>
<circle cx="562.6" cy="492.7" r="1.5" fill="url(#gSe)"/>
<circle cx="576.4" cy="492.7" r="1.5" fill="url(#gSe)"/>
<circle cx="590.2" cy="492.7" r="1.5" fill="url(#gSe)"/>
<circle cx="604" cy="492.7" r="1.5" fill="url(#gSe)"/>
<circle cx="511.5" cy="504.8" r="1.5" fill="url(#gSe)"/>
<circle cx="525.3" cy="504.8" r="1.5" fill="url(#gSe)"/>
<circle cx="539.1" cy="504.8" r="1.5" fill="url(#gSe)"/>
<circle cx="552.9" cy="504.8" r="1.5" fill="url(#gSe)"/>
<circle cx="566.7" cy="504.8" r="1.5" fill="url(#gSe)"/>
<circle cx="580.5" cy="504.8" r="1.5" fill="url(#gSe)"/>
<circle cx="594.3" cy="504.8" r="1.5" fill="url(#gSe)"/>
<circle cx="516.3" cy="498.7" r="1.8" fill="url(#gMn)"/>
<circle cx="530.1" cy="498.7" r="1.8" fill="url(#gMn)"/>
<circle cx="543.9" cy="498.7" r="1.8" fill="url(#gMn)"/>
<circle cx="557.7" cy="498.7" r="1.8" fill="url(#gMn)"/>
<circle cx="571.5" cy="498.7" r="1.8" fill="url(#gMn)"/>
<circle cx="585.3" cy="498.7" r="1.8" fill="url(#gMn)"/>
<circle cx="599.1" cy="498.7" r="1.8" fill="url(#gMn)"/>
</g>
<line x1="506.9" y1="470.3" x2="518.3" y2="470.3" stroke="#222" stroke-width="1"/>
<line x1="506.9" y1="498.8" x2="518.3" y2="498.8" stroke="#222" stroke-width="1"/>
<line x1="512.5" y1="474" x2="512.5" y2="495" stroke="#222" stroke-width="1" stroke-dasharray="1.6,1.3"/>
<polygon points="512.5,470.6 510.3,475.2 514.7,475.2" fill="#111"/>
<polygon points="512.5,498.5 510.3,493.9 514.7,493.9" fill="#111"/>
<text x="496.3" y="491.2" font-size="15" font-style="italic">d</text>
</svg>
</body></html>
